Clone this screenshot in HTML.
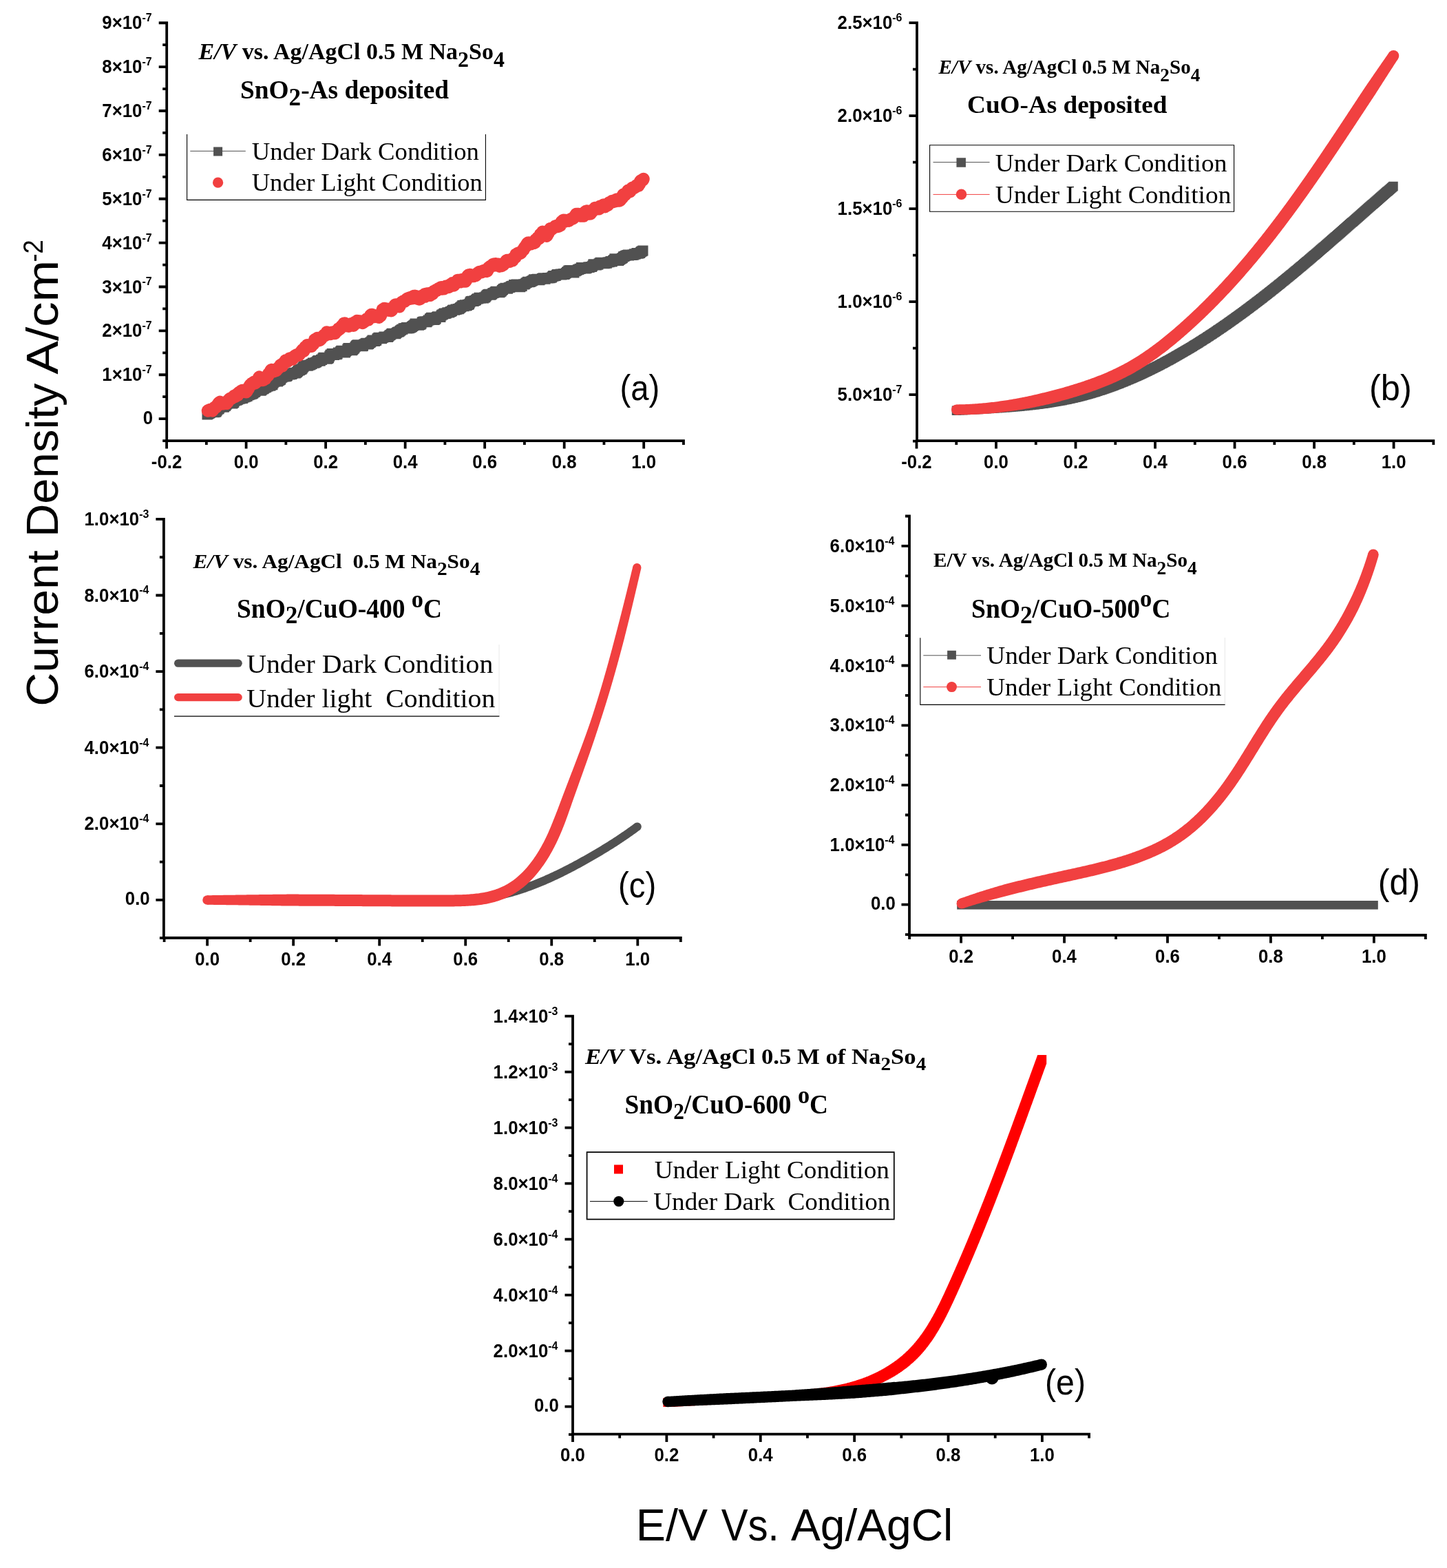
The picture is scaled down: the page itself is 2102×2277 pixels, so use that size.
<!DOCTYPE html>
<html lang="en"><head><meta charset="utf-8"><title>Photocurrent density curves</title>
<style>html,body{margin:0;padding:0;background:#fff}body{width:2102px;height:2277px;overflow:hidden}svg{display:block}text{white-space:pre}</style></head>
<body>
<svg width="2102" height="2277" viewBox="0 0 2102 2277" role="img" aria-label="Photocurrent density versus potential curves, panels a to e">
<rect width="2102" height="2277" fill="#fff"/>
<g id="curves">
<path d="M293.5 594.5h15v15h-15zM294.57 593.9h15v15h-15zM295.64 593.32h15v15h-15zM296.71 592.76h15v15h-15zM297.77 591.91h15v15h-15zM298.85 591.29h15v15h-15zM299.92 591.1h15v15h-15zM300.99 590.55h15v15h-15zM302.06 590.27h15v15h-15zM303.13 591.01h15v15h-15zM304.21 591.16h15v15h-15zM305.28 590.06h15v15h-15zM306.35 590.74h15v15h-15zM307.43 589.15h15v15h-15zM308.51 587.59h15v15h-15zM309.58 586.46h15v15h-15zM310.66 586.14h15v15h-15zM311.74 584.2h15v15h-15zM312.81 583.64h15v15h-15zM313.89 583.53h15v15h-15zM314.97 583.83h15v15h-15zM316.05 583.65h15v15h-15zM317.13 583.68h15v15h-15zM318.21 583.48h15v15h-15zM319.29 581.95h15v15h-15zM320.37 581.68h15v15h-15zM321.45 579.93h15v15h-15zM322.53 578.67h15v15h-15zM323.61 577.17h15v15h-15zM324.69 577.69h15v15h-15zM325.78 576.31h15v15h-15zM326.86 576.74h15v15h-15zM327.94 578.24h15v15h-15zM329.02 578.55h15v15h-15zM330.11 578.52h15v15h-15zM331.19 577.69h15v15h-15zM332.27 576.88h15v15h-15zM333.36 574.83h15v15h-15zM334.44 574.29h15v15h-15zM335.52 573.5h15v15h-15zM336.61 573.82h15v15h-15zM337.69 572.88h15v15h-15zM338.78 572.31h15v15h-15zM339.86 571.38h15v15h-15zM340.95 571.74h15v15h-15zM342.03 570.87h15v15h-15zM343.11 571.34h15v15h-15zM344.2 570.5h15v15h-15zM345.28 571.01h15v15h-15zM346.37 569.05h15v15h-15zM347.45 569.41h15v15h-15zM348.53 568.43h15v15h-15zM349.62 568.64h15v15h-15zM350.7 567.94h15v15h-15zM351.79 567.86h15v15h-15zM352.87 566.31h15v15h-15zM353.95 566.31h15v15h-15zM355.04 565.33h15v15h-15zM356.12 565.4h15v15h-15zM357.2 564.58h15v15h-15zM358.29 564.84h15v15h-15zM359.37 564.17h15v15h-15zM360.45 563.55h15v15h-15zM361.53 562.19h15v15h-15zM362.61 562h15v15h-15zM363.7 560.81h15v15h-15zM364.78 559.4h15v15h-15zM365.86 558.49h15v15h-15zM366.94 558.19h15v15h-15zM368.02 558.44h15v15h-15zM369.1 558.83h15v15h-15zM370.18 559.51h15v15h-15zM371.26 559.66h15v15h-15zM372.34 559.2h15v15h-15zM373.41 557.9h15v15h-15zM374.49 557.25h15v15h-15zM375.57 557.14h15v15h-15zM376.65 555.97h15v15h-15zM377.72 554.63h15v15h-15zM378.8 555.13h15v15h-15zM379.87 554.29h15v15h-15zM380.95 553.29h15v15h-15zM382.02 553.45h15v15h-15zM383.1 552.66h15v15h-15zM384.17 552.4h15v15h-15zM385.24 552.75h15v15h-15zM386.32 551.75h15v15h-15zM387.39 551.14h15v15h-15zM388.46 551.34h15v15h-15zM389.53 548.87h15v15h-15zM390.61 547.23h15v15h-15zM391.68 546.81h15v15h-15zM392.75 546.48h15v15h-15zM393.82 546.28h15v15h-15zM394.89 546.28h15v15h-15zM395.96 546.6h15v15h-15zM397.03 545.4h15v15h-15zM398.11 544.67h15v15h-15zM399.18 544.36h15v15h-15zM400.25 543.62h15v15h-15zM401.32 541.25h15v15h-15zM402.39 540.62h15v15h-15zM403.46 539.76h15v15h-15zM404.53 538.88h15v15h-15zM405.61 539.41h15v15h-15zM406.68 539.33h15v15h-15zM407.75 539.31h15v15h-15zM408.82 539.02h15v15h-15zM409.9 538.08h15v15h-15zM410.97 535.27h15v15h-15zM412.04 535.78h15v15h-15zM413.12 536.59h15v15h-15zM414.19 536.26h15v15h-15zM415.27 535.29h15v15h-15zM416.34 535.89h15v15h-15zM417.42 535.02h15v15h-15zM418.5 534.59h15v15h-15zM419.57 533.84h15v15h-15zM420.65 533.91h15v15h-15zM421.73 534.53h15v15h-15zM422.81 533.82h15v15h-15zM423.89 532.93h15v15h-15zM424.97 531.65h15v15h-15zM426.05 530.79h15v15h-15zM427.13 529.79h15v15h-15zM428.21 530.14h15v15h-15zM429.3 528.93h15v15h-15zM430.38 528.99h15v15h-15zM431.47 527.69h15v15h-15zM432.55 526.35h15v15h-15zM433.64 524.66h15v15h-15zM434.73 523.46h15v15h-15zM435.82 523.12h15v15h-15zM436.91 523.49h15v15h-15zM438 523.86h15v15h-15zM439.1 523.77h15v15h-15zM440.19 523.39h15v15h-15zM441.29 522.63h15v15h-15zM442.38 522.59h15v15h-15zM443.48 522.15h15v15h-15zM444.58 521.34h15v15h-15zM445.68 520.92h15v15h-15zM446.78 519.58h15v15h-15zM447.89 519.79h15v15h-15zM448.99 519.66h15v15h-15zM450.09 519.37h15v15h-15zM451.2 518.76h15v15h-15zM452.31 518.37h15v15h-15zM453.42 517.08h15v15h-15zM454.53 515.9h15v15h-15zM455.64 516.82h15v15h-15zM456.75 516.79h15v15h-15zM457.86 516.61h15v15h-15zM458.98 514.64h15v15h-15zM460.09 514.9h15v15h-15zM461.21 513.3h15v15h-15zM462.33 511.78h15v15h-15zM463.45 511.9h15v15h-15zM464.56 511.96h15v15h-15zM465.69 512.73h15v15h-15zM466.81 512.84h15v15h-15zM467.93 513.68h15v15h-15zM469.05 513.05h15v15h-15zM470.17 512.32h15v15h-15zM471.3 509.8h15v15h-15zM472.42 507.83h15v15h-15zM473.55 507.43h15v15h-15zM474.68 505.88h15v15h-15zM475.8 506.18h15v15h-15zM476.93 506.55h15v15h-15zM478.06 508h15v15h-15zM479.19 506.56h15v15h-15zM480.32 506.51h15v15h-15zM481.45 507.14h15v15h-15zM482.58 506.53h15v15h-15zM483.71 504.6h15v15h-15zM484.84 504.48h15v15h-15zM485.97 504.57h15v15h-15zM487.11 502.97h15v15h-15zM488.24 501.68h15v15h-15zM489.37 502.59h15v15h-15zM490.51 503h15v15h-15zM491.64 504.2h15v15h-15zM492.78 504.45h15v15h-15zM493.91 504.38h15v15h-15zM495.04 502.69h15v15h-15zM496.18 501.83h15v15h-15zM497.31 499.48h15v15h-15zM498.45 498.11h15v15h-15zM499.59 498.2h15v15h-15zM500.72 499.22h15v15h-15zM501.86 499.39h15v15h-15zM502.99 500.54h15v15h-15zM504.13 501.34h15v15h-15zM505.27 500.13h15v15h-15zM506.4 498.95h15v15h-15zM507.54 497.86h15v15h-15zM508.67 496.05h15v15h-15zM509.81 494.54h15v15h-15zM510.95 493.7h15v15h-15zM512.08 493.26h15v15h-15zM513.22 493.18h15v15h-15zM514.35 493.16h15v15h-15zM515.49 494.59h15v15h-15zM516.62 495.17h15v15h-15zM517.76 495.12h15v15h-15zM518.89 495.35h15v15h-15zM520.03 494.76h15v15h-15zM521.16 492.39h15v15h-15zM522.3 492.33h15v15h-15zM523.43 491.2h15v15h-15zM524.56 490.86h15v15h-15zM525.7 491.13h15v15h-15zM526.83 492.47h15v15h-15zM527.96 492.08h15v15h-15zM529.09 490.87h15v15h-15zM530.23 490.12h15v15h-15zM531.36 489.14h15v15h-15zM532.49 487.71h15v15h-15zM533.62 486.61h15v15h-15zM534.75 487.86h15v15h-15zM535.88 487.55h15v15h-15zM537.01 488.12h15v15h-15zM538.13 487.18h15v15h-15zM539.26 486.68h15v15h-15zM540.39 484.44h15v15h-15zM541.52 483.46h15v15h-15zM542.64 482.8h15v15h-15zM543.77 482.91h15v15h-15zM544.9 482.98h15v15h-15zM546.02 484.08h15v15h-15zM547.15 484.31h15v15h-15zM548.27 483.07h15v15h-15zM549.4 482.61h15v15h-15zM550.52 481.61h15v15h-15zM551.65 482.07h15v15h-15zM552.77 481.7h15v15h-15zM553.9 481.69h15v15h-15zM555.02 481.88h15v15h-15zM556.14 481.97h15v15h-15zM557.27 480.65h15v15h-15zM558.39 479.47h15v15h-15zM559.52 478.93h15v15h-15zM560.64 477.64h15v15h-15zM561.76 476.78h15v15h-15zM562.89 477.2h15v15h-15zM564.01 477.21h15v15h-15zM565.13 477.03h15v15h-15zM566.26 477.21h15v15h-15zM567.38 477.2h15v15h-15zM568.51 476.03h15v15h-15zM569.63 474.92h15v15h-15zM570.76 474.57h15v15h-15zM571.88 474.42h15v15h-15zM573.01 473.53h15v15h-15zM574.13 472.45h15v15h-15zM575.26 471.82h15v15h-15zM576.38 470.68h15v15h-15zM577.51 470.64h15v15h-15zM578.63 469.28h15v15h-15zM579.76 469.17h15v15h-15zM580.88 468.98h15v15h-15zM582.01 468.82h15v15h-15zM583.14 467.95h15v15h-15zM584.26 469.56h15v15h-15zM585.39 469.35h15v15h-15zM586.51 469.2h15v15h-15zM587.64 468.79h15v15h-15zM588.77 468.25h15v15h-15zM589.89 467.71h15v15h-15zM591.02 467.02h15v15h-15zM592.14 466.02h15v15h-15zM593.27 465.22h15v15h-15zM594.4 464.23h15v15h-15zM595.52 462.48h15v15h-15zM596.65 462.93h15v15h-15zM597.77 463.38h15v15h-15zM598.9 463.56h15v15h-15zM600.02 464.63h15v15h-15zM601.14 464.64h15v15h-15zM602.27 464.02h15v15h-15zM603.39 463.85h15v15h-15zM604.51 462.67h15v15h-15zM605.64 460.49h15v15h-15zM606.76 459.91h15v15h-15zM607.88 459.57h15v15h-15zM609 459.43h15v15h-15zM610.12 459.19h15v15h-15zM611.24 460.27h15v15h-15zM612.36 460.16h15v15h-15zM613.48 458.97h15v15h-15zM614.6 457.46h15v15h-15zM615.72 457.55h15v15h-15zM616.84 455.44h15v15h-15zM617.95 454.65h15v15h-15zM619.07 453.72h15v15h-15zM620.19 453.88h15v15h-15zM621.3 454.84h15v15h-15zM622.42 457.04h15v15h-15zM623.53 456.98h15v15h-15zM624.65 456.26h15v15h-15zM625.76 455.29h15v15h-15zM626.87 453.08h15v15h-15zM627.99 452.19h15v15h-15zM629.1 452.27h15v15h-15zM630.21 452.39h15v15h-15zM631.32 452.72h15v15h-15zM632.43 453.12h15v15h-15zM633.54 450.56h15v15h-15zM634.65 449.46h15v15h-15zM635.76 449.29h15v15h-15zM636.86 448.29h15v15h-15zM637.97 447.59h15v15h-15zM639.08 447.88h15v15h-15zM640.18 447.83h15v15h-15zM641.29 447.16h15v15h-15zM642.39 446.16h15v15h-15zM643.5 446.49h15v15h-15zM644.6 446.43h15v15h-15zM645.7 446.1h15v15h-15zM646.81 445.04h15v15h-15zM647.91 444.98h15v15h-15zM649.01 444.1h15v15h-15zM650.11 442.66h15v15h-15zM651.21 442.56h15v15h-15zM652.31 442.78h15v15h-15zM653.41 442.63h15v15h-15zM654.5 441.59h15v15h-15zM655.6 441.98h15v15h-15zM656.7 441.56h15v15h-15zM657.79 441.06h15v15h-15zM658.89 441.24h15v15h-15zM659.98 440.37h15v15h-15zM661.08 439.21h15v15h-15zM662.17 438.43h15v15h-15zM663.26 437.55h15v15h-15zM664.36 435.93h15v15h-15zM665.45 436.41h15v15h-15zM666.54 437.16h15v15h-15zM667.63 435.21h15v15h-15zM668.72 435.63h15v15h-15zM669.81 436.44h15v15h-15zM670.91 436.11h15v15h-15zM672 434.77h15v15h-15zM673.09 434.95h15v15h-15zM674.18 433.98h15v15h-15zM675.27 431.72h15v15h-15zM676.36 430.37h15v15h-15zM677.46 429.91h15v15h-15zM678.55 429.67h15v15h-15zM679.64 430.04h15v15h-15zM680.73 430.08h15v15h-15zM681.83 428.89h15v15h-15zM682.92 429.12h15v15h-15zM684.02 428.09h15v15h-15zM685.11 426.65h15v15h-15zM686.21 426.22h15v15h-15zM687.31 426.38h15v15h-15zM688.4 424.7h15v15h-15zM689.5 424.69h15v15h-15zM690.6 425.74h15v15h-15zM691.7 424.99h15v15h-15zM692.8 424.63h15v15h-15zM693.91 425.4h15v15h-15zM695.01 425.5h15v15h-15zM696.12 424.21h15v15h-15zM697.22 424.6h15v15h-15zM698.33 423.07h15v15h-15zM699.44 421.45h15v15h-15zM700.55 420.64h15v15h-15zM701.66 420.03h15v15h-15zM702.77 419.83h15v15h-15zM703.88 420.8h15v15h-15zM705 420.72h15v15h-15zM706.12 420.23h15v15h-15zM707.23 419.38h15v15h-15zM708.35 418.33h15v15h-15zM709.47 418.02h15v15h-15zM710.59 417.54h15v15h-15zM711.72 416.62h15v15h-15zM712.84 415.82h15v15h-15zM713.97 415.9h15v15h-15zM715.09 415.84h15v15h-15zM716.22 416.21h15v15h-15zM717.35 416.77h15v15h-15zM718.48 417.35h15v15h-15zM719.62 416.32h15v15h-15zM720.75 415.56h15v15h-15zM721.89 413.99h15v15h-15zM723.02 412.99h15v15h-15zM724.16 411.69h15v15h-15zM725.3 411.74h15v15h-15zM726.44 410.64h15v15h-15zM727.58 410.83h15v15h-15zM728.73 410.81h15v15h-15zM729.87 411.67h15v15h-15zM731.02 410.43h15v15h-15zM732.17 409.87h15v15h-15zM733.31 410.06h15v15h-15zM734.47 408.84h15v15h-15zM735.62 407.98h15v15h-15zM736.77 407.78h15v15h-15zM737.92 407.93h15v15h-15zM739.08 406.08h15v15h-15zM740.24 406.81h15v15h-15zM741.39 405.94h15v15h-15zM742.55 405.44h15v15h-15zM743.71 406.4h15v15h-15zM744.87 407.56h15v15h-15zM746.03 408.89h15v15h-15zM747.2 409.11h15v15h-15zM748.36 409.14h15v15h-15zM749.52 407.7h15v15h-15zM750.69 407.93h15v15h-15zM751.85 405.58h15v15h-15zM753.02 405.32h15v15h-15zM754.18 405.53h15v15h-15zM755.35 404.66h15v15h-15zM756.52 403.52h15v15h-15zM757.68 402.96h15v15h-15zM758.85 401.7h15v15h-15zM760.02 401.63h15v15h-15zM761.19 402.27h15v15h-15zM762.35 401.96h15v15h-15zM763.52 401.45h15v15h-15zM764.69 400.73h15v15h-15zM765.86 400.23h15v15h-15zM767.03 399.52h15v15h-15zM768.2 398.22h15v15h-15zM769.36 398.44h15v15h-15zM770.53 398.45h15v15h-15zM771.7 397.88h15v15h-15zM772.87 397.74h15v15h-15zM774.04 398.65h15v15h-15zM775.21 398.54h15v15h-15zM776.37 399.24h15v15h-15zM777.54 398.32h15v15h-15zM778.71 397.74h15v15h-15zM779.88 396.96h15v15h-15zM781.05 396.42h15v15h-15zM782.21 396.2h15v15h-15zM783.38 396.94h15v15h-15zM784.55 397.83h15v15h-15zM785.71 396.36h15v15h-15zM786.88 396.45h15v15h-15zM788.05 395.89h15v15h-15zM789.22 396.58h15v15h-15zM790.38 395.89h15v15h-15zM791.55 396.14h15v15h-15zM792.71 395.85h15v15h-15zM793.88 395.38h15v15h-15zM795.05 394.35h15v15h-15zM796.21 392.91h15v15h-15zM797.38 393.53h15v15h-15zM798.54 392.93h15v15h-15zM799.71 392.89h15v15h-15zM800.87 391.69h15v15h-15zM802.04 390.94h15v15h-15zM803.2 390.98h15v15h-15zM804.37 391.35h15v15h-15zM805.53 391.08h15v15h-15zM806.7 390.54h15v15h-15zM807.86 391.43h15v15h-15zM809.03 391.2h15v15h-15zM810.19 390.23h15v15h-15zM811.36 389.97h15v15h-15zM812.52 391.08h15v15h-15zM813.68 390.02h15v15h-15zM814.85 389.07h15v15h-15zM816.01 387.77h15v15h-15zM817.17 387.08h15v15h-15zM818.34 385.53h15v15h-15zM819.5 385.32h15v15h-15zM820.66 384.95h15v15h-15zM821.82 386.8h15v15h-15zM822.99 386.79h15v15h-15zM824.15 386.86h15v15h-15zM825.31 388.39h15v15h-15zM826.47 388.46h15v15h-15zM827.63 386.1h15v15h-15zM828.79 386.15h15v15h-15zM829.95 385.36h15v15h-15zM831.12 384.73h15v15h-15zM832.28 383.74h15v15h-15zM833.44 384.1h15v15h-15zM834.6 382.63h15v15h-15zM835.76 382.92h15v15h-15zM836.92 381.07h15v15h-15zM838.08 381.45h15v15h-15zM839.23 381.25h15v15h-15zM840.39 381.52h15v15h-15zM841.55 381.7h15v15h-15zM842.71 382.52h15v15h-15zM843.87 382.28h15v15h-15zM845.03 381.66h15v15h-15zM846.19 381.08h15v15h-15zM847.34 380.37h15v15h-15zM848.5 380.9h15v15h-15zM849.66 380.28h15v15h-15zM850.82 380.03h15v15h-15zM851.97 379.93h15v15h-15zM853.13 378.81h15v15h-15zM854.29 376.54h15v15h-15zM855.44 376.36h15v15h-15zM856.6 377.33h15v15h-15zM857.75 377.41h15v15h-15zM858.91 377.42h15v15h-15zM860.06 376.72h15v15h-15zM861.22 376.64h15v15h-15zM862.37 375.46h15v15h-15zM863.53 374.42h15v15h-15zM864.68 373.76h15v15h-15zM865.83 374.34h15v15h-15zM866.99 374.47h15v15h-15zM868.14 374.52h15v15h-15zM869.29 375.02h15v15h-15zM870.45 375.13h15v15h-15zM871.6 375h15v15h-15zM872.75 374.07h15v15h-15zM873.9 374.63h15v15h-15zM875.05 373.52h15v15h-15zM876.2 373.15h15v15h-15zM877.36 373.36h15v15h-15zM878.51 372.87h15v15h-15zM879.66 372.09h15v15h-15zM880.81 372.38h15v15h-15zM881.96 372.34h15v15h-15zM883.1 371.04h15v15h-15zM884.25 370.04h15v15h-15zM885.4 368.3h15v15h-15zM886.55 369.26h15v15h-15zM887.7 369.2h15v15h-15zM888.85 369.42h15v15h-15zM889.99 370.42h15v15h-15zM891.14 370.97h15v15h-15zM892.29 369.92h15v15h-15zM893.43 369.03h15v15h-15zM894.58 368.19h15v15h-15zM895.72 367.85h15v15h-15zM896.87 366.96h15v15h-15zM898.01 365.23h15v15h-15zM899.16 364.89h15v15h-15zM900.3 364.34h15v15h-15zM901.45 363.76h15v15h-15zM902.59 363.18h15v15h-15zM903.73 362.97h15v15h-15zM904.87 362.54h15v15h-15zM906.02 363.39h15v15h-15zM907.16 362.64h15v15h-15zM908.3 362.78h15v15h-15zM909.44 363.03h15v15h-15zM910.58 363.02h15v15h-15zM911.72 362.28h15v15h-15zM912.86 362.74h15v15h-15zM914 361.31h15v15h-15zM915.14 361.72h15v15h-15zM916.28 361.17h15v15h-15zM917.41 360.06h15v15h-15zM918.55 360.26h15v15h-15zM919.69 360.73h15v15h-15zM920.82 360.31h15v15h-15zM921.96 359.93h15v15h-15zM923.1 358.87h15v15h-15zM924.23 357.71h15v15h-15zM925.37 357.19h15v15h-15zM926.5 356.5h15v15h-15z" fill="#515151"/>
<path d="M302 596.5L303.09 595.83L304.18 595.33L305.27 595.03L306.36 595.33L307.45 595.91L308.53 596.33L309.61 594.98L310.69 592.58L311.77 591.89L312.85 591.59L313.92 591.15L315 588.93L316.07 588.32L317.14 586.21L318.21 584.79L319.27 584.07L320.34 584.98L321.4 586.45L322.46 586.11L323.52 586.23L324.58 585.74L325.63 584.62L326.69 585.12L327.74 585.61L328.79 585.82L329.84 584.33L330.89 583.67L331.93 581.24L332.98 580.05L334.02 578.95L335.06 579.13L336.1 578.79L337.14 577.63L338.17 576.65L339.21 576.57L340.24 575.01L341.27 575.02L342.3 575.63L343.33 574.15L344.36 572.48L345.38 573.74L346.41 571.09L347.43 569.79L348.45 570.4L349.47 568.99L350.49 567.63L351.51 568.73L352.52 567.07L353.53 567.26L354.55 567.94L355.56 567.7L356.57 568.39L357.58 569.37L358.59 568.09L359.59 565.67L360.6 564.72L361.6 562.22L362.6 560.83L363.61 558.93L364.61 558.56L365.61 556.87L366.6 557.9L367.6 555.82L368.6 554.98L369.59 555.38L370.59 556.48L371.58 555.17L372.57 554.61L373.56 552.98L374.56 552.41L375.54 549.78L376.53 547.58L377.52 549.47L378.51 552.02L379.5 551.16L380.48 551.35L381.47 552.05L382.45 551.92L383.44 550.8L384.42 550.43L385.4 550.01L386.38 547.53L387.37 546.55L388.35 546.16L389.33 545.48L390.31 542.53L391.29 542.67L392.27 541.58L393.25 538.41L394.23 537.08L395.2 539.06L396.18 537.75L397.16 537.74L398.14 539.16L399.11 538.49L400.09 537.17L401.07 538.23L402.05 536.19L403.02 536.03L404 534.87L404.97 533.51L405.95 533.16L406.93 532.38L407.9 529.87L408.88 530.6L409.86 531.59L410.84 529.56L411.81 527.6L412.79 527.57L413.77 525.89L414.74 523.62L415.72 524.57L416.7 524.19L417.68 524.74L418.66 523.05L419.64 521.91L420.62 520.53L421.6 521.76L422.58 520.71L423.56 521.46L424.54 521.59L425.52 520.47L426.5 519.29L427.49 517.67L428.47 516.92L429.45 516.62L430.44 515.79L431.42 515.27L432.41 515.25L433.4 516.12L434.38 515.21L435.37 514.15L436.36 512.45L437.35 511.25L438.34 509.6L439.33 508.33L440.32 508.38L441.32 509.68L442.31 506.72L443.31 504.22L444.3 504.07L445.3 503.41L446.3 501.31L447.3 502.55L448.3 503.48L449.3 502.85L450.3 501.36L451.3 502.66L452.31 502.7L453.31 500.97L454.32 499.97L455.33 499.58L456.33 496.7L457.34 493.29L458.36 492.7L459.37 493.05L460.38 491.56L461.4 490.91L462.41 493.57L463.43 494.13L464.45 493.93L465.47 492.82L466.5 491.93L467.52 490.15L468.55 489.32L469.58 488.34L470.61 486.85L471.64 487.53L472.68 485.93L473.72 485.38L474.76 482.47L475.8 484.43L476.85 483.93L477.89 484.51L478.95 483.49L480 484.96L481.06 484.36L482.12 482.65L483.18 483.59L484.25 483.81L485.32 482.29L486.39 484.08L487.47 482.6L488.55 481.52L489.63 479.82L490.72 479.7L491.81 477.37L492.91 478.1L494.01 477.37L495.11 475.76L496.21 473.83L497.32 473.29L498.44 471.78L499.56 469.85L500.68 469.47L501.8 471.54L502.93 471.24L504.06 473.02L505.2 472.7L506.33 473.63L507.47 471.09L508.61 470.73L509.76 470.47L510.9 470.14L512.04 471.17L513.19 472.72L514.34 471.52L515.49 467.98L516.63 469.68L517.78 467.85L518.93 466.07L520.08 466.24L521.23 468.02L522.38 467.75L523.53 466.57L524.67 467.77L525.82 468.38L526.96 468.95L528.11 467.08L529.25 466.96L530.39 466.47L531.53 464.86L532.67 463.29L533.8 464.33L534.93 464.35L536.06 460.98L537.19 460.11L538.31 457.92L539.43 456.95L540.55 457.03L541.67 458.1L542.78 457.99L543.9 459.94L545.01 458.82L546.12 459.26L547.22 459.29L548.33 459.76L549.43 459.87L550.54 460.77L551.64 458.5L552.74 458.86L553.84 455.77L554.93 452.98L556.03 449.29L557.13 450.36L558.22 447.97L559.32 449.15L560.41 449.45L561.5 450.68L562.6 448.7L563.69 449.51L564.79 450.63L565.88 450.34L566.97 450.35L568.07 451.28L569.16 450.39L570.25 447.17L571.35 446.14L572.45 446.13L573.54 443.28L574.64 442.43L575.74 443.97L576.84 444.7L577.94 443.26L579.04 444.98L580.14 445.18L581.25 442.75L582.35 440.18L583.46 439.13L584.57 438.77L585.67 437.65L586.78 437.43L587.89 437.68L589 436.42L590.11 435.04L591.22 434.03L592.34 434.71L593.45 432.84L594.56 434.05L595.68 433.13L596.79 432L597.9 431.88L599.02 433.29L600.14 430.56L601.25 429.91L602.37 431.46L603.48 429.96L604.6 430.46L605.72 432.69L606.84 433.62L607.95 433.21L609.07 434.38L610.19 433.83L611.31 433.12L612.42 430.22L613.54 430.29L614.66 429.83L615.78 428.53L616.89 427.27L618.01 430.43L619.13 427.62L620.25 426.42L621.36 428.42L622.48 427.57L623.6 426.01L624.72 428.82L625.83 427.86L626.95 425.75L628.07 426.95L629.18 425.08L630.3 422.87L631.42 422.8L632.54 422.59L633.65 421.32L634.77 421.51L635.89 420.24L637.01 419.21L638.12 418.83L639.24 418.51L640.36 417.48L641.47 417.2L642.59 419.46L643.71 419.24L644.83 419.28L645.94 417.28L647.06 418.15L648.18 415.75L649.29 415.8L650.41 415.17L651.53 416.99L652.64 416.45L653.76 413.84L654.88 412.82L655.99 412.29L657.11 411.28L658.23 411.55L659.35 414.47L660.46 411.85L661.58 410.52L662.7 410.96L663.81 409.5L664.93 407.08L666.05 407.02L667.16 409.07L668.28 409.3L669.4 407.62L670.51 406.33L671.63 408.29L672.75 406.83L673.86 407.09L674.98 408.44L676.1 408.42L677.21 406.69L678.33 403.43L679.45 400.69L680.56 399.47L681.68 400.27L682.79 398.95L683.91 400.32L685.03 400.96L686.14 400.91L687.26 400.57L688.38 400.96L689.49 400.34L690.61 400.19L691.73 399.45L692.84 397.7L693.96 396.51L695.08 396.36L696.19 395.11L697.31 394.76L698.42 395.06L699.54 395.33L700.66 394.77L701.77 393.29L702.89 393.08L704 393.57L705.11 393.35L706.22 392.85L707.34 393.92L708.45 392.22L709.55 389.12L710.66 388.32L711.77 387.19L712.87 386.98L713.98 386.4L715.08 385.26L716.18 383.8L717.27 385.55L718.37 384.05L719.46 383.3L720.55 384.46L721.64 385.34L722.72 383.86L723.8 383.84L724.88 385.86L725.96 386.64L727.03 385.61L728.1 385.15L729.16 385.92L730.22 384.9L731.28 384.61L732.33 383.08L733.38 381.83L734.42 380.4L735.46 378.67L736.5 378.1L737.52 378.98L738.55 379.3L739.57 377.82L740.59 379.72L741.6 379.23L742.6 377.85L743.61 376.46L744.61 378.3L745.61 375.05L746.6 374.05L747.59 374.44L748.58 373.68L749.57 369.63L750.55 369.42L751.54 368.27L752.52 367.71L753.5 367.71L754.48 368.08L755.45 367.98L756.43 367.44L757.41 365.92L758.39 364.57L759.36 363.63L760.34 362.78L761.32 360.66L762.3 359.22L763.28 358.48L764.26 356.69L765.24 355L766.22 353.46L767.21 352.72L768.19 352.54L769.18 353.67L770.17 353.32L771.16 354.23L772.15 352.89L773.14 353.34L774.13 352.62L775.12 352.97L776.12 351.72L777.11 352.14L778.11 348.21L779.11 347.78L780.11 346.97L781.11 345.4L782.11 344.85L783.11 346.38L784.12 343.45L785.12 340.32L786.13 340.41L787.13 339.24L788.14 336.77L789.15 337.73L790.16 338.93L791.18 339.81L792.19 340.36L793.21 342.31L794.22 342.69L795.24 340.65L796.26 339L797.28 336.79L798.3 333.85L799.33 332.11L800.35 332.66L801.38 332.92L802.41 331.83L803.43 331.07L804.46 330.5L805.5 329.7L806.53 328.37L807.56 329.13L808.6 328.95L809.64 328.99L810.68 328.88L811.72 328.48L812.76 327.34L813.8 327.27L814.85 323.61L815.89 321.83L816.94 321.35L817.99 320.02L819.04 319.77L820.09 321.76L821.15 320.83L822.2 320L823.26 320.49L824.32 320.16L825.38 320.01L826.44 320.64L827.5 319.55L828.56 319.14L829.63 318.12L830.7 317.67L831.77 317.42L832.84 316.99L833.91 315.37L834.98 314.55L836.06 312.7L837.13 310.91L838.21 310.92L839.29 311.17L840.37 311.07L841.45 311.68L842.54 311.79L843.62 313.46L844.71 313.1L845.8 313.48L846.89 312.62L847.98 313.48L849.07 308.78L850.17 307.9L851.27 306.65L852.36 306.59L853.46 307.2L854.56 309.13L855.67 310.47L856.77 310.46L857.87 310.3L858.98 308.2L860.09 307.31L861.2 306.16L862.31 304.05L863.42 303.8L864.53 301.98L865.64 301.89L866.76 302.88L867.87 303.19L868.98 301.71L870.1 303.21L871.21 302.56L872.33 299.49L873.44 299.47L874.55 299.52L875.67 298.66L876.78 297.5L877.89 299.33L879 300.14L880.11 299.17L881.22 298.32L882.33 298.16L883.43 297.39L884.54 294.8L885.64 294.91L886.75 293.76L887.85 293.04L888.94 291.94L890.04 293.27L891.13 292.16L892.23 291.48L893.31 292.32L894.4 291.12L895.48 289.69L896.56 290.53L897.64 291.62L898.71 289.89L899.78 291.43L900.85 290.6L901.91 289.38L902.97 287.22L904.02 287.06L905.07 282.87L906.11 283.87L907.15 283.78L908.18 282.66L909.21 280.73L910.23 280.21L911.24 279.02L912.25 276.73L913.25 277.1L914.24 277.49L915.23 278.15L916.21 275.43L917.18 275.15L918.14 273.2L919.09 272.69L920.04 272.33L920.98 272.97L921.9 271.98L922.82 271.68L923.73 271.1L924.62 269.59L925.51 269.76L926.39 269.83L927.25 269.7L928.1 268.29L928.95 267.24L929.78 264.14L930.59 262.64L931.4 262.38L932.19 262.24L932.98 261.88L933.74 261.4L934.5 260" fill="none" stroke="#f14040" stroke-width="18.5" stroke-linecap="round" stroke-linejoin="round"/>
<path d="M1382.74 589.45h13.5v13.5h-13.5zM1384.24 589.36h13.5v13.5h-13.5zM1385.74 589.27h13.5v13.5h-13.5zM1387.24 589.19h13.5v13.5h-13.5zM1388.74 589.1h13.5v13.5h-13.5zM1390.24 589.01h13.5v13.5h-13.5zM1391.73 588.93h13.5v13.5h-13.5zM1393.23 588.84h13.5v13.5h-13.5zM1394.73 588.76h13.5v13.5h-13.5zM1396.23 588.67h13.5v13.5h-13.5zM1397.73 588.59h13.5v13.5h-13.5zM1399.23 588.5h13.5v13.5h-13.5zM1400.72 588.42h13.5v13.5h-13.5zM1402.22 588.33h13.5v13.5h-13.5zM1403.72 588.25h13.5v13.5h-13.5zM1405.22 588.17h13.5v13.5h-13.5zM1406.72 588.08h13.5v13.5h-13.5zM1408.22 588h13.5v13.5h-13.5zM1409.71 587.91h13.5v13.5h-13.5zM1411.21 587.83h13.5v13.5h-13.5zM1412.71 587.74h13.5v13.5h-13.5zM1414.21 587.66h13.5v13.5h-13.5zM1415.71 587.57h13.5v13.5h-13.5zM1417.21 587.48h13.5v13.5h-13.5zM1418.7 587.4h13.5v13.5h-13.5zM1420.2 587.31h13.5v13.5h-13.5zM1421.7 587.22h13.5v13.5h-13.5zM1423.2 587.13h13.5v13.5h-13.5zM1424.7 587.04h13.5v13.5h-13.5zM1426.19 586.95h13.5v13.5h-13.5zM1427.69 586.86h13.5v13.5h-13.5zM1429.19 586.77h13.5v13.5h-13.5zM1430.69 586.68h13.5v13.5h-13.5zM1432.19 586.58h13.5v13.5h-13.5zM1433.68 586.49h13.5v13.5h-13.5zM1435.18 586.39h13.5v13.5h-13.5zM1436.68 586.3h13.5v13.5h-13.5zM1438.18 586.2h13.5v13.5h-13.5zM1439.67 586.1h13.5v13.5h-13.5zM1441.17 586h13.5v13.5h-13.5zM1442.67 585.9h13.5v13.5h-13.5zM1444.17 585.8h13.5v13.5h-13.5zM1445.66 585.69h13.5v13.5h-13.5zM1447.16 585.59h13.5v13.5h-13.5zM1448.66 585.48h13.5v13.5h-13.5zM1450.15 585.37h13.5v13.5h-13.5zM1451.65 585.26h13.5v13.5h-13.5zM1453.15 585.15h13.5v13.5h-13.5zM1454.64 585.04h13.5v13.5h-13.5zM1456.14 584.92h13.5v13.5h-13.5zM1457.64 584.8h13.5v13.5h-13.5zM1459.13 584.68h13.5v13.5h-13.5zM1460.63 584.56h13.5v13.5h-13.5zM1462.12 584.44h13.5v13.5h-13.5zM1463.62 584.32h13.5v13.5h-13.5zM1465.12 584.19h13.5v13.5h-13.5zM1466.61 584.06h13.5v13.5h-13.5zM1468.11 583.93h13.5v13.5h-13.5zM1469.6 583.8h13.5v13.5h-13.5zM1471.1 583.66h13.5v13.5h-13.5zM1472.59 583.52h13.5v13.5h-13.5zM1474.08 583.38h13.5v13.5h-13.5zM1475.58 583.24h13.5v13.5h-13.5zM1477.07 583.1h13.5v13.5h-13.5zM1478.57 582.95h13.5v13.5h-13.5zM1480.06 582.8h13.5v13.5h-13.5zM1481.55 582.65h13.5v13.5h-13.5zM1483.04 582.49h13.5v13.5h-13.5zM1484.54 582.33h13.5v13.5h-13.5zM1486.03 582.17h13.5v13.5h-13.5zM1487.52 582.01h13.5v13.5h-13.5zM1489.01 581.84h13.5v13.5h-13.5zM1490.5 581.67h13.5v13.5h-13.5zM1491.99 581.5h13.5v13.5h-13.5zM1493.48 581.32h13.5v13.5h-13.5zM1494.97 581.15h13.5v13.5h-13.5zM1496.46 580.96h13.5v13.5h-13.5zM1497.95 580.78h13.5v13.5h-13.5zM1499.44 580.59h13.5v13.5h-13.5zM1500.93 580.4h13.5v13.5h-13.5zM1502.42 580.2h13.5v13.5h-13.5zM1503.91 580.01h13.5v13.5h-13.5zM1505.39 579.8h13.5v13.5h-13.5zM1506.88 579.6h13.5v13.5h-13.5zM1508.37 579.39h13.5v13.5h-13.5zM1509.85 579.18h13.5v13.5h-13.5zM1511.34 578.96h13.5v13.5h-13.5zM1512.82 578.74h13.5v13.5h-13.5zM1514.3 578.51h13.5v13.5h-13.5zM1515.79 578.29h13.5v13.5h-13.5zM1517.27 578.05h13.5v13.5h-13.5zM1518.75 577.82h13.5v13.5h-13.5zM1520.23 577.58h13.5v13.5h-13.5zM1521.72 577.34h13.5v13.5h-13.5zM1523.2 577.09h13.5v13.5h-13.5zM1524.67 576.83h13.5v13.5h-13.5zM1526.15 576.58h13.5v13.5h-13.5zM1527.63 576.32h13.5v13.5h-13.5zM1529.11 576.05h13.5v13.5h-13.5zM1530.58 575.78h13.5v13.5h-13.5zM1532.06 575.51h13.5v13.5h-13.5zM1533.54 575.23h13.5v13.5h-13.5zM1535.01 574.95h13.5v13.5h-13.5zM1536.48 574.66h13.5v13.5h-13.5zM1537.95 574.37h13.5v13.5h-13.5zM1539.43 574.07h13.5v13.5h-13.5zM1540.9 573.77h13.5v13.5h-13.5zM1542.36 573.46h13.5v13.5h-13.5zM1543.83 573.15h13.5v13.5h-13.5zM1545.3 572.84h13.5v13.5h-13.5zM1546.77 572.51h13.5v13.5h-13.5zM1548.23 572.19h13.5v13.5h-13.5zM1549.69 571.86h13.5v13.5h-13.5zM1551.16 571.52h13.5v13.5h-13.5zM1552.62 571.18h13.5v13.5h-13.5zM1554.08 570.83h13.5v13.5h-13.5zM1555.54 570.48h13.5v13.5h-13.5zM1557 570.13h13.5v13.5h-13.5zM1558.45 569.77h13.5v13.5h-13.5zM1559.91 569.4h13.5v13.5h-13.5zM1561.36 569.03h13.5v13.5h-13.5zM1562.81 568.65h13.5v13.5h-13.5zM1564.27 568.27h13.5v13.5h-13.5zM1565.72 567.89h13.5v13.5h-13.5zM1567.17 567.49h13.5v13.5h-13.5zM1568.61 567.1h13.5v13.5h-13.5zM1570.06 566.7h13.5v13.5h-13.5zM1571.5 566.29h13.5v13.5h-13.5zM1572.95 565.88h13.5v13.5h-13.5zM1574.39 565.47h13.5v13.5h-13.5zM1575.83 565.05h13.5v13.5h-13.5zM1577.27 564.63h13.5v13.5h-13.5zM1578.71 564.2h13.5v13.5h-13.5zM1580.15 563.77h13.5v13.5h-13.5zM1581.58 563.33h13.5v13.5h-13.5zM1583.02 562.89h13.5v13.5h-13.5zM1584.45 562.44h13.5v13.5h-13.5zM1585.88 561.99h13.5v13.5h-13.5zM1587.31 561.53h13.5v13.5h-13.5zM1588.74 561.08h13.5v13.5h-13.5zM1590.17 560.61h13.5v13.5h-13.5zM1591.59 560.14h13.5v13.5h-13.5zM1593.02 559.67h13.5v13.5h-13.5zM1594.44 559.19h13.5v13.5h-13.5zM1595.86 558.71h13.5v13.5h-13.5zM1597.28 558.23h13.5v13.5h-13.5zM1598.7 557.74h13.5v13.5h-13.5zM1600.12 557.24h13.5v13.5h-13.5zM1601.53 556.74h13.5v13.5h-13.5zM1602.95 556.24h13.5v13.5h-13.5zM1604.36 555.74h13.5v13.5h-13.5zM1605.77 555.23h13.5v13.5h-13.5zM1607.18 554.71h13.5v13.5h-13.5zM1608.59 554.19h13.5v13.5h-13.5zM1610 553.67h13.5v13.5h-13.5zM1611.4 553.14h13.5v13.5h-13.5zM1612.81 552.61h13.5v13.5h-13.5zM1614.21 552.08h13.5v13.5h-13.5zM1615.61 551.54h13.5v13.5h-13.5zM1617.01 551h13.5v13.5h-13.5zM1618.41 550.45h13.5v13.5h-13.5zM1619.8 549.9h13.5v13.5h-13.5zM1621.2 549.35h13.5v13.5h-13.5zM1622.59 548.79h13.5v13.5h-13.5zM1623.98 548.23h13.5v13.5h-13.5zM1625.37 547.67h13.5v13.5h-13.5zM1626.76 547.1h13.5v13.5h-13.5zM1628.15 546.53h13.5v13.5h-13.5zM1629.54 545.95h13.5v13.5h-13.5zM1630.92 545.37h13.5v13.5h-13.5zM1632.3 544.79h13.5v13.5h-13.5zM1633.68 544.2h13.5v13.5h-13.5zM1635.06 543.61h13.5v13.5h-13.5zM1636.44 543.02h13.5v13.5h-13.5zM1637.82 542.42h13.5v13.5h-13.5zM1639.19 541.82h13.5v13.5h-13.5zM1640.57 541.22h13.5v13.5h-13.5zM1641.94 540.61h13.5v13.5h-13.5zM1643.31 540h13.5v13.5h-13.5zM1644.68 539.38h13.5v13.5h-13.5zM1646.05 538.77h13.5v13.5h-13.5zM1647.42 538.14h13.5v13.5h-13.5zM1648.78 537.52h13.5v13.5h-13.5zM1650.14 536.89h13.5v13.5h-13.5zM1651.5 536.26h13.5v13.5h-13.5zM1652.87 535.63h13.5v13.5h-13.5zM1654.22 534.99h13.5v13.5h-13.5zM1655.58 534.35h13.5v13.5h-13.5zM1656.94 533.71h13.5v13.5h-13.5zM1658.29 533.06h13.5v13.5h-13.5zM1659.64 532.41h13.5v13.5h-13.5zM1661 531.76h13.5v13.5h-13.5zM1662.35 531.1h13.5v13.5h-13.5zM1663.69 530.44h13.5v13.5h-13.5zM1665.04 529.78h13.5v13.5h-13.5zM1666.39 529.12h13.5v13.5h-13.5zM1667.73 528.45h13.5v13.5h-13.5zM1669.07 527.78h13.5v13.5h-13.5zM1670.41 527.1h13.5v13.5h-13.5zM1671.75 526.43h13.5v13.5h-13.5zM1673.09 525.75h13.5v13.5h-13.5zM1674.43 525.06h13.5v13.5h-13.5zM1675.76 524.38h13.5v13.5h-13.5zM1677.1 523.69h13.5v13.5h-13.5zM1678.43 523h13.5v13.5h-13.5zM1679.76 522.3h13.5v13.5h-13.5zM1681.09 521.61h13.5v13.5h-13.5zM1682.41 520.91h13.5v13.5h-13.5zM1683.74 520.2h13.5v13.5h-13.5zM1685.07 519.5h13.5v13.5h-13.5zM1686.39 518.79h13.5v13.5h-13.5zM1687.71 518.08h13.5v13.5h-13.5zM1689.03 517.37h13.5v13.5h-13.5zM1690.35 516.65h13.5v13.5h-13.5zM1691.67 515.93h13.5v13.5h-13.5zM1692.98 515.21h13.5v13.5h-13.5zM1694.3 514.49h13.5v13.5h-13.5zM1695.61 513.76h13.5v13.5h-13.5zM1696.93 513.04h13.5v13.5h-13.5zM1698.24 512.3h13.5v13.5h-13.5zM1699.55 511.57h13.5v13.5h-13.5zM1700.85 510.84h13.5v13.5h-13.5zM1702.16 510.1h13.5v13.5h-13.5zM1703.46 509.36h13.5v13.5h-13.5zM1704.77 508.61h13.5v13.5h-13.5zM1706.07 507.87h13.5v13.5h-13.5zM1707.37 507.12h13.5v13.5h-13.5zM1708.67 506.37h13.5v13.5h-13.5zM1709.97 505.61h13.5v13.5h-13.5zM1711.27 504.86h13.5v13.5h-13.5zM1712.56 504.1h13.5v13.5h-13.5zM1713.86 503.34h13.5v13.5h-13.5zM1715.15 502.58h13.5v13.5h-13.5zM1716.44 501.82h13.5v13.5h-13.5zM1717.73 501.05h13.5v13.5h-13.5zM1719.02 500.28h13.5v13.5h-13.5zM1720.31 499.51h13.5v13.5h-13.5zM1721.59 498.73h13.5v13.5h-13.5zM1722.88 497.96h13.5v13.5h-13.5zM1724.16 497.18h13.5v13.5h-13.5zM1725.44 496.4h13.5v13.5h-13.5zM1726.72 495.62h13.5v13.5h-13.5zM1728 494.83h13.5v13.5h-13.5zM1729.28 494.05h13.5v13.5h-13.5zM1730.56 493.26h13.5v13.5h-13.5zM1731.83 492.47h13.5v13.5h-13.5zM1733.11 491.67h13.5v13.5h-13.5zM1734.38 490.88h13.5v13.5h-13.5zM1735.65 490.08h13.5v13.5h-13.5zM1736.92 489.28h13.5v13.5h-13.5zM1738.19 488.48h13.5v13.5h-13.5zM1739.46 487.68h13.5v13.5h-13.5zM1740.72 486.87h13.5v13.5h-13.5zM1741.99 486.06h13.5v13.5h-13.5zM1743.25 485.25h13.5v13.5h-13.5zM1744.51 484.44h13.5v13.5h-13.5zM1745.77 483.63h13.5v13.5h-13.5zM1747.03 482.81h13.5v13.5h-13.5zM1748.29 481.99h13.5v13.5h-13.5zM1749.55 481.17h13.5v13.5h-13.5zM1750.8 480.35h13.5v13.5h-13.5zM1752.06 479.53h13.5v13.5h-13.5zM1753.31 478.7h13.5v13.5h-13.5zM1754.56 477.88h13.5v13.5h-13.5zM1755.82 477.05h13.5v13.5h-13.5zM1757.07 476.21h13.5v13.5h-13.5zM1758.31 475.38h13.5v13.5h-13.5zM1759.56 474.55h13.5v13.5h-13.5zM1760.81 473.71h13.5v13.5h-13.5zM1762.05 472.87h13.5v13.5h-13.5zM1763.29 472.03h13.5v13.5h-13.5zM1764.54 471.19h13.5v13.5h-13.5zM1765.78 470.35h13.5v13.5h-13.5zM1767.02 469.5h13.5v13.5h-13.5zM1768.26 468.65h13.5v13.5h-13.5zM1769.49 467.8h13.5v13.5h-13.5zM1770.73 466.95h13.5v13.5h-13.5zM1771.96 466.1h13.5v13.5h-13.5zM1773.2 465.24h13.5v13.5h-13.5zM1774.43 464.39h13.5v13.5h-13.5zM1775.66 463.53h13.5v13.5h-13.5zM1776.89 462.67h13.5v13.5h-13.5zM1778.12 461.81h13.5v13.5h-13.5zM1779.35 460.95h13.5v13.5h-13.5zM1780.58 460.08h13.5v13.5h-13.5zM1781.8 459.22h13.5v13.5h-13.5zM1783.03 458.35h13.5v13.5h-13.5zM1784.25 457.48h13.5v13.5h-13.5zM1785.47 456.61h13.5v13.5h-13.5zM1786.69 455.74h13.5v13.5h-13.5zM1787.91 454.86h13.5v13.5h-13.5zM1789.13 453.99h13.5v13.5h-13.5zM1790.35 453.11h13.5v13.5h-13.5zM1791.57 452.23h13.5v13.5h-13.5zM1792.78 451.35h13.5v13.5h-13.5zM1794 450.47h13.5v13.5h-13.5zM1795.21 449.58h13.5v13.5h-13.5zM1796.42 448.7h13.5v13.5h-13.5zM1797.63 447.81h13.5v13.5h-13.5zM1798.84 446.93h13.5v13.5h-13.5zM1800.05 446.04h13.5v13.5h-13.5zM1801.26 445.15h13.5v13.5h-13.5zM1802.47 444.25h13.5v13.5h-13.5zM1803.67 443.36h13.5v13.5h-13.5zM1804.88 442.47h13.5v13.5h-13.5zM1806.08 441.57h13.5v13.5h-13.5zM1807.28 440.67h13.5v13.5h-13.5zM1808.48 439.77h13.5v13.5h-13.5zM1809.69 438.87h13.5v13.5h-13.5zM1810.89 437.97h13.5v13.5h-13.5zM1812.08 437.07h13.5v13.5h-13.5zM1813.28 436.16h13.5v13.5h-13.5zM1814.48 435.26h13.5v13.5h-13.5zM1815.67 434.35h13.5v13.5h-13.5zM1816.87 433.44h13.5v13.5h-13.5zM1818.06 432.53h13.5v13.5h-13.5zM1819.25 431.62h13.5v13.5h-13.5zM1820.45 430.71h13.5v13.5h-13.5zM1821.64 429.8h13.5v13.5h-13.5zM1822.83 428.88h13.5v13.5h-13.5zM1824.02 427.97h13.5v13.5h-13.5zM1825.2 427.05h13.5v13.5h-13.5zM1826.39 426.13h13.5v13.5h-13.5zM1827.58 425.21h13.5v13.5h-13.5zM1828.76 424.29h13.5v13.5h-13.5zM1829.95 423.37h13.5v13.5h-13.5zM1831.13 422.45h13.5v13.5h-13.5zM1832.31 421.52h13.5v13.5h-13.5zM1833.49 420.6h13.5v13.5h-13.5zM1834.67 419.67h13.5v13.5h-13.5zM1835.85 418.74h13.5v13.5h-13.5zM1837.03 417.81h13.5v13.5h-13.5zM1838.21 416.88h13.5v13.5h-13.5zM1839.39 415.95h13.5v13.5h-13.5zM1840.56 415.02h13.5v13.5h-13.5zM1841.74 414.09h13.5v13.5h-13.5zM1842.91 413.15h13.5v13.5h-13.5zM1844.09 412.22h13.5v13.5h-13.5zM1845.26 411.28h13.5v13.5h-13.5zM1846.43 410.35h13.5v13.5h-13.5zM1847.6 409.41h13.5v13.5h-13.5zM1848.78 408.47h13.5v13.5h-13.5zM1849.95 407.53h13.5v13.5h-13.5zM1851.11 406.59h13.5v13.5h-13.5zM1852.28 405.64h13.5v13.5h-13.5zM1853.45 404.7h13.5v13.5h-13.5zM1854.62 403.76h13.5v13.5h-13.5zM1855.78 402.81h13.5v13.5h-13.5zM1856.95 401.87h13.5v13.5h-13.5zM1858.11 400.92h13.5v13.5h-13.5zM1859.28 399.97h13.5v13.5h-13.5zM1860.44 399.02h13.5v13.5h-13.5zM1861.6 398.07h13.5v13.5h-13.5zM1862.76 397.12h13.5v13.5h-13.5zM1863.92 396.17h13.5v13.5h-13.5zM1865.08 395.22h13.5v13.5h-13.5zM1866.24 394.27h13.5v13.5h-13.5zM1867.4 393.31h13.5v13.5h-13.5zM1868.56 392.36h13.5v13.5h-13.5zM1869.72 391.4h13.5v13.5h-13.5zM1870.87 390.45h13.5v13.5h-13.5zM1872.03 389.49h13.5v13.5h-13.5zM1873.18 388.53h13.5v13.5h-13.5zM1874.34 387.57h13.5v13.5h-13.5zM1875.49 386.61h13.5v13.5h-13.5zM1876.65 385.65h13.5v13.5h-13.5zM1877.8 384.69h13.5v13.5h-13.5zM1878.95 383.73h13.5v13.5h-13.5zM1880.1 382.77h13.5v13.5h-13.5zM1881.25 381.8h13.5v13.5h-13.5zM1882.4 380.84h13.5v13.5h-13.5zM1883.55 379.88h13.5v13.5h-13.5zM1884.7 378.91h13.5v13.5h-13.5zM1885.85 377.94h13.5v13.5h-13.5zM1887 376.98h13.5v13.5h-13.5zM1888.15 376.01h13.5v13.5h-13.5zM1889.29 375.04h13.5v13.5h-13.5zM1890.44 374.07h13.5v13.5h-13.5zM1891.58 373.1h13.5v13.5h-13.5zM1892.73 372.13h13.5v13.5h-13.5zM1893.87 371.16h13.5v13.5h-13.5zM1895.02 370.19h13.5v13.5h-13.5zM1896.16 369.22h13.5v13.5h-13.5zM1897.31 368.25h13.5v13.5h-13.5zM1898.45 367.28h13.5v13.5h-13.5zM1899.59 366.3h13.5v13.5h-13.5zM1900.73 365.33h13.5v13.5h-13.5zM1901.87 364.35h13.5v13.5h-13.5zM1903.01 363.38h13.5v13.5h-13.5zM1904.15 362.4h13.5v13.5h-13.5zM1905.29 361.43h13.5v13.5h-13.5zM1906.43 360.45h13.5v13.5h-13.5zM1907.57 359.47h13.5v13.5h-13.5zM1908.71 358.5h13.5v13.5h-13.5zM1909.85 357.52h13.5v13.5h-13.5zM1910.99 356.54h13.5v13.5h-13.5zM1912.12 355.56h13.5v13.5h-13.5zM1913.26 354.58h13.5v13.5h-13.5zM1914.4 353.6h13.5v13.5h-13.5zM1915.53 352.62h13.5v13.5h-13.5zM1916.67 351.64h13.5v13.5h-13.5zM1917.81 350.66h13.5v13.5h-13.5zM1918.94 349.68h13.5v13.5h-13.5zM1920.08 348.69h13.5v13.5h-13.5zM1921.21 347.71h13.5v13.5h-13.5zM1922.34 346.73h13.5v13.5h-13.5zM1923.48 345.74h13.5v13.5h-13.5zM1924.61 344.76h13.5v13.5h-13.5zM1925.74 343.78h13.5v13.5h-13.5zM1926.88 342.79h13.5v13.5h-13.5zM1928.01 341.81h13.5v13.5h-13.5zM1929.14 340.82h13.5v13.5h-13.5zM1930.27 339.84h13.5v13.5h-13.5zM1931.41 338.85h13.5v13.5h-13.5zM1932.54 337.87h13.5v13.5h-13.5zM1933.67 336.88h13.5v13.5h-13.5zM1934.8 335.89h13.5v13.5h-13.5zM1935.93 334.91h13.5v13.5h-13.5zM1937.06 333.92h13.5v13.5h-13.5zM1938.19 332.93h13.5v13.5h-13.5zM1939.32 331.95h13.5v13.5h-13.5zM1940.45 330.96h13.5v13.5h-13.5zM1941.58 329.97h13.5v13.5h-13.5zM1942.71 328.98h13.5v13.5h-13.5zM1943.84 327.99h13.5v13.5h-13.5zM1944.97 327h13.5v13.5h-13.5zM1946.1 326.02h13.5v13.5h-13.5zM1947.23 325.03h13.5v13.5h-13.5zM1948.36 324.04h13.5v13.5h-13.5zM1949.48 323.05h13.5v13.5h-13.5zM1950.61 322.06h13.5v13.5h-13.5zM1951.74 321.07h13.5v13.5h-13.5zM1952.87 320.08h13.5v13.5h-13.5zM1954 319.09h13.5v13.5h-13.5zM1955.12 318.1h13.5v13.5h-13.5zM1956.25 317.11h13.5v13.5h-13.5zM1957.38 316.12h13.5v13.5h-13.5zM1958.51 315.13h13.5v13.5h-13.5zM1959.64 314.14h13.5v13.5h-13.5zM1960.76 313.15h13.5v13.5h-13.5zM1961.89 312.16h13.5v13.5h-13.5zM1963.02 311.17h13.5v13.5h-13.5zM1964.15 310.18h13.5v13.5h-13.5zM1965.27 309.19h13.5v13.5h-13.5zM1966.4 308.2h13.5v13.5h-13.5zM1967.53 307.21h13.5v13.5h-13.5zM1968.66 306.21h13.5v13.5h-13.5zM1969.78 305.22h13.5v13.5h-13.5zM1970.91 304.23h13.5v13.5h-13.5zM1972.04 303.24h13.5v13.5h-13.5zM1973.16 302.25h13.5v13.5h-13.5zM1974.29 301.26h13.5v13.5h-13.5zM1975.42 300.27h13.5v13.5h-13.5zM1976.55 299.28h13.5v13.5h-13.5zM1977.67 298.29h13.5v13.5h-13.5zM1978.8 297.3h13.5v13.5h-13.5zM1979.93 296.31h13.5v13.5h-13.5zM1981.06 295.32h13.5v13.5h-13.5zM1982.19 294.33h13.5v13.5h-13.5zM1983.31 293.34h13.5v13.5h-13.5zM1984.44 292.35h13.5v13.5h-13.5zM1985.57 291.36h13.5v13.5h-13.5zM1986.7 290.37h13.5v13.5h-13.5zM1987.83 289.38h13.5v13.5h-13.5zM1988.96 288.39h13.5v13.5h-13.5zM1990.09 287.41h13.5v13.5h-13.5zM1991.21 286.42h13.5v13.5h-13.5zM1992.34 285.43h13.5v13.5h-13.5zM1993.47 284.44h13.5v13.5h-13.5zM1994.6 283.45h13.5v13.5h-13.5zM1995.73 282.46h13.5v13.5h-13.5zM1996.86 281.48h13.5v13.5h-13.5zM1997.99 280.49h13.5v13.5h-13.5zM1999.12 279.5h13.5v13.5h-13.5zM2000.25 278.52h13.5v13.5h-13.5zM2001.39 277.53h13.5v13.5h-13.5zM2002.52 276.54h13.5v13.5h-13.5zM2003.65 275.56h13.5v13.5h-13.5zM2004.78 274.57h13.5v13.5h-13.5zM2005.91 273.59h13.5v13.5h-13.5zM2007.04 272.6h13.5v13.5h-13.5zM2008.18 271.62h13.5v13.5h-13.5zM2009.31 270.63h13.5v13.5h-13.5zM2010.44 269.65h13.5v13.5h-13.5zM2011.58 268.66h13.5v13.5h-13.5zM2012.71 267.68h13.5v13.5h-13.5zM2013.84 266.7h13.5v13.5h-13.5zM2014.98 265.72h13.5v13.5h-13.5zM2016.11 264.73h13.5v13.5h-13.5zM2017.25 263.75h13.5v13.5h-13.5z" fill="#515151"/>
<path d="M1389.54 602.4L1391.56 602.39L1393.59 602.37L1395.62 602.34L1397.66 602.31L1399.69 602.27L1401.73 602.24L1403.76 602.2L1405.79 602.16L1407.83 602.11L1409.86 602.05L1411.89 601.99L1413.93 601.91L1415.96 601.83L1417.99 601.74L1420.02 601.64L1422.05 601.54L1424.08 601.43L1426.11 601.31L1428.14 601.18L1430.17 601.04L1432.2 600.9L1434.23 600.75L1436.25 600.59L1438.28 600.42L1440.31 600.25L1442.33 600.07L1444.36 599.88L1446.38 599.69L1448.4 599.48L1450.43 599.27L1452.45 599.06L1454.47 598.83L1456.49 598.6L1458.51 598.36L1460.53 598.12L1462.54 597.86L1464.56 597.6L1466.58 597.34L1468.59 597.06L1470.6 596.78L1472.62 596.5L1474.63 596.2L1476.64 595.9L1478.65 595.59L1480.65 595.28L1482.66 594.96L1484.67 594.63L1486.67 594.29L1488.67 593.95L1490.68 593.6L1492.68 593.25L1494.68 592.89L1496.68 592.52L1498.67 592.15L1500.67 591.77L1502.67 591.38L1504.66 590.99L1506.65 590.59L1508.64 590.18L1510.63 589.77L1512.62 589.35L1514.61 588.93L1516.59 588.5L1518.58 588.06L1520.56 587.62L1522.54 587.17L1524.52 586.69L1526.49 586.2L1528.46 585.71L1530.43 585.22L1532.4 584.72L1534.36 584.21L1536.33 583.7L1538.29 583.18L1540.25 582.65L1542.21 582.12L1544.17 581.58L1546.13 581.04L1548.08 580.5L1550.03 579.94L1551.99 579.38L1553.93 578.82L1555.88 578.25L1557.83 577.67L1559.77 577.09L1561.72 576.51L1563.66 575.92L1565.6 575.32L1567.54 574.71L1569.48 574.1L1571.42 573.49L1573.35 572.86L1575.29 572.23L1577.22 571.6L1579.15 570.95L1581.08 570.3L1583.01 569.64L1584.94 568.97L1586.86 568.3L1588.79 567.62L1590.71 566.93L1592.62 566.23L1594.54 565.52L1596.46 564.81L1598.37 564.08L1600.28 563.35L1602.18 562.61L1604.09 561.86L1605.99 561.09L1607.89 560.32L1609.78 559.54L1611.67 558.75L1613.56 557.95L1615.44 557.14L1617.33 556.32L1619.2 555.49L1621.08 554.65L1622.95 553.8L1624.81 552.93L1626.67 552.06L1628.53 551.17L1630.38 550.27L1632.23 549.36L1634.07 548.44L1635.91 547.51L1637.74 546.57L1639.57 545.61L1641.39 544.64L1643.2 543.66L1645.01 542.67L1646.82 541.66L1648.61 540.64L1650.4 539.62L1652.18 538.58L1653.95 537.53L1655.72 536.47L1657.48 535.4L1659.23 534.32L1660.97 533.23L1662.71 532.13L1664.44 531.02L1666.16 529.9L1667.88 528.77L1669.59 527.64L1671.29 526.49L1672.98 525.34L1674.67 524.17L1676.36 523L1678.03 521.83L1679.7 520.64L1681.37 519.45L1683.02 518.24L1684.67 517.04L1686.32 515.82L1687.96 514.6L1689.59 513.37L1691.21 512.13L1692.83 510.89L1694.45 509.64L1696.06 508.39L1697.66 507.13L1699.26 505.86L1700.85 504.59L1702.44 503.31L1704.02 502.03L1705.6 500.74L1707.17 499.45L1708.74 498.15L1710.3 496.85L1711.86 495.54L1713.41 494.23L1714.96 492.92L1716.5 491.6L1718.04 490.27L1719.57 488.94L1721.1 487.61L1722.63 486.28L1724.15 484.94L1725.67 483.6L1727.18 482.25L1728.7 480.9L1730.2 479.55L1731.71 478.19L1733.21 476.83L1734.71 475.47L1736.2 474.1L1737.69 472.73L1739.18 471.35L1740.67 469.97L1742.15 468.59L1743.62 467.2L1745.1 465.82L1746.57 464.42L1748.04 463.03L1749.5 461.63L1750.96 460.23L1752.42 458.82L1753.87 457.41L1755.32 456L1756.77 454.58L1758.21 453.16L1759.66 451.74L1761.09 450.32L1762.53 448.89L1763.96 447.46L1765.39 446.02L1766.81 444.59L1768.23 443.14L1769.65 441.7L1771.07 440.25L1772.48 438.8L1773.89 437.35L1775.29 435.9L1776.69 434.44L1778.09 432.98L1779.49 431.51L1780.88 430.04L1782.27 428.57L1783.66 427.1L1785.04 425.63L1786.42 424.15L1787.8 422.67L1789.17 421.18L1790.54 419.7L1791.91 418.21L1793.27 416.72L1794.64 415.22L1795.99 413.72L1797.35 412.23L1798.7 410.72L1800.05 409.22L1801.4 407.71L1802.74 406.2L1804.09 404.69L1805.42 403.18L1806.76 401.66L1808.09 400.14L1809.42 398.62L1810.75 397.09L1812.07 395.57L1813.39 394.04L1814.71 392.51L1816.03 390.98L1817.34 389.44L1818.65 387.9L1819.95 386.36L1821.26 384.82L1822.56 383.28L1823.86 381.73L1825.16 380.18L1826.45 378.63L1827.74 377.08L1829.03 375.53L1830.31 373.97L1831.6 372.41L1832.88 370.85L1834.16 369.29L1835.43 367.72L1836.7 366.16L1837.97 364.59L1839.24 363.02L1840.51 361.45L1841.77 359.87L1843.03 358.3L1844.29 356.72L1845.54 355.14L1846.8 353.56L1848.05 351.98L1849.29 350.39L1850.54 348.81L1851.78 347.22L1853.03 345.63L1854.26 344.04L1855.5 342.44L1856.73 340.85L1857.97 339.25L1859.2 337.66L1860.42 336.06L1861.65 334.46L1862.87 332.85L1864.09 331.25L1865.31 329.64L1866.53 328.04L1867.74 326.43L1868.96 324.82L1870.17 323.21L1871.38 321.6L1872.58 319.98L1873.79 318.37L1874.99 316.75L1876.19 315.13L1877.39 313.51L1878.58 311.89L1879.78 310.27L1880.97 308.65L1882.16 307.02L1883.35 305.4L1884.54 303.77L1885.72 302.14L1886.91 300.51L1888.09 298.88L1889.27 297.25L1890.45 295.62L1891.62 293.98L1892.8 292.35L1893.97 290.71L1895.14 289.08L1896.31 287.44L1897.48 285.8L1898.65 284.16L1899.81 282.52L1900.97 280.88L1902.14 279.23L1903.3 277.59L1904.45 275.94L1905.61 274.3L1906.77 272.65L1907.92 271L1909.07 269.36L1910.23 267.71L1911.38 266.06L1912.52 264.41L1913.67 262.75L1914.82 261.1L1915.96 259.45L1917.1 257.79L1918.25 256.14L1919.39 254.48L1920.53 252.83L1921.66 251.17L1922.8 249.51L1923.94 247.85L1925.07 246.2L1926.21 244.54L1927.34 242.88L1928.47 241.22L1929.6 239.55L1930.73 237.89L1931.86 236.23L1932.99 234.57L1934.11 232.9L1935.24 231.24L1936.36 229.57L1937.48 227.91L1938.61 226.24L1939.73 224.58L1940.85 222.91L1941.97 221.24L1943.09 219.58L1944.21 217.91L1945.32 216.24L1946.44 214.57L1947.56 212.9L1948.67 211.23L1949.79 209.56L1950.9 207.89L1952.01 206.22L1953.13 204.55L1954.24 202.88L1955.35 201.21L1956.46 199.54L1957.57 197.87L1958.68 196.2L1959.79 194.52L1960.9 192.85L1962.01 191.18L1963.11 189.51L1964.22 187.83L1965.33 186.16L1966.43 184.49L1967.54 182.81L1968.65 181.14L1969.75 179.47L1970.86 177.79L1971.96 176.12L1973.07 174.45L1974.17 172.77L1975.27 171.1L1976.38 169.43L1977.48 167.75L1978.58 166.08L1979.69 164.41L1980.79 162.73L1981.89 161.06L1983 159.38L1984.1 157.71L1985.2 156.04L1986.3 154.37L1987.41 152.69L1988.51 151.02L1989.61 149.35L1990.72 147.67L1991.82 146L1992.92 144.33L1994.03 142.66L1995.13 140.99L1996.23 139.32L1997.34 137.64L1998.42 135.96L1999.49 134.27L2000.57 132.58L2001.65 130.89L2002.73 129.21L2003.8 127.52L2004.88 125.83L2005.96 124.14L2007.04 122.46L2008.12 120.77L2009.2 119.09L2010.28 117.4L2011.36 115.72L2012.44 114.03L2013.52 112.35L2014.61 110.67L2015.69 108.98L2016.77 107.3L2017.86 105.62L2018.94 103.94L2020.03 102.26L2021.11 100.58L2022.2 98.9L2023.29 97.22L2024.37 95.54L2025.46 93.86L2026.55 92.18L2027.64 90.5L2028.73 88.83L2029.82 87.15L2030.93 85.48L2017.67 76.52L2016.53 78.17L2015.38 79.81L2014.23 81.46L2013.08 83.11L2011.93 84.75L2010.78 86.4L2009.63 88.05L2008.49 89.7L2007.34 91.35L2006.2 93L2005.05 94.65L2003.91 96.3L2002.77 97.95L2001.63 99.6L2000.49 101.26L1999.35 102.91L1998.21 104.56L1997.07 106.21L1995.93 107.87L1994.79 109.52L1993.66 111.17L1992.52 112.83L1991.38 114.48L1990.25 116.14L1989.11 117.79L1987.98 119.44L1986.84 121.1L1985.71 122.75L1984.58 124.41L1983.44 126.07L1982.32 127.72L1981.21 129.4L1980.11 131.07L1979 132.74L1977.9 134.42L1976.79 136.09L1975.69 137.76L1974.59 139.44L1973.48 141.11L1972.38 142.79L1971.28 144.46L1970.17 146.13L1969.07 147.81L1967.97 149.48L1966.86 151.15L1965.76 152.83L1964.66 154.5L1963.56 156.17L1962.45 157.84L1961.35 159.52L1960.25 161.19L1959.14 162.86L1958.04 164.53L1956.94 166.2L1955.83 167.88L1954.73 169.55L1953.63 171.22L1952.52 172.89L1951.42 174.56L1950.31 176.23L1949.21 177.9L1948.1 179.57L1947 181.24L1945.89 182.91L1944.79 184.58L1943.68 186.24L1942.57 187.91L1941.47 189.58L1940.36 191.25L1939.25 192.91L1938.14 194.58L1937.03 196.24L1935.92 197.91L1934.81 199.57L1933.7 201.24L1932.59 202.9L1931.48 204.56L1930.37 206.23L1929.25 207.89L1928.14 209.55L1927.03 211.21L1925.91 212.87L1924.79 214.53L1923.68 216.19L1922.56 217.85L1921.44 219.5L1920.32 221.16L1919.2 222.82L1918.08 224.47L1916.96 226.13L1915.84 227.78L1914.72 229.43L1913.59 231.09L1912.47 232.74L1911.34 234.39L1910.21 236.04L1909.08 237.69L1907.96 239.34L1906.83 240.98L1905.69 242.63L1904.56 244.28L1903.43 245.92L1902.29 247.57L1901.16 249.21L1900.02 250.85L1898.88 252.49L1897.74 254.13L1896.6 255.77L1895.46 257.41L1894.32 259.05L1893.17 260.68L1892.03 262.32L1890.88 263.95L1889.73 265.59L1888.58 267.22L1887.43 268.85L1886.28 270.48L1885.13 272.11L1883.97 273.73L1882.82 275.36L1881.66 276.99L1880.5 278.61L1879.34 280.23L1878.17 281.85L1877.01 283.47L1875.84 285.09L1874.68 286.71L1873.51 288.33L1872.34 289.94L1871.17 291.56L1869.99 293.17L1868.82 294.78L1867.64 296.39L1866.46 298L1865.28 299.6L1864.1 301.21L1862.91 302.81L1861.73 304.41L1860.54 306.02L1859.35 307.62L1858.16 309.21L1856.97 310.81L1855.77 312.4L1854.57 314L1853.37 315.59L1852.17 317.18L1850.97 318.77L1849.77 320.36L1848.56 321.94L1847.35 323.52L1846.14 325.11L1844.93 326.69L1843.71 328.26L1842.49 329.84L1841.27 331.42L1840.05 332.99L1838.83 334.56L1837.6 336.13L1836.38 337.7L1835.15 339.26L1833.91 340.83L1832.68 342.39L1831.44 343.95L1830.21 345.51L1828.96 347.06L1827.72 348.62L1826.48 350.17L1825.23 351.72L1823.98 353.27L1822.72 354.82L1821.47 356.36L1820.21 357.9L1818.95 359.44L1817.69 360.98L1816.43 362.52L1815.16 364.05L1813.89 365.58L1812.62 367.11L1811.34 368.64L1810.07 370.16L1808.79 371.69L1807.51 373.21L1806.22 374.73L1804.94 376.24L1803.65 377.76L1802.35 379.27L1801.06 380.78L1799.76 382.28L1798.46 383.79L1797.16 385.29L1795.86 386.79L1794.55 388.28L1793.24 389.78L1791.92 391.27L1790.61 392.76L1789.29 394.25L1787.97 395.73L1786.64 397.21L1785.32 398.69L1783.99 400.17L1782.66 401.64L1781.32 403.11L1779.98 404.58L1778.64 406.04L1777.3 407.51L1775.95 408.97L1774.6 410.42L1773.25 411.88L1771.89 413.33L1770.54 414.78L1769.18 416.22L1767.81 417.67L1766.44 419.11L1765.08 420.54L1763.7 421.98L1762.33 423.41L1760.95 424.84L1759.57 426.26L1758.18 427.68L1756.79 429.1L1755.4 430.52L1754.01 431.93L1752.61 433.34L1751.21 434.75L1749.81 436.15L1748.41 437.55L1747 438.95L1745.59 440.34L1744.17 441.73L1742.75 443.12L1741.33 444.5L1739.91 445.88L1738.48 447.26L1737.05 448.63L1735.62 450L1734.18 451.37L1732.74 452.73L1731.3 454.09L1729.85 455.45L1728.4 456.8L1726.95 458.15L1725.49 459.49L1724.03 460.83L1722.57 462.17L1721.11 463.51L1719.64 464.84L1718.17 466.17L1716.69 467.49L1715.21 468.81L1713.73 470.13L1712.25 471.44L1710.76 472.75L1709.27 474.05L1707.78 475.35L1706.28 476.64L1704.78 477.93L1703.28 479.22L1701.77 480.5L1700.26 481.77L1698.75 483.04L1697.23 484.31L1695.71 485.57L1694.19 486.82L1692.66 488.07L1691.13 489.31L1689.59 490.55L1688.05 491.78L1686.51 493L1684.96 494.22L1683.41 495.43L1681.85 496.63L1680.29 497.82L1678.73 499.01L1677.16 500.2L1675.58 501.37L1674.01 502.54L1672.42 503.7L1670.83 504.85L1669.24 505.99L1667.64 507.13L1666.04 508.25L1664.43 509.37L1662.82 510.48L1661.2 511.58L1659.58 512.67L1657.95 513.76L1656.32 514.83L1654.68 515.89L1653.03 516.95L1651.39 517.99L1649.73 519.03L1648.07 520.05L1646.41 521.06L1644.73 522.07L1643.06 523.06L1641.38 524.04L1639.69 525.01L1638 525.97L1636.3 526.92L1634.59 527.85L1632.88 528.78L1631.17 529.69L1629.44 530.59L1627.71 531.49L1625.97 532.37L1624.23 533.24L1622.48 534.1L1620.73 534.95L1618.97 535.79L1617.2 536.62L1615.43 537.44L1613.65 538.25L1611.87 539.05L1610.08 539.84L1608.29 540.63L1606.49 541.4L1604.69 542.16L1602.88 542.92L1601.07 543.66L1599.26 544.4L1597.44 545.13L1595.61 545.85L1593.78 546.56L1591.95 547.26L1590.12 547.96L1588.27 548.65L1586.43 549.33L1584.58 550L1582.73 550.67L1580.88 551.32L1579.02 551.98L1577.16 552.62L1575.29 553.26L1573.43 553.89L1571.56 554.51L1569.68 555.13L1567.81 555.74L1565.93 556.34L1564.05 556.94L1562.16 557.54L1560.27 558.12L1558.39 558.71L1556.49 559.28L1554.6 559.85L1552.7 560.42L1550.81 560.98L1548.91 561.54L1547.01 562.09L1545.1 562.63L1543.2 563.17L1541.3 563.7L1539.39 564.23L1537.48 564.75L1535.57 565.27L1533.66 565.78L1531.75 566.29L1529.84 566.79L1527.92 567.28L1526.01 567.77L1524.09 568.25L1522.17 568.73L1520.25 569.2L1518.33 569.67L1516.41 570.14L1514.49 570.62L1512.57 571.09L1510.65 571.56L1508.73 572.02L1506.81 572.47L1504.88 572.92L1502.95 573.36L1501.03 573.8L1499.1 574.23L1497.17 574.65L1495.24 575.07L1493.3 575.48L1491.37 575.88L1489.43 576.28L1487.5 576.67L1485.56 577.06L1483.62 577.44L1481.68 577.81L1479.74 578.18L1477.79 578.54L1475.85 578.89L1473.9 579.24L1471.96 579.58L1470.01 579.92L1468.06 580.24L1466.11 580.56L1464.16 580.88L1462.21 581.19L1460.26 581.49L1458.31 581.78L1456.35 582.07L1454.4 582.35L1452.44 582.62L1450.48 582.89L1448.52 583.15L1446.57 583.4L1444.61 583.65L1442.65 583.89L1440.68 584.12L1438.72 584.34L1436.76 584.56L1434.79 584.77L1432.83 584.97L1430.86 585.17L1428.9 585.35L1426.93 585.54L1424.97 585.71L1423 585.87L1421.03 586.03L1419.06 586.18L1417.09 586.33L1415.12 586.46L1413.15 586.59L1411.18 586.71L1409.21 586.83L1407.24 586.93L1405.26 587.03L1403.29 587.12L1401.32 587.2L1399.35 587.27L1397.37 587.31L1395.4 587.35L1393.43 587.37L1391.45 587.39L1389.46 587.4Z" fill="#f14040"/>
<circle cx="1389.5" cy="594.9" r="7.5" fill="#f14040"/>
<circle cx="2024.3" cy="81" r="8" fill="#f14040"/>
<path d="M301 1307L303 1307.03L305 1307.06L307 1307.09L309 1307.11L311 1307.13L313 1307.16L315 1307.18L317 1307.2L319 1307.21L321 1307.23L323 1307.24L325 1307.25L327 1307.27L329 1307.28L331 1307.28L333 1307.29L335 1307.3L337 1307.3L339 1307.3L341 1307.31L343 1307.31L345 1307.31L347 1307.31L349 1307.31L351 1307.3L353 1307.3L355 1307.29L357 1307.29L359 1307.28L361 1307.27L363 1307.27L365 1307.26L367 1307.25L369 1307.24L371 1307.23L373 1307.22L375 1307.2L377 1307.19L379 1307.18L381 1307.17L383 1307.15L385 1307.14L387 1307.12L389 1307.11L391 1307.09L393 1307.08L395 1307.06L397 1307.05L399 1307.03L401 1307.01L403 1307L405 1306.98L407 1306.97L409 1306.95L411 1306.93L413 1306.92L415 1306.9L417 1306.89L419 1306.87L421 1306.85L423 1306.84L425 1306.82L427 1306.81L429 1306.79L431 1306.78L433 1306.77L435 1306.75L437 1306.74L439 1306.73L441 1306.72L443 1306.71L445 1306.69L447 1306.68L449 1306.67L451 1306.67L453 1306.66L455 1306.65L457 1306.64L459 1306.64L461 1306.63L463 1306.63L465 1306.63L467 1306.62L469 1306.62L471 1306.62L473 1306.62L475 1306.62L477 1306.63L479 1306.63L481 1306.64L483 1306.64L485 1306.65L487 1306.65L489 1306.66L491 1306.67L493 1306.68L495 1306.69L497 1306.7L499 1306.72L501 1306.73L503 1306.74L505 1306.75L507 1306.77L509 1306.78L511 1306.8L513 1306.81L515 1306.83L517 1306.85L519 1306.86L521 1306.88L523 1306.9L525 1306.92L527 1306.93L529 1306.95L531 1306.97L533 1306.99L535 1307.01L537 1307.03L539 1307.05L541 1307.06L543 1307.08L545 1307.1L547 1307.12L549 1307.14L551 1307.16L553 1307.18L555 1307.19L557 1307.21L559 1307.23L561 1307.25L563 1307.26L565 1307.28L567 1307.3L569 1307.31L571 1307.33L573 1307.34L575 1307.35L577 1307.37L579 1307.38L581 1307.39L583 1307.41L585 1307.42L587 1307.43L589 1307.44L591 1307.44L593 1307.45L595 1307.46L597 1307.47L599 1307.47L601 1307.48L603 1307.48L605 1307.48L607 1307.48L609 1307.48L611 1307.48L613 1307.48L615 1307.48L617 1307.47L619 1307.46L621 1307.46L623 1307.45L625 1307.44L627 1307.43L629 1307.41L631 1307.4L633 1307.38L635 1307.37L637 1307.35L639 1307.33L641 1307.31L643 1307.28L645 1307.26L647 1307.23L649 1307.2L651 1307.16L653 1307.12L655 1307.08L657 1307.04L659 1306.99L661 1306.93L663 1306.87L665 1306.8L666.99 1306.73L668.99 1306.65L670.99 1306.57L672.99 1306.48L674.99 1306.37L676.98 1306.27L678.98 1306.15L680.98 1306.02L682.97 1305.89L684.97 1305.75L686.96 1305.59L688.95 1305.43L690.95 1305.26L692.94 1305.07L694.93 1304.87L696.92 1304.67L698.91 1304.45L700.89 1304.21L702.88 1303.97L704.86 1303.71L706.84 1303.44L708.82 1303.15L710.8 1302.85L712.77 1302.54L714.75 1302.21L716.72 1301.87L718.68 1301.51L720.65 1301.13L722.61 1300.74L724.57 1300.34L726.53 1299.92L728.48 1299.49L730.43 1299.04L732.37 1298.58L734.32 1298.1L736.25 1297.61L738.19 1297.11L740.12 1296.59L742.05 1296.07L743.98 1295.52L745.9 1294.97L747.82 1294.41L749.73 1293.83L751.64 1293.24L753.55 1292.64L755.46 1292.03L757.36 1291.41L759.25 1290.77L761.15 1290.13L763.04 1289.47L764.92 1288.81L766.81 1288.13L768.69 1287.45L770.56 1286.76L772.43 1286.05L774.3 1285.34L776.17 1284.62L778.03 1283.89L779.89 1283.15L781.74 1282.4L783.59 1281.64L785.44 1280.88L787.29 1280.1L789.13 1279.32L790.97 1278.53L792.8 1277.74L794.63 1276.93L796.46 1276.12L798.29 1275.31L800.11 1274.48L801.93 1273.65L803.74 1272.81L805.55 1271.96L807.36 1271.11L809.17 1270.25L810.97 1269.39L812.77 1268.51L814.57 1267.64L816.36 1266.75L818.15 1265.86L819.94 1264.97L821.73 1264.07L823.51 1263.16L825.29 1262.25L827.07 1261.33L828.84 1260.41L830.61 1259.48L832.38 1258.55L834.15 1257.61L835.91 1256.67L837.67 1255.72L839.43 1254.77L841.19 1253.81L842.94 1252.85L844.7 1251.88L846.45 1250.91L848.19 1249.94L849.94 1248.96L851.68 1247.98L853.42 1247L855.16 1246.01L856.9 1245.01L858.63 1244.02L860.36 1243.02L862.09 1242.02L863.82 1241.01L865.55 1240L867.27 1238.98L868.99 1237.97L870.71 1236.94L872.43 1235.92L874.14 1234.89L875.85 1233.85L877.56 1232.82L879.27 1231.77L880.97 1230.73L882.67 1229.67L884.37 1228.62L886.07 1227.56L887.76 1226.49L889.45 1225.42L891.14 1224.34L892.82 1223.26L894.5 1222.18L896.17 1221.09L897.85 1219.99L899.52 1218.89L901.18 1217.78L902.85 1216.67L904.5 1215.55L906.16 1214.43L907.81 1213.3L909.46 1212.17L911.1 1211.03L912.74 1209.88L914.38 1208.73L916.01 1207.57L917.63 1206.41L919.26 1205.24L920.88 1204.06L922.49 1202.88L924.1 1201.7L925.7 1200.5" fill="none" stroke="#515151" stroke-width="12.2" stroke-linecap="round" stroke-linejoin="round"/>
<path d="M301.01 1313.75L303.01 1313.78L305.01 1313.8L307.01 1313.83L309.01 1313.86L311.01 1313.88L313.01 1313.91L315.01 1313.94L317.02 1313.97L319.02 1313.99L321.02 1314.02L323.02 1314.05L325.02 1314.08L327.02 1314.1L329.02 1314.13L331.02 1314.16L333.02 1314.19L335.02 1314.22L337.02 1314.25L339.02 1314.28L341.02 1314.31L343.03 1314.34L345.03 1314.36L347.03 1314.39L349.03 1314.42L351.03 1314.45L353.03 1314.48L355.03 1314.51L357.03 1314.54L359.03 1314.57L361.03 1314.61L363.03 1314.64L365.03 1314.67L367.03 1314.7L369.03 1314.73L371.03 1314.76L373.04 1314.79L375.04 1314.82L377.04 1314.86L379.04 1314.89L381.04 1314.92L383.04 1314.95L385.04 1314.99L387.04 1315.02L389.04 1315.05L391.04 1315.08L393.04 1315.12L395.04 1315.15L397.04 1315.18L399.04 1315.22L401.04 1315.25L403.04 1315.29L405.04 1315.32L407.04 1315.35L409.04 1315.39L411.05 1315.42L413.05 1315.46L415.05 1315.49L417.05 1315.53L419.05 1315.56L421.05 1315.58L423.05 1315.59L425.05 1315.6L427.05 1315.6L429.05 1315.61L431.05 1315.62L433.05 1315.62L435.05 1315.63L437.05 1315.64L439.05 1315.65L441.05 1315.65L443.05 1315.66L445.05 1315.67L447.05 1315.68L449.05 1315.69L451.06 1315.7L453.06 1315.7L455.06 1315.71L457.06 1315.72L459.06 1315.73L461.06 1315.74L463.06 1315.75L465.06 1315.76L467.06 1315.77L469.06 1315.78L471.06 1315.79L473.06 1315.8L475.06 1315.81L477.06 1315.82L479.06 1315.84L481.06 1315.85L483.06 1315.86L485.06 1315.87L487.06 1315.88L489.06 1315.89L491.07 1315.91L493.07 1315.92L495.07 1315.93L497.07 1315.94L499.07 1315.95L501.07 1315.97L503.07 1315.98L505.07 1315.99L507.07 1316.01L509.07 1316.02L511.07 1316.03L513.08 1316.04L515.08 1316.06L517.08 1316.07L519.08 1316.08L521.08 1316.1L523.08 1316.11L525.08 1316.12L527.08 1316.13L529.09 1316.15L531.09 1316.16L533.09 1316.17L535.09 1316.18L537.09 1316.2L539.09 1316.21L541.1 1316.22L543.1 1316.23L545.1 1316.25L547.1 1316.26L549.1 1316.27L551.1 1316.28L553.11 1316.29L555.11 1316.3L557.11 1316.31L559.11 1316.33L561.11 1316.34L563.12 1316.35L565.12 1316.36L567.12 1316.37L569.12 1316.38L571.13 1316.39L573.13 1316.4L575.13 1316.4L577.13 1316.41L579.14 1316.42L581.14 1316.43L583.14 1316.44L585.14 1316.44L587.15 1316.45L589.15 1316.46L591.15 1316.47L593.15 1316.47L595.16 1316.48L597.16 1316.48L599.16 1316.49L601.16 1316.49L603.17 1316.5L605.17 1316.5L607.17 1316.51L609.18 1316.51L611.18 1316.51L613.18 1316.51L615.19 1316.52L617.19 1316.52L619.19 1316.52L621.2 1316.52L623.2 1316.52L625.2 1316.52L627.21 1316.52L629.21 1316.52L631.21 1316.51L633.22 1316.51L635.22 1316.51L637.22 1316.51L639.23 1316.5L641.23 1316.5L643.23 1316.49L645.24 1316.49L647.24 1316.48L649.25 1316.47L651.26 1316.47L653.27 1316.45L655.29 1316.44L657.3 1316.42L659.33 1316.4L661.35 1316.37L663.38 1316.34L665.41 1316.3L667.45 1316.25L669.48 1316.19L671.52 1316.12L673.57 1316.05L675.62 1315.96L677.67 1315.86L679.72 1315.74L681.77 1315.61L683.83 1315.47L685.89 1315.31L687.96 1315.14L690.02 1314.95L692.09 1314.73L694.16 1314.5L696.24 1314.25L698.31 1313.97L700.39 1313.67L702.46 1313.35L704.54 1313L706.62 1312.63L708.7 1312.22L710.77 1311.79L712.85 1311.32L714.92 1310.82L716.99 1310.29L719.05 1309.73L721.11 1309.12L723.17 1308.48L725.22 1307.81L727.25 1307.09L729.28 1306.33L731.29 1305.54L733.29 1304.7L735.27 1303.83L737.23 1302.93L739.18 1301.98L741.1 1301L743.01 1299.98L744.9 1298.92L746.77 1297.83L748.61 1296.71L750.43 1295.55L752.24 1294.36L754.01 1293.13L755.77 1291.87L757.5 1290.59L759.2 1289.27L760.88 1287.92L762.53 1286.54L764.16 1285.14L765.76 1283.71L767.33 1282.26L768.88 1280.79L770.4 1279.3L771.89 1277.78L773.36 1276.25L774.81 1274.7L776.23 1273.13L777.63 1271.55L779 1269.95L780.36 1268.33L781.69 1266.7L783 1265.06L784.29 1263.4L785.56 1261.73L786.81 1260.05L788.04 1258.36L789.25 1256.65L790.44 1254.94L791.61 1253.21L792.77 1251.47L793.9 1249.72L795.02 1247.96L796.12 1246.2L797.21 1244.42L798.27 1242.64L799.32 1240.84L800.35 1239.04L801.37 1237.23L802.37 1235.41L803.35 1233.59L804.32 1231.76L805.27 1229.92L806.21 1228.08L807.13 1226.23L808.04 1224.38L808.93 1222.52L809.81 1220.66L810.68 1218.79L811.53 1216.93L812.37 1215.05L813.2 1213.18L814.02 1211.3L814.82 1209.42L815.62 1207.53L816.4 1205.65L817.18 1203.76L817.95 1201.87L818.7 1199.98L819.45 1198.09L820.18 1196.19L820.9 1194.29L821.6 1192.39L822.3 1190.49L822.99 1188.59L823.68 1186.69L824.36 1184.79L825.04 1182.89L825.71 1180.99L826.38 1179.1L827.05 1177.2L827.71 1175.31L828.38 1173.41L829.04 1171.52L829.7 1169.63L830.36 1167.74L831.02 1165.86L831.68 1163.97L832.34 1162.09L833.01 1160.21L833.67 1158.32L834.34 1156.44L835 1154.56L835.67 1152.68L836.34 1150.79L837.01 1148.91L837.68 1147.03L838.35 1145.14L839.02 1143.26L839.69 1141.38L840.37 1139.49L841.04 1137.61L841.71 1135.73L842.39 1133.84L843.06 1131.96L843.73 1130.07L844.41 1128.19L845.08 1126.3L845.75 1124.42L846.43 1122.53L847.1 1120.64L847.77 1118.76L848.45 1116.87L849.12 1114.98L849.79 1113.09L850.46 1111.2L851.13 1109.31L851.8 1107.42L852.46 1105.53L853.13 1103.64L853.8 1101.74L854.46 1099.85L855.12 1097.96L855.79 1096.06L856.45 1094.17L857.11 1092.27L857.76 1090.37L858.42 1088.48L859.07 1086.58L859.73 1084.68L860.38 1082.78L861.03 1080.87L861.67 1078.97L862.32 1077.07L862.96 1075.16L863.6 1073.26L864.24 1071.35L864.87 1069.44L865.5 1067.53L866.13 1065.62L866.76 1063.71L867.39 1061.8L868.01 1059.89L868.63 1057.98L869.25 1056.07L869.86 1054.15L870.48 1052.24L871.09 1050.32L871.71 1048.41L872.33 1046.5L872.96 1044.59L873.58 1042.68L874.19 1040.77L874.81 1038.85L875.43 1036.94L876.04 1035.03L876.65 1033.11L877.25 1031.2L877.86 1029.28L878.46 1027.36L879.06 1025.45L879.66 1023.53L880.25 1021.61L880.84 1019.69L881.43 1017.77L882.02 1015.85L882.61 1013.93L883.19 1012L883.78 1010.08L884.35 1008.16L884.93 1006.23L885.51 1004.31L886.08 1002.38L886.65 1000.46L887.22 998.53L887.79 996.61L888.35 994.68L888.91 992.75L889.48 990.82L890.03 988.89L890.59 986.96L891.15 985.03L891.7 983.1L892.25 981.17L892.8 979.24L893.34 977.31L893.89 975.38L894.43 973.44L894.97 971.51L895.51 969.58L896.05 967.64L896.59 965.71L897.12 963.77L897.65 961.84L898.18 959.9L898.71 957.97L899.24 956.03L899.76 954.09L900.29 952.15L900.81 950.22L901.33 948.28L901.85 946.34L902.37 944.4L902.88 942.46L903.4 940.52L903.91 938.58L904.42 936.64L904.93 934.7L905.44 932.76L905.95 930.82L906.45 928.88L906.95 926.94L907.44 924.99L907.93 923.05L908.42 921.1L908.91 919.16L909.39 917.21L909.88 915.27L910.36 913.32L910.85 911.37L911.33 909.43L911.81 907.48L912.29 905.53L912.77 903.59L913.25 901.64L913.72 899.69L914.2 897.74L914.67 895.8L915.15 893.85L915.62 891.9L916.09 889.95L916.56 888.01L917.03 886.06L917.5 884.11L917.97 882.16L918.44 880.21L918.9 878.26L919.37 876.31L919.84 874.36L920.3 872.42L920.76 870.47L921.23 868.52L921.69 866.57L922.15 864.62L922.61 862.67L923.07 860.72L923.53 858.77L923.99 856.82L924.45 854.87L924.91 852.92L925.37 850.97L925.82 849.02L926.28 847.07L926.73 845.12L927.19 843.17L927.65 841.22L928.1 839.27L928.56 837.32L929.01 835.37L929.46 833.42L929.92 831.47L930.37 829.52L930.82 827.57L931.28 825.62L919.32 822.78L918.85 824.72L918.38 826.67L917.9 828.61L917.43 830.55L916.96 832.5L916.48 834.44L916.01 836.39L915.54 838.33L915.06 840.27L914.59 842.21L914.11 844.16L913.64 846.1L913.16 848.04L912.68 849.98L912.2 851.92L911.73 853.87L911.25 855.81L910.77 857.75L910.29 859.69L909.81 861.63L909.33 863.57L908.85 865.51L908.37 867.45L907.88 869.39L907.4 871.33L906.92 873.27L906.43 875.21L905.94 877.15L905.46 879.09L904.97 881.02L904.48 882.96L903.99 884.9L903.5 886.84L903.01 888.77L902.52 890.71L902.03 892.65L901.53 894.58L901.04 896.52L900.54 898.45L900.05 900.39L899.55 902.32L899.05 904.26L898.55 906.19L898.05 908.12L897.55 910.06L897.04 911.99L896.54 913.92L896.03 915.85L895.52 917.79L895.02 919.72L894.51 921.65L893.99 923.58L893.48 925.51L892.98 927.44L892.48 929.37L891.97 931.3L891.46 933.23L890.95 935.16L890.44 937.09L889.93 939.02L889.42 940.95L888.9 942.88L888.39 944.81L887.87 946.74L887.35 948.66L886.83 950.59L886.31 952.52L885.78 954.44L885.26 956.37L884.73 958.29L884.2 960.21L883.67 962.14L883.14 964.06L882.6 965.98L882.07 967.9L881.53 969.82L880.99 971.75L880.45 973.67L879.91 975.58L879.36 977.5L878.81 979.42L878.26 981.34L877.71 983.26L877.16 985.17L876.61 987.09L876.05 989L875.49 990.92L874.93 992.83L874.37 994.74L873.8 996.66L873.24 998.57L872.67 1000.48L872.1 1002.39L871.52 1004.3L870.95 1006.21L870.37 1008.12L869.79 1010.02L869.21 1011.93L868.62 1013.84L868.04 1015.74L867.45 1017.65L866.86 1019.55L866.27 1021.45L865.67 1023.36L865.07 1025.26L864.48 1027.16L863.87 1029.06L863.27 1030.96L862.66 1032.86L862.05 1034.75L861.44 1036.65L860.83 1038.55L860.21 1040.44L859.6 1042.34L858.97 1044.23L858.34 1046.12L857.7 1048L857.05 1049.89L856.4 1051.77L855.75 1053.65L855.09 1055.54L854.43 1057.42L853.77 1059.3L853.11 1061.18L852.44 1063.05L851.77 1064.93L851.1 1066.81L850.43 1068.68L849.75 1070.55L849.07 1072.43L848.39 1074.3L847.71 1076.17L847.02 1078.04L846.33 1079.91L845.64 1081.79L844.95 1083.66L844.26 1085.53L843.56 1087.39L842.86 1089.26L842.16 1091.13L841.46 1093L840.76 1094.87L840.05 1096.74L839.35 1098.6L838.64 1100.47L837.93 1102.34L837.22 1104.2L836.51 1106.07L835.8 1107.94L835.08 1109.81L834.37 1111.67L833.66 1113.54L832.94 1115.41L832.23 1117.27L831.51 1119.14L830.79 1121.01L830.07 1122.87L829.36 1124.74L828.64 1126.61L827.92 1128.48L827.2 1130.35L826.49 1132.22L825.77 1134.08L825.05 1135.95L824.33 1137.82L823.61 1139.7L822.9 1141.57L822.18 1143.44L821.47 1145.31L820.75 1147.18L820.04 1149.06L819.32 1150.93L818.61 1152.81L817.9 1154.68L817.19 1156.56L816.48 1158.44L815.77 1160.31L815.07 1162.19L814.36 1164.06L813.66 1165.94L812.95 1167.81L812.25 1169.68L811.54 1171.54L810.84 1173.41L810.13 1175.27L809.42 1177.13L808.71 1178.98L808 1180.83L807.28 1182.68L806.56 1184.52L805.83 1186.36L805.1 1188.2L804.36 1190.03L803.63 1191.86L802.91 1193.69L802.18 1195.51L801.44 1197.33L800.69 1199.15L799.94 1200.96L799.18 1202.76L798.41 1204.56L797.63 1206.35L796.84 1208.14L796.04 1209.91L795.23 1211.69L794.42 1213.45L793.59 1215.21L792.74 1216.96L791.89 1218.7L791.03 1220.43L790.15 1222.16L789.26 1223.88L788.36 1225.58L787.44 1227.28L786.51 1228.97L785.57 1230.65L784.61 1232.32L783.64 1233.99L782.65 1235.64L781.65 1237.28L780.64 1238.91L779.61 1240.53L778.56 1242.13L777.5 1243.73L776.42 1245.31L775.33 1246.89L774.23 1248.45L773.11 1249.99L771.97 1251.52L770.82 1253.04L769.65 1254.54L768.46 1256.02L767.26 1257.49L766.04 1258.95L764.81 1260.38L763.56 1261.8L762.29 1263.19L761.01 1264.57L759.71 1265.93L758.39 1267.26L757.06 1268.57L755.7 1269.86L754.33 1271.12L752.95 1272.36L751.54 1273.57L750.12 1274.76L748.68 1275.91L747.22 1277.05L745.74 1278.15L744.24 1279.22L742.72 1280.27L741.18 1281.29L739.63 1282.28L738.05 1283.23L736.47 1284.16L734.86 1285.06L733.24 1285.93L731.6 1286.76L729.94 1287.57L728.28 1288.34L726.59 1289.08L724.89 1289.79L723.18 1290.46L721.46 1291.11L719.72 1291.72L717.97 1292.3L716.2 1292.85L714.42 1293.37L712.63 1293.86L710.82 1294.32L709 1294.76L707.17 1295.17L705.33 1295.56L703.48 1295.92L701.62 1296.26L699.75 1296.57L697.87 1296.86L695.98 1297.13L694.09 1297.39L692.19 1297.62L690.28 1297.83L688.37 1298.03L686.45 1298.21L684.53 1298.37L682.6 1298.52L680.66 1298.65L678.72 1298.77L676.78 1298.88L674.83 1298.97L672.88 1299.06L670.92 1299.13L668.96 1299.2L667 1299.25L665.03 1299.3L663.06 1299.34L661.09 1299.37L659.11 1299.4L657.13 1299.42L655.15 1299.44L653.16 1299.45L651.17 1299.47L649.18 1299.47L647.19 1299.48L645.19 1299.49L643.19 1299.49L641.19 1299.5L639.19 1299.5L637.19 1299.51L635.19 1299.51L633.19 1299.51L631.19 1299.51L629.2 1299.52L627.2 1299.52L625.2 1299.52L623.2 1299.52L621.2 1299.52L619.2 1299.52L617.2 1299.52L615.2 1299.52L613.2 1299.51L611.2 1299.51L609.2 1299.51L607.2 1299.51L605.2 1299.5L603.2 1299.5L601.2 1299.49L599.2 1299.49L597.2 1299.48L595.2 1299.48L593.21 1299.47L591.21 1299.47L589.21 1299.46L587.21 1299.45L585.21 1299.45L583.21 1299.44L581.21 1299.43L579.21 1299.42L577.21 1299.41L575.21 1299.4L573.21 1299.4L571.21 1299.39L569.21 1299.38L567.21 1299.37L565.21 1299.36L563.2 1299.35L561.2 1299.34L559.2 1299.33L557.2 1299.31L555.2 1299.3L553.2 1299.29L551.2 1299.28L549.2 1299.27L547.2 1299.26L545.2 1299.25L543.2 1299.23L541.2 1299.22L539.2 1299.21L537.2 1299.2L535.2 1299.18L533.2 1299.17L531.19 1299.16L529.19 1299.15L527.19 1299.13L525.19 1299.12L523.19 1299.11L521.19 1299.1L519.19 1299.08L517.19 1299.07L515.19 1299.06L513.19 1299.04L511.18 1299.03L509.18 1299.02L507.18 1299.01L505.18 1298.99L503.18 1298.98L501.18 1298.97L499.18 1298.96L497.17 1298.94L495.17 1298.93L493.17 1298.92L491.17 1298.91L489.17 1298.89L487.16 1298.88L485.16 1298.87L483.16 1298.86L481.16 1298.85L479.16 1298.84L477.16 1298.82L475.15 1298.81L473.15 1298.8L471.15 1298.79L469.15 1298.78L467.15 1298.77L465.14 1298.76L463.14 1298.75L461.14 1298.74L459.14 1298.73L457.14 1298.72L455.13 1298.71L453.13 1298.7L451.13 1298.7L449.13 1298.69L447.13 1298.68L445.12 1298.67L443.12 1298.66L441.12 1298.65L439.12 1298.65L437.12 1298.64L435.11 1298.63L433.11 1298.62L431.11 1298.62L429.11 1298.61L427.11 1298.6L425.1 1298.6L423.1 1298.59L421.1 1298.58L419.1 1298.59L417.1 1298.62L415.09 1298.64L413.09 1298.66L411.09 1298.69L409.09 1298.71L407.09 1298.74L405.08 1298.76L403.08 1298.78L401.08 1298.81L399.08 1298.83L397.08 1298.86L395.07 1298.88L393.07 1298.91L391.07 1298.94L389.07 1298.96L387.07 1298.99L385.06 1299.01L383.06 1299.04L381.06 1299.07L379.06 1299.09L377.06 1299.12L375.05 1299.15L373.05 1299.17L371.05 1299.2L369.05 1299.23L367.05 1299.26L365.05 1299.28L363.04 1299.31L361.04 1299.34L359.04 1299.37L357.04 1299.4L355.04 1299.42L353.03 1299.45L351.03 1299.48L349.03 1299.51L347.03 1299.54L345.03 1299.57L343.02 1299.6L341.02 1299.63L339.02 1299.66L337.02 1299.69L335.02 1299.72L333.02 1299.75L331.01 1299.78L329.01 1299.81L327.01 1299.84L325.01 1299.87L323.01 1299.9L321.01 1299.93L319 1299.96L317 1299.99L315 1300.03L313 1300.06L311 1300.09L309 1300.12L306.99 1300.15L304.99 1300.19L302.99 1300.22L300.99 1300.25Z" fill="#f14040"/>
<circle cx="301" cy="1307" r="6.75" fill="#f14040"/>
<circle cx="925.3" cy="824.2" r="6.15" fill="#f14040"/>
<rect x="1390.2" y="1308" width="611.6" height="12.6" fill="#515151"/>
<path d="M1399.44 1319.09L1401.33 1318.44L1403.21 1317.81L1405.1 1317.2L1406.99 1316.6L1408.89 1316L1410.78 1315.41L1412.68 1314.82L1414.58 1314.24L1416.48 1313.66L1418.38 1313.09L1420.28 1312.52L1422.19 1311.95L1424.09 1311.39L1426 1310.84L1427.91 1310.29L1429.82 1309.74L1431.73 1309.2L1433.64 1308.66L1435.56 1308.12L1437.47 1307.59L1439.39 1307.07L1441.31 1306.55L1443.22 1306.03L1445.14 1305.51L1447.07 1305L1448.99 1304.5L1450.91 1304L1452.84 1303.5L1454.76 1303L1456.69 1302.51L1458.62 1302.02L1460.55 1301.54L1462.48 1301.05L1464.4 1300.55L1466.33 1300.04L1468.25 1299.54L1470.18 1299.04L1472.11 1298.54L1474.04 1298.05L1475.97 1297.56L1477.9 1297.07L1479.83 1296.59L1481.76 1296.11L1483.7 1295.63L1485.63 1295.15L1487.57 1294.68L1489.51 1294.21L1491.44 1293.74L1493.38 1293.27L1495.32 1292.81L1497.26 1292.35L1499.21 1291.89L1501.15 1291.43L1503.09 1290.98L1505.03 1290.52L1506.98 1290.07L1508.92 1289.62L1510.87 1289.18L1512.82 1288.73L1514.76 1288.29L1516.71 1287.84L1518.66 1287.4L1520.61 1286.96L1522.56 1286.52L1524.51 1286.09L1526.46 1285.65L1528.41 1285.21L1530.36 1284.78L1532.32 1284.35L1534.27 1283.91L1536.22 1283.48L1538.18 1283.05L1540.13 1282.62L1542.09 1282.19L1544.04 1281.76L1546 1281.34L1547.96 1280.91L1549.91 1280.48L1551.87 1280.05L1553.83 1279.63L1555.79 1279.2L1557.75 1278.77L1559.71 1278.34L1561.67 1277.91L1563.63 1277.48L1565.6 1277.05L1567.56 1276.61L1569.52 1276.18L1571.49 1275.74L1573.45 1275.3L1575.42 1274.86L1577.38 1274.42L1579.35 1273.97L1581.31 1273.52L1583.28 1273.07L1585.25 1272.61L1587.21 1272.16L1589.18 1271.69L1591.14 1271.23L1593.11 1270.76L1595.07 1270.28L1597.04 1269.81L1599 1269.32L1600.97 1268.84L1602.93 1268.34L1604.9 1267.85L1606.86 1267.35L1608.82 1266.84L1610.79 1266.32L1612.75 1265.8L1614.71 1265.28L1616.67 1264.75L1618.63 1264.21L1620.59 1263.67L1622.55 1263.11L1624.5 1262.56L1626.46 1261.99L1628.41 1261.42L1630.36 1260.84L1632.32 1260.25L1634.27 1259.65L1636.21 1259.05L1638.16 1258.43L1640.11 1257.81L1642.05 1257.18L1643.99 1256.54L1645.93 1255.89L1647.86 1255.23L1649.8 1254.56L1651.73 1253.88L1653.66 1253.19L1655.59 1252.49L1657.51 1251.78L1659.43 1251.06L1661.35 1250.32L1663.26 1249.58L1665.17 1248.82L1667.08 1248.05L1668.99 1247.27L1670.89 1246.48L1672.78 1245.68L1674.67 1244.86L1676.56 1244.03L1678.44 1243.18L1680.32 1242.32L1682.19 1241.45L1684.06 1240.57L1685.92 1239.67L1687.78 1238.75L1689.63 1237.82L1691.47 1236.88L1693.31 1235.92L1695.14 1234.95L1696.96 1233.96L1698.78 1232.96L1700.58 1231.94L1702.38 1230.9L1704.18 1229.85L1705.96 1228.78L1707.74 1227.69L1709.5 1226.59L1711.26 1225.47L1713.01 1224.34L1714.75 1223.19L1716.47 1222.02L1718.19 1220.84L1719.89 1219.64L1721.58 1218.43L1723.26 1217.2L1724.93 1215.96L1726.58 1214.71L1728.23 1213.44L1729.86 1212.15L1731.48 1210.86L1733.09 1209.55L1734.69 1208.23L1736.28 1206.9L1737.86 1205.55L1739.42 1204.19L1740.98 1202.83L1742.52 1201.45L1744.05 1200.05L1745.57 1198.65L1747.08 1197.24L1748.58 1195.82L1750.06 1194.38L1751.54 1192.94L1753 1191.49L1754.46 1190.02L1755.9 1188.55L1757.34 1187.07L1758.76 1185.58L1760.17 1184.08L1761.58 1182.57L1762.97 1181.06L1764.35 1179.53L1765.72 1178L1767.09 1176.46L1768.44 1174.92L1769.78 1173.36L1771.12 1171.8L1772.44 1170.23L1773.76 1168.66L1775.06 1167.08L1776.36 1165.49L1777.65 1163.89L1778.93 1162.29L1780.2 1160.68L1781.46 1159.07L1782.71 1157.45L1783.95 1155.82L1785.19 1154.19L1786.42 1152.56L1787.64 1150.92L1788.85 1149.27L1790.05 1147.62L1791.25 1145.96L1792.44 1144.3L1793.62 1142.64L1794.79 1140.97L1795.95 1139.29L1797.11 1137.62L1798.26 1135.94L1799.4 1134.25L1800.54 1132.57L1801.67 1130.88L1802.8 1129.19L1803.92 1127.49L1805.03 1125.8L1806.14 1124.1L1807.24 1122.4L1808.34 1120.69L1809.43 1118.99L1810.52 1117.28L1811.6 1115.58L1812.68 1113.87L1813.76 1112.16L1814.83 1110.45L1815.9 1108.74L1816.96 1107.03L1818.03 1105.32L1819.09 1103.61L1820.15 1101.9L1821.2 1100.18L1822.26 1098.47L1823.31 1096.76L1824.36 1095.05L1825.41 1093.34L1826.46 1091.63L1827.51 1089.93L1828.56 1088.22L1829.61 1086.51L1830.66 1084.81L1831.71 1083.11L1832.76 1081.41L1833.81 1079.71L1834.86 1078.01L1835.91 1076.32L1836.96 1074.62L1838.02 1072.93L1839.08 1071.25L1840.14 1069.56L1841.2 1067.88L1842.26 1066.2L1843.33 1064.53L1844.4 1062.85L1845.47 1061.18L1846.55 1059.52L1847.63 1057.86L1848.72 1056.2L1849.8 1054.55L1850.9 1052.9L1852 1051.26L1853.1 1049.62L1854.2 1047.98L1855.32 1046.35L1856.44 1044.73L1857.56 1043.11L1858.69 1041.49L1859.82 1039.89L1860.97 1038.28L1862.11 1036.69L1863.27 1035.1L1864.43 1033.52L1865.6 1031.94L1866.78 1030.36L1867.96 1028.8L1869.16 1027.23L1870.36 1025.67L1871.57 1024.12L1872.78 1022.56L1874 1021.01L1875.23 1019.47L1876.47 1017.92L1877.71 1016.38L1878.95 1014.85L1880.21 1013.31L1881.46 1011.78L1882.72 1010.25L1883.99 1008.72L1885.26 1007.19L1886.53 1005.67L1887.81 1004.14L1889.09 1002.62L1890.38 1001.1L1891.67 999.57L1892.96 998.05L1894.25 996.53L1895.55 995.01L1896.85 993.49L1898.15 991.97L1899.45 990.45L1900.75 988.92L1902.05 987.4L1903.35 985.87L1904.66 984.34L1905.96 982.81L1907.27 981.28L1908.57 979.75L1909.87 978.21L1911.18 976.68L1912.48 975.13L1913.78 973.59L1915.07 972.04L1916.37 970.49L1917.66 968.93L1918.95 967.37L1920.24 965.81L1921.53 964.24L1922.81 962.67L1924.09 961.09L1925.36 959.51L1926.63 957.92L1927.89 956.32L1929.15 954.72L1930.41 953.12L1931.66 951.51L1932.9 949.89L1934.14 948.26L1935.37 946.63L1936.59 944.99L1937.81 943.34L1939.02 941.69L1940.22 940.02L1941.41 938.35L1942.59 936.68L1943.77 935L1944.93 933.31L1946.09 931.61L1947.23 929.91L1948.37 928.21L1949.49 926.49L1950.61 924.78L1951.72 923.05L1952.82 921.32L1953.91 919.59L1954.99 917.85L1956.06 916.1L1957.13 914.35L1958.18 912.59L1959.22 910.83L1960.26 909.06L1961.28 907.28L1962.3 905.51L1963.31 903.72L1964.3 901.93L1965.29 900.14L1966.27 898.34L1967.24 896.54L1968.2 894.73L1969.15 892.92L1970.1 891.1L1971.03 889.28L1971.96 887.46L1972.87 885.63L1973.76 883.78L1974.63 881.94L1975.5 880.09L1976.37 878.23L1977.22 876.37L1978.06 874.51L1978.9 872.65L1979.73 870.78L1980.54 868.91L1981.35 867.03L1982.15 865.15L1982.95 863.27L1983.73 861.38L1984.51 859.49L1985.27 857.6L1986.03 855.71L1986.78 853.81L1987.52 851.91L1988.26 850L1988.98 848.1L1989.7 846.19L1990.41 844.28L1991.11 842.36L1991.8 840.44L1992.49 838.52L1993.16 836.6L1993.83 834.68L1994.49 832.75L1995.15 830.82L1995.79 828.89L1996.43 826.95L1997.06 825.01L1997.68 823.08L1998.3 821.13L1998.9 819.19L1999.5 817.25L2000.09 815.3L2000.68 813.35L2001.26 811.4L2001.83 809.44L2002.38 807.5L1987.41 803.09L1986.84 805L1986.26 806.89L1985.68 808.77L1985.08 810.66L1984.48 812.54L1983.88 814.41L1983.26 816.29L1982.64 818.16L1982.01 820.03L1981.37 821.9L1980.73 823.76L1980.07 825.62L1979.41 827.48L1978.74 829.34L1978.07 831.19L1977.38 833.04L1976.69 834.88L1975.99 836.72L1975.29 838.56L1974.57 840.4L1973.85 842.23L1973.11 844.06L1972.38 845.88L1971.63 847.71L1970.87 849.52L1970.11 851.34L1969.34 853.15L1968.56 854.95L1967.77 856.76L1966.97 858.55L1966.17 860.35L1965.35 862.14L1964.53 863.93L1963.7 865.71L1962.86 867.49L1962.02 869.26L1961.16 871.03L1960.3 872.79L1959.43 874.55L1958.55 876.31L1957.66 878.06L1956.77 879.81L1955.89 881.56L1954.99 883.31L1954.09 885.05L1953.17 886.79L1952.25 888.52L1951.32 890.25L1950.38 891.97L1949.44 893.69L1948.48 895.4L1947.52 897.11L1946.54 898.81L1945.56 900.51L1944.57 902.2L1943.57 903.89L1942.57 905.57L1941.55 907.25L1940.52 908.92L1939.49 910.58L1938.45 912.24L1937.4 913.9L1936.34 915.54L1935.27 917.19L1934.19 918.82L1933.11 920.45L1932.01 922.08L1930.91 923.7L1929.8 925.31L1928.68 926.91L1927.55 928.51L1926.41 930.11L1925.26 931.69L1924.11 933.28L1922.94 934.86L1921.77 936.43L1920.58 938L1919.39 939.56L1918.2 941.12L1916.99 942.68L1915.78 944.23L1914.56 945.78L1913.33 947.33L1912.1 948.87L1910.86 950.41L1909.61 951.95L1908.36 953.49L1907.11 955.02L1905.84 956.55L1904.58 958.08L1903.31 959.61L1902.04 961.13L1900.76 962.66L1899.48 964.18L1898.19 965.7L1896.9 967.22L1895.61 968.75L1894.32 970.27L1893.02 971.79L1891.73 973.31L1890.43 974.83L1889.13 976.35L1887.82 977.88L1886.52 979.4L1885.22 980.93L1883.91 982.45L1882.61 983.98L1881.31 985.51L1880 987.05L1878.7 988.58L1877.4 990.12L1876.1 991.66L1874.8 993.21L1873.5 994.75L1872.2 996.31L1870.91 997.86L1869.62 999.42L1868.33 1000.98L1867.04 1002.55L1865.76 1004.12L1864.48 1005.7L1863.21 1007.28L1861.94 1008.87L1860.67 1010.46L1859.41 1012.06L1858.16 1013.66L1856.91 1015.27L1855.66 1016.89L1854.43 1018.51L1853.19 1020.14L1851.97 1021.78L1850.75 1023.42L1849.54 1025.07L1848.34 1026.73L1847.14 1028.39L1845.96 1030.05L1844.78 1031.72L1843.61 1033.39L1842.45 1035.06L1841.3 1036.74L1840.15 1038.42L1839.01 1040.11L1837.87 1041.79L1836.74 1043.48L1835.62 1045.18L1834.5 1046.87L1833.39 1048.57L1832.29 1050.27L1831.19 1051.97L1830.09 1053.67L1829 1055.38L1827.91 1057.08L1826.83 1058.79L1825.75 1060.5L1824.68 1062.21L1823.61 1063.92L1822.54 1065.63L1821.47 1067.34L1820.41 1069.05L1819.35 1070.76L1818.29 1072.47L1817.24 1074.19L1816.18 1075.9L1815.13 1077.61L1814.08 1079.32L1813.03 1081.03L1811.98 1082.73L1810.93 1084.44L1809.88 1086.15L1808.83 1087.85L1807.79 1089.56L1806.74 1091.26L1805.69 1092.96L1804.64 1094.66L1803.58 1096.35L1802.53 1098.05L1801.48 1099.74L1800.42 1101.43L1799.36 1103.11L1798.3 1104.8L1797.24 1106.48L1796.18 1108.16L1795.11 1109.83L1794.04 1111.5L1792.96 1113.17L1791.88 1114.83L1790.8 1116.49L1789.71 1118.15L1788.62 1119.8L1787.53 1121.45L1786.43 1123.09L1785.33 1124.73L1784.22 1126.36L1783.1 1127.99L1781.98 1129.61L1780.86 1131.23L1779.72 1132.84L1778.59 1134.44L1777.44 1136.04L1776.29 1137.64L1775.13 1139.23L1773.97 1140.81L1772.8 1142.39L1771.62 1143.96L1770.43 1145.52L1769.24 1147.08L1768.04 1148.63L1766.83 1150.18L1765.61 1151.72L1764.39 1153.25L1763.16 1154.77L1761.92 1156.29L1760.68 1157.8L1759.42 1159.3L1758.16 1160.8L1756.89 1162.28L1755.61 1163.76L1754.33 1165.23L1753.03 1166.7L1751.73 1168.15L1750.42 1169.6L1749.1 1171.03L1747.77 1172.46L1746.43 1173.88L1745.08 1175.29L1743.73 1176.69L1742.37 1178.08L1740.99 1179.46L1739.61 1180.83L1738.22 1182.19L1736.82 1183.53L1735.41 1184.87L1734 1186.2L1732.57 1187.52L1731.13 1188.82L1729.69 1190.11L1728.23 1191.4L1726.77 1192.67L1725.3 1193.92L1723.81 1195.17L1722.32 1196.4L1720.82 1197.62L1719.31 1198.83L1717.79 1200.02L1716.26 1201.2L1714.72 1202.37L1713.17 1203.52L1711.61 1204.66L1710.05 1205.78L1708.47 1206.89L1706.88 1207.98L1705.29 1209.06L1703.68 1210.12L1702.07 1211.17L1700.44 1212.21L1698.81 1213.23L1697.16 1214.23L1695.51 1215.22L1693.84 1216.2L1692.17 1217.16L1690.48 1218.11L1688.79 1219.05L1687.09 1219.97L1685.38 1220.88L1683.66 1221.78L1681.94 1222.66L1680.21 1223.53L1678.47 1224.39L1676.72 1225.23L1674.96 1226.07L1673.2 1226.89L1671.43 1227.7L1669.65 1228.49L1667.87 1229.28L1666.08 1230.05L1664.29 1230.81L1662.49 1231.56L1660.68 1232.3L1658.87 1233.03L1657.05 1233.75L1655.23 1234.46L1653.41 1235.16L1651.57 1235.85L1649.74 1236.53L1647.9 1237.2L1646.05 1237.86L1644.2 1238.51L1642.34 1239.15L1640.49 1239.78L1638.62 1240.41L1636.76 1241.02L1634.89 1241.63L1633.01 1242.23L1631.14 1242.82L1629.26 1243.41L1627.37 1243.98L1625.49 1244.55L1623.6 1245.11L1621.7 1245.67L1619.81 1246.22L1617.91 1246.76L1616.01 1247.29L1614.1 1247.82L1612.2 1248.35L1610.29 1248.87L1608.37 1249.38L1606.46 1249.88L1604.54 1250.38L1602.63 1250.88L1600.71 1251.37L1598.78 1251.86L1596.86 1252.34L1594.93 1252.82L1593 1253.29L1591.07 1253.76L1589.14 1254.23L1587.21 1254.69L1585.27 1255.15L1583.33 1255.6L1581.4 1256.06L1579.46 1256.51L1577.51 1256.95L1575.57 1257.4L1573.63 1257.84L1571.68 1258.28L1569.74 1258.71L1567.79 1259.15L1565.84 1259.58L1563.89 1260.02L1561.94 1260.45L1559.98 1260.88L1558.03 1261.31L1556.07 1261.74L1554.12 1262.16L1552.16 1262.59L1550.2 1263.02L1548.25 1263.45L1546.29 1263.87L1544.33 1264.3L1542.37 1264.73L1540.41 1265.16L1538.45 1265.59L1536.49 1266.02L1534.52 1266.45L1532.56 1266.88L1530.6 1267.31L1528.64 1267.75L1526.68 1268.18L1524.72 1268.62L1522.76 1269.06L1520.8 1269.5L1518.83 1269.94L1516.87 1270.38L1514.91 1270.82L1512.95 1271.26L1510.99 1271.71L1509.03 1272.16L1507.07 1272.61L1505.1 1273.06L1503.14 1273.51L1501.18 1273.97L1499.22 1274.42L1497.26 1274.88L1495.3 1275.34L1493.34 1275.81L1491.38 1276.27L1489.42 1276.74L1487.46 1277.21L1485.5 1277.69L1483.54 1278.16L1481.58 1278.64L1479.63 1279.12L1477.67 1279.61L1475.71 1280.1L1473.76 1280.59L1471.8 1281.08L1469.84 1281.58L1467.89 1282.08L1465.93 1282.58L1463.98 1283.08L1462.02 1283.59L1460.07 1284.11L1458.12 1284.62L1456.17 1285.17L1454.23 1285.72L1452.29 1286.28L1450.35 1286.84L1448.41 1287.41L1446.47 1287.98L1444.53 1288.55L1442.59 1289.13L1440.66 1289.71L1438.72 1290.29L1436.79 1290.88L1434.85 1291.48L1432.92 1292.07L1430.99 1292.68L1429.06 1293.28L1427.13 1293.89L1425.21 1294.51L1423.28 1295.12L1421.36 1295.75L1419.43 1296.37L1417.51 1297.01L1415.59 1297.64L1413.67 1298.29L1411.75 1298.93L1409.84 1299.58L1407.92 1300.24L1406.01 1300.9L1404.1 1301.56L1402.19 1302.23L1400.28 1302.91L1398.37 1303.58L1396.46 1304.25L1394.56 1304.91Z" fill="#f14040"/>
<circle cx="1397" cy="1312" r="7.5" fill="#f14040"/>
<circle cx="1994.9" cy="805.3" r="7.8" fill="#f14040"/>
<path d="M963.4 2029.9h13.2v13.2h-13.2zM964.6 2029.83h13.2v13.2h-13.2zM965.8 2029.76h13.2v13.2h-13.2zM967 2029.69h13.2v13.2h-13.2zM968.2 2029.62h13.2v13.2h-13.2zM969.4 2029.55h13.2v13.2h-13.2zM970.6 2029.48h13.2v13.2h-13.2zM971.8 2029.41h13.2v13.2h-13.2zM973 2029.34h13.2v13.2h-13.2zM974.2 2029.27h13.2v13.2h-13.2zM975.4 2029.2h13.2v13.2h-13.2zM976.6 2029.13h13.2v13.2h-13.2zM977.8 2029.07h13.2v13.2h-13.2zM979 2029h13.2v13.2h-13.2zM980.19 2028.93h13.2v13.2h-13.2zM981.39 2028.86h13.2v13.2h-13.2zM982.59 2028.79h13.2v13.2h-13.2zM983.79 2028.72h13.2v13.2h-13.2zM984.99 2028.65h13.2v13.2h-13.2zM986.19 2028.58h13.2v13.2h-13.2zM987.39 2028.51h13.2v13.2h-13.2zM988.59 2028.45h13.2v13.2h-13.2zM989.79 2028.38h13.2v13.2h-13.2zM990.99 2028.31h13.2v13.2h-13.2zM992.19 2028.24h13.2v13.2h-13.2zM993.39 2028.17h13.2v13.2h-13.2zM994.59 2028.1h13.2v13.2h-13.2zM995.79 2028.04h13.2v13.2h-13.2zM996.99 2027.97h13.2v13.2h-13.2zM998.19 2027.9h13.2v13.2h-13.2zM999.39 2027.83h13.2v13.2h-13.2zM1000.59 2027.76h13.2v13.2h-13.2zM1001.79 2027.7h13.2v13.2h-13.2zM1002.99 2027.63h13.2v13.2h-13.2zM1004.19 2027.56h13.2v13.2h-13.2zM1005.39 2027.49h13.2v13.2h-13.2zM1006.59 2027.43h13.2v13.2h-13.2zM1007.79 2027.36h13.2v13.2h-13.2zM1008.99 2027.29h13.2v13.2h-13.2zM1010.19 2027.22h13.2v13.2h-13.2zM1011.39 2027.16h13.2v13.2h-13.2zM1012.59 2027.09h13.2v13.2h-13.2zM1013.79 2027.02h13.2v13.2h-13.2zM1014.99 2026.96h13.2v13.2h-13.2zM1016.19 2026.89h13.2v13.2h-13.2zM1017.39 2026.82h13.2v13.2h-13.2zM1018.59 2026.76h13.2v13.2h-13.2zM1019.79 2026.69h13.2v13.2h-13.2zM1020.99 2026.62h13.2v13.2h-13.2zM1022.19 2026.56h13.2v13.2h-13.2zM1023.39 2026.49h13.2v13.2h-13.2zM1024.59 2026.42h13.2v13.2h-13.2zM1025.79 2026.36h13.2v13.2h-13.2zM1026.99 2026.29h13.2v13.2h-13.2zM1028.19 2026.23h13.2v13.2h-13.2zM1029.39 2026.16h13.2v13.2h-13.2zM1030.59 2026.09h13.2v13.2h-13.2zM1031.79 2026.03h13.2v13.2h-13.2zM1032.99 2025.96h13.2v13.2h-13.2zM1034.19 2025.9h13.2v13.2h-13.2zM1035.39 2025.83h13.2v13.2h-13.2zM1036.59 2025.76h13.2v13.2h-13.2zM1037.79 2025.7h13.2v13.2h-13.2zM1038.99 2025.63h13.2v13.2h-13.2zM1040.18 2025.57h13.2v13.2h-13.2zM1041.38 2025.5h13.2v13.2h-13.2zM1042.58 2025.44h13.2v13.2h-13.2zM1043.78 2025.37h13.2v13.2h-13.2zM1044.98 2025.31h13.2v13.2h-13.2zM1046.18 2025.24h13.2v13.2h-13.2zM1047.38 2025.18h13.2v13.2h-13.2zM1048.58 2025.11h13.2v13.2h-13.2zM1049.78 2025.05h13.2v13.2h-13.2zM1050.98 2024.98h13.2v13.2h-13.2zM1052.18 2024.92h13.2v13.2h-13.2zM1053.38 2024.85h13.2v13.2h-13.2zM1054.58 2024.79h13.2v13.2h-13.2zM1055.78 2024.72h13.2v13.2h-13.2zM1056.98 2024.66h13.2v13.2h-13.2zM1058.18 2024.59h13.2v13.2h-13.2zM1059.38 2024.53h13.2v13.2h-13.2zM1060.58 2024.46h13.2v13.2h-13.2zM1061.78 2024.4h13.2v13.2h-13.2zM1062.98 2024.34h13.2v13.2h-13.2zM1064.18 2024.27h13.2v13.2h-13.2zM1065.38 2024.21h13.2v13.2h-13.2zM1066.58 2024.14h13.2v13.2h-13.2zM1067.78 2024.08h13.2v13.2h-13.2zM1068.98 2024.02h13.2v13.2h-13.2zM1070.18 2023.95h13.2v13.2h-13.2zM1071.38 2023.89h13.2v13.2h-13.2zM1072.58 2023.82h13.2v13.2h-13.2zM1073.78 2023.76h13.2v13.2h-13.2zM1074.98 2023.7h13.2v13.2h-13.2zM1076.18 2023.63h13.2v13.2h-13.2zM1077.38 2023.57h13.2v13.2h-13.2zM1078.58 2023.5h13.2v13.2h-13.2zM1079.78 2023.44h13.2v13.2h-13.2zM1080.98 2023.38h13.2v13.2h-13.2zM1082.18 2023.31h13.2v13.2h-13.2zM1083.38 2023.25h13.2v13.2h-13.2zM1084.58 2023.19h13.2v13.2h-13.2zM1085.78 2023.12h13.2v13.2h-13.2zM1086.98 2023.06h13.2v13.2h-13.2zM1088.18 2023h13.2v13.2h-13.2zM1089.38 2022.93h13.2v13.2h-13.2zM1090.58 2022.87h13.2v13.2h-13.2zM1091.78 2022.81h13.2v13.2h-13.2zM1092.98 2022.75h13.2v13.2h-13.2zM1094.18 2022.68h13.2v13.2h-13.2zM1095.38 2022.62h13.2v13.2h-13.2zM1096.58 2022.56h13.2v13.2h-13.2zM1097.78 2022.49h13.2v13.2h-13.2zM1098.98 2022.43h13.2v13.2h-13.2zM1100.18 2022.37h13.2v13.2h-13.2zM1101.38 2022.31h13.2v13.2h-13.2zM1102.58 2022.24h13.2v13.2h-13.2zM1103.78 2022.18h13.2v13.2h-13.2zM1104.98 2022.12h13.2v13.2h-13.2zM1106.18 2022.06h13.2v13.2h-13.2zM1107.38 2021.99h13.2v13.2h-13.2zM1108.58 2021.93h13.2v13.2h-13.2zM1109.78 2021.87h13.2v13.2h-13.2zM1110.98 2021.81h13.2v13.2h-13.2zM1112.18 2021.74h13.2v13.2h-13.2zM1113.38 2021.68h13.2v13.2h-13.2zM1114.58 2021.62h13.2v13.2h-13.2zM1115.78 2021.56h13.2v13.2h-13.2zM1116.98 2021.49h13.2v13.2h-13.2zM1118.18 2021.43h13.2v13.2h-13.2zM1119.38 2021.37h13.2v13.2h-13.2zM1120.58 2021.31h13.2v13.2h-13.2zM1121.78 2021.25h13.2v13.2h-13.2zM1122.98 2021.18h13.2v13.2h-13.2zM1124.18 2021.12h13.2v13.2h-13.2zM1125.38 2021.06h13.2v13.2h-13.2zM1126.58 2021h13.2v13.2h-13.2zM1127.78 2020.93h13.2v13.2h-13.2zM1128.98 2020.87h13.2v13.2h-13.2zM1130.18 2020.8h13.2v13.2h-13.2zM1131.38 2020.74h13.2v13.2h-13.2zM1132.58 2020.67h13.2v13.2h-13.2zM1133.78 2020.61h13.2v13.2h-13.2zM1134.98 2020.54h13.2v13.2h-13.2zM1136.18 2020.47h13.2v13.2h-13.2zM1137.38 2020.41h13.2v13.2h-13.2zM1138.58 2020.34h13.2v13.2h-13.2zM1139.78 2020.27h13.2v13.2h-13.2zM1140.98 2020.2h13.2v13.2h-13.2zM1142.18 2020.12h13.2v13.2h-13.2zM1143.38 2020.05h13.2v13.2h-13.2zM1144.58 2019.98h13.2v13.2h-13.2zM1145.78 2019.9h13.2v13.2h-13.2zM1146.98 2019.83h13.2v13.2h-13.2zM1148.18 2019.75h13.2v13.2h-13.2zM1149.38 2019.67h13.2v13.2h-13.2zM1150.58 2019.59h13.2v13.2h-13.2zM1151.78 2019.51h13.2v13.2h-13.2zM1152.97 2019.43h13.2v13.2h-13.2zM1154.17 2019.34h13.2v13.2h-13.2zM1155.37 2019.26h13.2v13.2h-13.2zM1156.57 2019.17h13.2v13.2h-13.2zM1157.77 2019.08h13.2v13.2h-13.2zM1158.97 2018.99h13.2v13.2h-13.2zM1160.17 2018.9h13.2v13.2h-13.2zM1161.36 2018.8h13.2v13.2h-13.2zM1162.56 2018.71h13.2v13.2h-13.2zM1163.76 2018.61h13.2v13.2h-13.2zM1164.96 2018.51h13.2v13.2h-13.2zM1166.15 2018.41h13.2v13.2h-13.2zM1167.35 2018.3h13.2v13.2h-13.2zM1168.55 2018.2h13.2v13.2h-13.2zM1169.74 2018.09h13.2v13.2h-13.2zM1170.94 2017.98h13.2v13.2h-13.2zM1172.14 2017.86h13.2v13.2h-13.2zM1173.33 2017.75h13.2v13.2h-13.2zM1174.53 2017.63h13.2v13.2h-13.2zM1175.73 2017.51h13.2v13.2h-13.2zM1176.92 2017.39h13.2v13.2h-13.2zM1178.12 2017.26h13.2v13.2h-13.2zM1179.31 2017.14h13.2v13.2h-13.2zM1180.51 2017h13.2v13.2h-13.2zM1181.7 2016.87h13.2v13.2h-13.2zM1182.89 2016.74h13.2v13.2h-13.2zM1184.09 2016.6h13.2v13.2h-13.2zM1185.28 2016.45h13.2v13.2h-13.2zM1186.47 2016.31h13.2v13.2h-13.2zM1187.67 2016.16h13.2v13.2h-13.2zM1188.86 2016.01h13.2v13.2h-13.2zM1190.05 2015.86h13.2v13.2h-13.2zM1191.24 2015.7h13.2v13.2h-13.2zM1192.43 2015.54h13.2v13.2h-13.2zM1193.62 2015.38h13.2v13.2h-13.2zM1194.81 2015.21h13.2v13.2h-13.2zM1196 2015.04h13.2v13.2h-13.2zM1197.19 2014.86h13.2v13.2h-13.2zM1198.38 2014.69h13.2v13.2h-13.2zM1199.57 2014.51h13.2v13.2h-13.2zM1200.75 2014.32h13.2v13.2h-13.2zM1201.94 2014.13h13.2v13.2h-13.2zM1203.13 2013.94h13.2v13.2h-13.2zM1204.31 2013.74h13.2v13.2h-13.2zM1205.5 2013.54h13.2v13.2h-13.2zM1206.68 2013.34h13.2v13.2h-13.2zM1207.87 2013.13h13.2v13.2h-13.2zM1209.05 2012.92h13.2v13.2h-13.2zM1210.23 2012.7h13.2v13.2h-13.2zM1211.41 2012.48h13.2v13.2h-13.2zM1212.59 2012.26h13.2v13.2h-13.2zM1213.77 2012.03h13.2v13.2h-13.2zM1214.95 2011.8h13.2v13.2h-13.2zM1216.13 2011.56h13.2v13.2h-13.2zM1217.31 2011.32h13.2v13.2h-13.2zM1218.48 2011.07h13.2v13.2h-13.2zM1219.66 2010.82h13.2v13.2h-13.2zM1220.83 2010.56h13.2v13.2h-13.2zM1222 2010.3h13.2v13.2h-13.2zM1223.18 2010.04h13.2v13.2h-13.2zM1224.35 2009.77h13.2v13.2h-13.2zM1225.52 2009.49h13.2v13.2h-13.2zM1226.69 2009.21h13.2v13.2h-13.2zM1227.85 2008.92h13.2v13.2h-13.2zM1229.02 2008.63h13.2v13.2h-13.2zM1230.18 2008.34h13.2v13.2h-13.2zM1231.35 2008.04h13.2v13.2h-13.2zM1232.51 2007.73h13.2v13.2h-13.2zM1233.67 2007.42h13.2v13.2h-13.2zM1234.83 2007.1h13.2v13.2h-13.2zM1235.99 2006.78h13.2v13.2h-13.2zM1237.14 2006.45h13.2v13.2h-13.2zM1238.3 2006.12h13.2v13.2h-13.2zM1239.45 2005.78h13.2v13.2h-13.2zM1240.6 2005.43h13.2v13.2h-13.2zM1241.75 2005.08h13.2v13.2h-13.2zM1242.9 2004.72h13.2v13.2h-13.2zM1244.04 2004.36h13.2v13.2h-13.2zM1245.19 2003.99h13.2v13.2h-13.2zM1246.33 2003.62h13.2v13.2h-13.2zM1247.47 2003.24h13.2v13.2h-13.2zM1248.61 2002.85h13.2v13.2h-13.2zM1249.74 2002.46h13.2v13.2h-13.2zM1250.87 2002.06h13.2v13.2h-13.2zM1252.01 2001.65h13.2v13.2h-13.2zM1253.13 2001.24h13.2v13.2h-13.2zM1254.26 2000.82h13.2v13.2h-13.2zM1255.38 2000.4h13.2v13.2h-13.2zM1256.51 1999.96h13.2v13.2h-13.2zM1257.63 1999.53h13.2v13.2h-13.2zM1258.74 1999.08h13.2v13.2h-13.2zM1259.86 1998.63h13.2v13.2h-13.2zM1260.97 1998.17h13.2v13.2h-13.2zM1262.07 1997.71h13.2v13.2h-13.2zM1263.18 1997.24h13.2v13.2h-13.2zM1264.28 1996.76h13.2v13.2h-13.2zM1265.38 1996.28h13.2v13.2h-13.2zM1266.48 1995.79h13.2v13.2h-13.2zM1267.57 1995.29h13.2v13.2h-13.2zM1268.67 1994.79h13.2v13.2h-13.2zM1269.75 1994.28h13.2v13.2h-13.2zM1270.84 1993.76h13.2v13.2h-13.2zM1271.92 1993.24h13.2v13.2h-13.2zM1273 1992.71h13.2v13.2h-13.2zM1274.07 1992.17h13.2v13.2h-13.2zM1275.15 1991.63h13.2v13.2h-13.2zM1276.21 1991.08h13.2v13.2h-13.2zM1277.28 1990.52h13.2v13.2h-13.2zM1278.34 1989.96h13.2v13.2h-13.2zM1279.4 1989.39h13.2v13.2h-13.2zM1280.45 1988.81h13.2v13.2h-13.2zM1281.5 1988.23h13.2v13.2h-13.2zM1282.55 1987.64h13.2v13.2h-13.2zM1283.59 1987.04h13.2v13.2h-13.2zM1284.63 1986.44h13.2v13.2h-13.2zM1285.67 1985.83h13.2v13.2h-13.2zM1286.7 1985.21h13.2v13.2h-13.2zM1287.73 1984.59h13.2v13.2h-13.2zM1288.75 1983.96h13.2v13.2h-13.2zM1289.77 1983.32h13.2v13.2h-13.2zM1290.78 1982.68h13.2v13.2h-13.2zM1291.8 1982.03h13.2v13.2h-13.2zM1292.8 1981.37h13.2v13.2h-13.2zM1293.8 1980.71h13.2v13.2h-13.2zM1294.8 1980.04h13.2v13.2h-13.2zM1295.8 1979.36h13.2v13.2h-13.2zM1296.78 1978.68h13.2v13.2h-13.2zM1297.77 1977.99h13.2v13.2h-13.2zM1298.75 1977.29h13.2v13.2h-13.2zM1299.72 1976.59h13.2v13.2h-13.2zM1300.69 1975.88h13.2v13.2h-13.2zM1301.66 1975.16h13.2v13.2h-13.2zM1302.62 1974.44h13.2v13.2h-13.2zM1303.57 1973.71h13.2v13.2h-13.2zM1304.52 1972.97h13.2v13.2h-13.2zM1305.46 1972.23h13.2v13.2h-13.2zM1306.4 1971.48h13.2v13.2h-13.2zM1307.34 1970.72h13.2v13.2h-13.2zM1308.26 1969.96h13.2v13.2h-13.2zM1309.19 1969.19h13.2v13.2h-13.2zM1310.1 1968.41h13.2v13.2h-13.2zM1311.02 1967.63h13.2v13.2h-13.2zM1311.92 1966.84h13.2v13.2h-13.2zM1312.82 1966.05h13.2v13.2h-13.2zM1313.72 1965.24h13.2v13.2h-13.2zM1314.6 1964.43h13.2v13.2h-13.2zM1315.49 1963.62h13.2v13.2h-13.2zM1316.36 1962.8h13.2v13.2h-13.2zM1317.23 1961.97h13.2v13.2h-13.2zM1318.1 1961.13h13.2v13.2h-13.2zM1318.96 1960.29h13.2v13.2h-13.2zM1319.81 1959.44h13.2v13.2h-13.2zM1320.65 1958.59h13.2v13.2h-13.2zM1321.49 1957.73h13.2v13.2h-13.2zM1322.32 1956.86h13.2v13.2h-13.2zM1323.15 1955.98h13.2v13.2h-13.2zM1323.97 1955.11h13.2v13.2h-13.2zM1324.78 1954.22h13.2v13.2h-13.2zM1325.58 1953.33h13.2v13.2h-13.2zM1326.38 1952.43h13.2v13.2h-13.2zM1327.18 1951.53h13.2v13.2h-13.2zM1327.96 1950.62h13.2v13.2h-13.2zM1328.74 1949.71h13.2v13.2h-13.2zM1329.52 1948.79h13.2v13.2h-13.2zM1330.29 1947.86h13.2v13.2h-13.2zM1331.05 1946.93h13.2v13.2h-13.2zM1331.8 1946h13.2v13.2h-13.2zM1332.55 1945.06h13.2v13.2h-13.2zM1333.3 1944.12h13.2v13.2h-13.2zM1334.04 1943.17h13.2v13.2h-13.2zM1334.77 1942.22h13.2v13.2h-13.2zM1335.49 1941.26h13.2v13.2h-13.2zM1336.21 1940.3h13.2v13.2h-13.2zM1336.93 1939.33h13.2v13.2h-13.2zM1337.64 1938.36h13.2v13.2h-13.2zM1338.34 1937.39h13.2v13.2h-13.2zM1339.04 1936.41h13.2v13.2h-13.2zM1339.73 1935.43h13.2v13.2h-13.2zM1340.42 1934.44h13.2v13.2h-13.2zM1341.1 1933.45h13.2v13.2h-13.2zM1341.78 1932.46h13.2v13.2h-13.2zM1342.45 1931.46h13.2v13.2h-13.2zM1343.12 1930.46h13.2v13.2h-13.2zM1343.78 1929.46h13.2v13.2h-13.2zM1344.44 1928.45h13.2v13.2h-13.2zM1345.09 1927.44h13.2v13.2h-13.2zM1345.74 1926.43h13.2v13.2h-13.2zM1346.38 1925.42h13.2v13.2h-13.2zM1347.02 1924.4h13.2v13.2h-13.2zM1347.65 1923.38h13.2v13.2h-13.2zM1348.28 1922.35h13.2v13.2h-13.2zM1348.9 1921.33h13.2v13.2h-13.2zM1349.52 1920.3h13.2v13.2h-13.2zM1350.14 1919.26h13.2v13.2h-13.2zM1350.75 1918.23h13.2v13.2h-13.2zM1351.36 1917.19h13.2v13.2h-13.2zM1351.96 1916.15h13.2v13.2h-13.2zM1352.56 1915.11h13.2v13.2h-13.2zM1353.16 1914.07h13.2v13.2h-13.2zM1353.75 1913.02h13.2v13.2h-13.2zM1354.33 1911.97h13.2v13.2h-13.2zM1354.92 1910.92h13.2v13.2h-13.2zM1355.5 1909.87h13.2v13.2h-13.2zM1356.08 1908.82h13.2v13.2h-13.2zM1356.65 1907.76h13.2v13.2h-13.2zM1357.22 1906.7h13.2v13.2h-13.2zM1357.79 1905.64h13.2v13.2h-13.2zM1358.35 1904.58h13.2v13.2h-13.2zM1358.91 1903.52h13.2v13.2h-13.2zM1359.47 1902.46h13.2v13.2h-13.2zM1360.02 1901.39h13.2v13.2h-13.2zM1360.57 1900.32h13.2v13.2h-13.2zM1361.12 1899.25h13.2v13.2h-13.2zM1361.67 1898.18h13.2v13.2h-13.2zM1362.21 1897.11h13.2v13.2h-13.2zM1362.75 1896.04h13.2v13.2h-13.2zM1363.29 1894.96h13.2v13.2h-13.2zM1363.82 1893.89h13.2v13.2h-13.2zM1364.36 1892.81h13.2v13.2h-13.2zM1364.89 1891.73h13.2v13.2h-13.2zM1365.42 1890.65h13.2v13.2h-13.2zM1365.94 1889.57h13.2v13.2h-13.2zM1366.47 1888.49h13.2v13.2h-13.2zM1366.99 1887.41h13.2v13.2h-13.2zM1367.51 1886.32h13.2v13.2h-13.2zM1368.03 1885.24h13.2v13.2h-13.2zM1368.54 1884.15h13.2v13.2h-13.2zM1369.06 1883.07h13.2v13.2h-13.2zM1369.57 1881.98h13.2v13.2h-13.2zM1370.08 1880.89h13.2v13.2h-13.2zM1370.59 1879.81h13.2v13.2h-13.2zM1371.1 1878.72h13.2v13.2h-13.2zM1371.6 1877.63h13.2v13.2h-13.2zM1372.11 1876.54h13.2v13.2h-13.2zM1372.61 1875.45h13.2v13.2h-13.2zM1373.12 1874.35h13.2v13.2h-13.2zM1373.62 1873.26h13.2v13.2h-13.2zM1374.12 1872.17h13.2v13.2h-13.2zM1374.62 1871.08h13.2v13.2h-13.2zM1375.12 1869.98h13.2v13.2h-13.2zM1375.61 1868.89h13.2v13.2h-13.2zM1376.11 1867.8h13.2v13.2h-13.2zM1376.61 1866.7h13.2v13.2h-13.2zM1377.1 1865.61h13.2v13.2h-13.2zM1377.6 1864.51h13.2v13.2h-13.2zM1378.09 1863.42h13.2v13.2h-13.2zM1378.59 1862.32h13.2v13.2h-13.2zM1379.08 1861.23h13.2v13.2h-13.2zM1379.57 1860.13h13.2v13.2h-13.2zM1380.06 1859.03h13.2v13.2h-13.2zM1380.56 1857.94h13.2v13.2h-13.2zM1381.05 1856.84h13.2v13.2h-13.2zM1381.54 1855.74h13.2v13.2h-13.2zM1382.03 1854.64h13.2v13.2h-13.2zM1382.52 1853.55h13.2v13.2h-13.2zM1383 1852.45h13.2v13.2h-13.2zM1383.49 1851.35h13.2v13.2h-13.2zM1383.98 1850.25h13.2v13.2h-13.2zM1384.47 1849.15h13.2v13.2h-13.2zM1384.95 1848.06h13.2v13.2h-13.2zM1385.44 1846.96h13.2v13.2h-13.2zM1385.92 1845.86h13.2v13.2h-13.2zM1386.41 1844.76h13.2v13.2h-13.2zM1386.89 1843.66h13.2v13.2h-13.2zM1387.38 1842.56h13.2v13.2h-13.2zM1387.86 1841.46h13.2v13.2h-13.2zM1388.34 1840.36h13.2v13.2h-13.2zM1388.82 1839.25h13.2v13.2h-13.2zM1389.3 1838.15h13.2v13.2h-13.2zM1389.78 1837.05h13.2v13.2h-13.2zM1390.26 1835.95h13.2v13.2h-13.2zM1390.74 1834.85h13.2v13.2h-13.2zM1391.22 1833.75h13.2v13.2h-13.2zM1391.7 1832.64h13.2v13.2h-13.2zM1392.18 1831.54h13.2v13.2h-13.2zM1392.65 1830.44h13.2v13.2h-13.2zM1393.13 1829.34h13.2v13.2h-13.2zM1393.61 1828.23h13.2v13.2h-13.2zM1394.08 1827.13h13.2v13.2h-13.2zM1394.56 1826.02h13.2v13.2h-13.2zM1395.03 1824.92h13.2v13.2h-13.2zM1395.51 1823.82h13.2v13.2h-13.2zM1395.98 1822.71h13.2v13.2h-13.2zM1396.45 1821.61h13.2v13.2h-13.2zM1396.93 1820.5h13.2v13.2h-13.2zM1397.4 1819.4h13.2v13.2h-13.2zM1397.87 1818.29h13.2v13.2h-13.2zM1398.34 1817.19h13.2v13.2h-13.2zM1398.81 1816.08h13.2v13.2h-13.2zM1399.28 1814.97h13.2v13.2h-13.2zM1399.75 1813.87h13.2v13.2h-13.2zM1400.22 1812.76h13.2v13.2h-13.2zM1400.69 1811.65h13.2v13.2h-13.2zM1401.15 1810.55h13.2v13.2h-13.2zM1401.62 1809.44h13.2v13.2h-13.2zM1402.09 1808.33h13.2v13.2h-13.2zM1402.55 1807.23h13.2v13.2h-13.2zM1403.02 1806.12h13.2v13.2h-13.2zM1403.48 1805.01h13.2v13.2h-13.2zM1403.95 1803.9h13.2v13.2h-13.2zM1404.41 1802.79h13.2v13.2h-13.2zM1404.88 1801.68h13.2v13.2h-13.2zM1405.34 1800.58h13.2v13.2h-13.2zM1405.8 1799.47h13.2v13.2h-13.2zM1406.26 1798.36h13.2v13.2h-13.2zM1406.73 1797.25h13.2v13.2h-13.2zM1407.19 1796.14h13.2v13.2h-13.2zM1407.65 1795.03h13.2v13.2h-13.2zM1408.11 1793.92h13.2v13.2h-13.2zM1408.57 1792.81h13.2v13.2h-13.2zM1409.03 1791.7h13.2v13.2h-13.2zM1409.48 1790.59h13.2v13.2h-13.2zM1409.94 1789.48h13.2v13.2h-13.2zM1410.4 1788.36h13.2v13.2h-13.2zM1410.86 1787.25h13.2v13.2h-13.2zM1411.31 1786.14h13.2v13.2h-13.2zM1411.77 1785.03h13.2v13.2h-13.2zM1412.23 1783.92h13.2v13.2h-13.2zM1412.68 1782.81h13.2v13.2h-13.2zM1413.14 1781.69h13.2v13.2h-13.2zM1413.59 1780.58h13.2v13.2h-13.2zM1414.05 1779.47h13.2v13.2h-13.2zM1414.5 1778.36h13.2v13.2h-13.2zM1414.95 1777.24h13.2v13.2h-13.2zM1415.41 1776.13h13.2v13.2h-13.2zM1415.86 1775.02h13.2v13.2h-13.2zM1416.31 1773.9h13.2v13.2h-13.2zM1416.76 1772.79h13.2v13.2h-13.2zM1417.21 1771.68h13.2v13.2h-13.2zM1417.66 1770.56h13.2v13.2h-13.2zM1418.11 1769.45h13.2v13.2h-13.2zM1418.56 1768.33h13.2v13.2h-13.2zM1419.01 1767.22h13.2v13.2h-13.2zM1419.46 1766.1h13.2v13.2h-13.2zM1419.91 1764.99h13.2v13.2h-13.2zM1420.36 1763.87h13.2v13.2h-13.2zM1420.8 1762.76h13.2v13.2h-13.2zM1421.25 1761.64h13.2v13.2h-13.2zM1421.7 1760.53h13.2v13.2h-13.2zM1422.14 1759.41h13.2v13.2h-13.2zM1422.59 1758.3h13.2v13.2h-13.2zM1423.04 1757.18h13.2v13.2h-13.2zM1423.48 1756.06h13.2v13.2h-13.2zM1423.92 1754.95h13.2v13.2h-13.2zM1424.37 1753.83h13.2v13.2h-13.2zM1424.81 1752.71h13.2v13.2h-13.2zM1425.26 1751.6h13.2v13.2h-13.2zM1425.7 1750.48h13.2v13.2h-13.2zM1426.14 1749.36h13.2v13.2h-13.2zM1426.58 1748.25h13.2v13.2h-13.2zM1427.03 1747.13h13.2v13.2h-13.2zM1427.47 1746.01h13.2v13.2h-13.2zM1427.91 1744.89h13.2v13.2h-13.2zM1428.35 1743.77h13.2v13.2h-13.2zM1428.79 1742.66h13.2v13.2h-13.2zM1429.23 1741.54h13.2v13.2h-13.2zM1429.67 1740.42h13.2v13.2h-13.2zM1430.11 1739.3h13.2v13.2h-13.2zM1430.55 1738.18h13.2v13.2h-13.2zM1430.98 1737.06h13.2v13.2h-13.2zM1431.42 1735.94h13.2v13.2h-13.2zM1431.86 1734.83h13.2v13.2h-13.2zM1432.3 1733.71h13.2v13.2h-13.2zM1432.73 1732.59h13.2v13.2h-13.2zM1433.17 1731.47h13.2v13.2h-13.2zM1433.61 1730.35h13.2v13.2h-13.2zM1434.04 1729.23h13.2v13.2h-13.2zM1434.48 1728.11h13.2v13.2h-13.2zM1434.91 1726.99h13.2v13.2h-13.2zM1435.35 1725.87h13.2v13.2h-13.2zM1435.78 1724.75h13.2v13.2h-13.2zM1436.22 1723.63h13.2v13.2h-13.2zM1436.65 1722.51h13.2v13.2h-13.2zM1437.08 1721.38h13.2v13.2h-13.2zM1437.52 1720.26h13.2v13.2h-13.2zM1437.95 1719.14h13.2v13.2h-13.2zM1438.38 1718.02h13.2v13.2h-13.2zM1438.81 1716.9h13.2v13.2h-13.2zM1439.25 1715.78h13.2v13.2h-13.2zM1439.68 1714.66h13.2v13.2h-13.2zM1440.11 1713.54h13.2v13.2h-13.2zM1440.54 1712.41h13.2v13.2h-13.2zM1440.97 1711.29h13.2v13.2h-13.2zM1441.4 1710.17h13.2v13.2h-13.2zM1441.83 1709.05h13.2v13.2h-13.2zM1442.26 1707.92h13.2v13.2h-13.2zM1442.69 1706.8h13.2v13.2h-13.2zM1443.12 1705.68h13.2v13.2h-13.2zM1443.54 1704.56h13.2v13.2h-13.2zM1443.97 1703.43h13.2v13.2h-13.2zM1444.4 1702.31h13.2v13.2h-13.2zM1444.83 1701.19h13.2v13.2h-13.2zM1445.26 1700.07h13.2v13.2h-13.2zM1445.68 1698.94h13.2v13.2h-13.2zM1446.11 1697.82h13.2v13.2h-13.2zM1446.54 1696.7h13.2v13.2h-13.2zM1446.96 1695.57h13.2v13.2h-13.2zM1447.39 1694.45h13.2v13.2h-13.2zM1447.81 1693.32h13.2v13.2h-13.2zM1448.24 1692.2h13.2v13.2h-13.2zM1448.66 1691.08h13.2v13.2h-13.2zM1449.09 1689.95h13.2v13.2h-13.2zM1449.51 1688.83h13.2v13.2h-13.2zM1449.94 1687.7h13.2v13.2h-13.2zM1450.36 1686.58h13.2v13.2h-13.2zM1450.79 1685.45h13.2v13.2h-13.2zM1451.21 1684.33h13.2v13.2h-13.2zM1451.63 1683.21h13.2v13.2h-13.2zM1452.06 1682.08h13.2v13.2h-13.2zM1452.48 1680.96h13.2v13.2h-13.2zM1452.9 1679.83h13.2v13.2h-13.2zM1453.32 1678.71h13.2v13.2h-13.2zM1453.74 1677.58h13.2v13.2h-13.2zM1454.17 1676.46h13.2v13.2h-13.2zM1454.59 1675.33h13.2v13.2h-13.2zM1455.01 1674.2h13.2v13.2h-13.2zM1455.43 1673.08h13.2v13.2h-13.2zM1455.85 1671.95h13.2v13.2h-13.2zM1456.27 1670.83h13.2v13.2h-13.2zM1456.69 1669.7h13.2v13.2h-13.2zM1457.11 1668.58h13.2v13.2h-13.2zM1457.53 1667.45h13.2v13.2h-13.2zM1457.95 1666.32h13.2v13.2h-13.2zM1458.37 1665.2h13.2v13.2h-13.2zM1458.79 1664.07h13.2v13.2h-13.2zM1459.21 1662.95h13.2v13.2h-13.2zM1459.63 1661.82h13.2v13.2h-13.2zM1460.05 1660.69h13.2v13.2h-13.2zM1460.46 1659.57h13.2v13.2h-13.2zM1460.88 1658.44h13.2v13.2h-13.2zM1461.3 1657.31h13.2v13.2h-13.2zM1461.72 1656.19h13.2v13.2h-13.2zM1462.14 1655.06h13.2v13.2h-13.2zM1462.55 1653.93h13.2v13.2h-13.2zM1462.97 1652.81h13.2v13.2h-13.2zM1463.39 1651.68h13.2v13.2h-13.2zM1463.8 1650.55h13.2v13.2h-13.2zM1464.22 1649.42h13.2v13.2h-13.2zM1464.64 1648.3h13.2v13.2h-13.2zM1465.05 1647.17h13.2v13.2h-13.2zM1465.47 1646.04h13.2v13.2h-13.2zM1465.88 1644.91h13.2v13.2h-13.2zM1466.3 1643.79h13.2v13.2h-13.2zM1466.72 1642.66h13.2v13.2h-13.2zM1467.13 1641.53h13.2v13.2h-13.2zM1467.55 1640.4h13.2v13.2h-13.2zM1467.96 1639.28h13.2v13.2h-13.2zM1468.38 1638.15h13.2v13.2h-13.2zM1468.79 1637.02h13.2v13.2h-13.2zM1469.2 1635.89h13.2v13.2h-13.2zM1469.62 1634.77h13.2v13.2h-13.2zM1470.03 1633.64h13.2v13.2h-13.2zM1470.45 1632.51h13.2v13.2h-13.2zM1470.86 1631.38h13.2v13.2h-13.2zM1471.28 1630.25h13.2v13.2h-13.2zM1471.69 1629.12h13.2v13.2h-13.2zM1472.1 1628h13.2v13.2h-13.2zM1472.52 1626.87h13.2v13.2h-13.2zM1472.93 1625.74h13.2v13.2h-13.2zM1473.34 1624.61h13.2v13.2h-13.2zM1473.75 1623.48h13.2v13.2h-13.2zM1474.17 1622.35h13.2v13.2h-13.2zM1474.58 1621.23h13.2v13.2h-13.2zM1474.99 1620.1h13.2v13.2h-13.2zM1475.41 1618.97h13.2v13.2h-13.2zM1475.82 1617.84h13.2v13.2h-13.2zM1476.23 1616.71h13.2v13.2h-13.2zM1476.64 1615.58h13.2v13.2h-13.2zM1477.05 1614.45h13.2v13.2h-13.2zM1477.47 1613.32h13.2v13.2h-13.2zM1477.88 1612.2h13.2v13.2h-13.2zM1478.29 1611.07h13.2v13.2h-13.2zM1478.7 1609.94h13.2v13.2h-13.2zM1479.11 1608.81h13.2v13.2h-13.2zM1479.52 1607.68h13.2v13.2h-13.2zM1479.94 1606.55h13.2v13.2h-13.2zM1480.35 1605.42h13.2v13.2h-13.2zM1480.76 1604.29h13.2v13.2h-13.2zM1481.17 1603.16h13.2v13.2h-13.2zM1481.58 1602.03h13.2v13.2h-13.2zM1481.99 1600.9h13.2v13.2h-13.2zM1482.4 1599.77h13.2v13.2h-13.2zM1482.81 1598.65h13.2v13.2h-13.2zM1483.22 1597.52h13.2v13.2h-13.2zM1483.63 1596.39h13.2v13.2h-13.2zM1484.04 1595.26h13.2v13.2h-13.2zM1484.45 1594.13h13.2v13.2h-13.2zM1484.86 1593h13.2v13.2h-13.2zM1485.27 1591.87h13.2v13.2h-13.2zM1485.68 1590.74h13.2v13.2h-13.2zM1486.1 1589.61h13.2v13.2h-13.2zM1486.51 1588.48h13.2v13.2h-13.2zM1486.92 1587.35h13.2v13.2h-13.2zM1487.33 1586.22h13.2v13.2h-13.2zM1487.74 1585.09h13.2v13.2h-13.2zM1488.15 1583.96h13.2v13.2h-13.2zM1488.56 1582.83h13.2v13.2h-13.2zM1488.97 1581.7h13.2v13.2h-13.2zM1489.38 1580.57h13.2v13.2h-13.2zM1489.78 1579.44h13.2v13.2h-13.2zM1490.19 1578.31h13.2v13.2h-13.2zM1490.6 1577.18h13.2v13.2h-13.2zM1491.01 1576.05h13.2v13.2h-13.2zM1491.42 1574.93h13.2v13.2h-13.2zM1491.83 1573.8h13.2v13.2h-13.2zM1492.24 1572.67h13.2v13.2h-13.2zM1492.65 1571.54h13.2v13.2h-13.2zM1493.06 1570.41h13.2v13.2h-13.2zM1493.47 1569.28h13.2v13.2h-13.2zM1493.88 1568.15h13.2v13.2h-13.2zM1494.29 1567.02h13.2v13.2h-13.2zM1494.7 1565.89h13.2v13.2h-13.2zM1495.11 1564.76h13.2v13.2h-13.2zM1495.52 1563.63h13.2v13.2h-13.2zM1495.93 1562.5h13.2v13.2h-13.2zM1496.34 1561.37h13.2v13.2h-13.2zM1496.75 1560.24h13.2v13.2h-13.2zM1497.16 1559.11h13.2v13.2h-13.2zM1497.57 1557.98h13.2v13.2h-13.2zM1497.98 1556.85h13.2v13.2h-13.2zM1498.39 1555.72h13.2v13.2h-13.2zM1498.8 1554.59h13.2v13.2h-13.2zM1499.21 1553.46h13.2v13.2h-13.2zM1499.62 1552.33h13.2v13.2h-13.2zM1500.03 1551.2h13.2v13.2h-13.2zM1500.44 1550.07h13.2v13.2h-13.2zM1500.85 1548.94h13.2v13.2h-13.2zM1501.26 1547.81h13.2v13.2h-13.2zM1501.67 1546.68h13.2v13.2h-13.2zM1502.08 1545.55h13.2v13.2h-13.2zM1502.49 1544.42h13.2v13.2h-13.2zM1502.9 1543.29h13.2v13.2h-13.2zM1503.31 1542.16h13.2v13.2h-13.2zM1503.72 1541.04h13.2v13.2h-13.2zM1504.13 1539.91h13.2v13.2h-13.2zM1504.54 1538.78h13.2v13.2h-13.2zM1504.95 1537.65h13.2v13.2h-13.2zM1505.36 1536.52h13.2v13.2h-13.2zM1505.77 1535.39h13.2v13.2h-13.2zM1506.18 1534.26h13.2v13.2h-13.2zM1506.59 1533.13h13.2v13.2h-13.2zM1507 1532h13.2v13.2h-13.2z" fill="#ff0000"/>
<path d="M970.42 2043.14L972.42 2043.03L974.41 2042.92L976.41 2042.82L978.41 2042.73L980.41 2042.63L982.4 2042.54L984.4 2042.45L986.4 2042.36L988.4 2042.27L990.39 2042.18L992.39 2042.09L994.39 2042L996.39 2041.91L998.39 2041.82L1000.38 2041.73L1002.38 2041.65L1004.38 2041.56L1006.38 2041.48L1008.38 2041.39L1010.38 2041.3L1012.38 2041.22L1014.38 2041.14L1016.37 2041.05L1018.37 2040.97L1020.37 2040.89L1022.37 2040.8L1024.37 2040.72L1026.37 2040.64L1028.37 2040.56L1030.37 2040.48L1032.37 2040.4L1034.37 2040.32L1036.37 2040.23L1038.37 2040.15L1040.37 2040.07L1042.37 2039.99L1044.37 2039.92L1046.37 2039.84L1048.37 2039.76L1050.37 2039.68L1052.37 2039.59L1054.37 2039.49L1056.37 2039.4L1058.37 2039.31L1060.36 2039.22L1062.36 2039.13L1064.36 2039.03L1066.36 2038.94L1068.36 2038.85L1070.36 2038.76L1072.37 2038.67L1074.37 2038.58L1076.37 2038.48L1078.37 2038.39L1080.37 2038.3L1082.37 2038.21L1084.37 2038.12L1086.37 2038.02L1088.37 2037.93L1090.37 2037.84L1092.37 2037.75L1094.37 2037.65L1096.37 2037.56L1098.37 2037.47L1100.37 2037.37L1102.37 2037.28L1104.38 2037.19L1106.38 2037.09L1108.38 2037L1110.38 2036.9L1112.38 2036.81L1114.38 2036.71L1116.38 2036.62L1118.38 2036.52L1120.39 2036.42L1122.39 2036.33L1124.39 2036.23L1126.39 2036.13L1128.39 2036.03L1130.39 2035.93L1132.4 2035.84L1134.4 2035.74L1136.4 2035.64L1138.4 2035.54L1140.4 2035.43L1142.4 2035.33L1144.41 2035.23L1146.41 2035.13L1148.41 2035.02L1150.41 2034.92L1152.41 2034.84L1154.42 2034.77L1156.42 2034.69L1158.43 2034.61L1160.43 2034.53L1162.43 2034.45L1164.44 2034.37L1166.44 2034.29L1168.44 2034.21L1170.45 2034.12L1172.45 2034.04L1174.46 2033.96L1176.46 2033.87L1178.46 2033.78L1180.47 2033.7L1182.47 2033.61L1184.48 2033.52L1186.48 2033.43L1188.48 2033.34L1190.49 2033.25L1192.49 2033.16L1194.5 2033.06L1196.5 2032.97L1198.51 2032.88L1200.51 2032.78L1202.51 2032.68L1204.52 2032.59L1206.52 2032.49L1208.53 2032.39L1210.53 2032.29L1212.54 2032.18L1214.54 2032.08L1216.55 2031.98L1218.55 2031.87L1220.56 2031.76L1222.56 2031.66L1224.57 2031.55L1226.57 2031.44L1228.57 2031.33L1230.58 2031.22L1232.58 2031.1L1234.59 2030.99L1236.59 2030.87L1238.6 2030.75L1240.6 2030.64L1242.61 2030.49L1244.61 2030.34L1246.61 2030.19L1248.61 2030.04L1250.62 2029.89L1252.62 2029.73L1254.62 2029.58L1256.63 2029.42L1258.63 2029.26L1260.63 2029.1L1262.63 2028.94L1264.64 2028.78L1266.64 2028.61L1268.64 2028.45L1270.64 2028.28L1272.65 2028.11L1274.65 2027.94L1276.65 2027.77L1278.65 2027.6L1280.65 2027.42L1282.66 2027.25L1284.66 2027.07L1286.66 2026.89L1288.66 2026.71L1290.66 2026.52L1292.66 2026.34L1294.67 2026.15L1296.67 2025.97L1298.67 2025.78L1300.67 2025.58L1302.65 2025.18L1304.65 2024.97L1306.65 2024.77L1308.65 2024.56L1310.65 2024.34L1312.65 2024.13L1314.65 2023.91L1316.65 2023.7L1318.65 2023.48L1320.65 2023.26L1322.65 2023.03L1324.64 2022.81L1326.64 2022.58L1328.64 2022.35L1330.64 2022.12L1332.64 2021.88L1334.63 2021.65L1336.63 2021.41L1338.63 2021.17L1340.63 2020.93L1342.62 2020.68L1344.62 2020.44L1346.62 2020.19L1348.61 2019.94L1350.61 2019.69L1352.61 2019.43L1354.6 2019.17L1356.6 2018.91L1358.59 2018.65L1360.59 2018.39L1362.58 2018.12L1364.58 2017.85L1366.57 2017.58L1368.56 2017.31L1370.56 2017.03L1372.55 2016.75L1374.55 2016.47L1376.54 2016.19L1378.53 2015.9L1380.52 2015.61L1382.52 2015.32L1384.51 2015.03L1386.5 2014.73L1388.49 2014.44L1390.48 2014.13L1392.47 2013.83L1394.46 2013.52L1396.45 2013.22L1398.44 2012.9L1400.43 2012.59L1402.42 2012.27L1404.41 2011.95L1406.4 2011.63L1408.38 2011.31L1410.37 2010.98L1412.36 2010.65L1414.34 2010.32L1416.33 2009.98L1418.32 2009.64L1420.3 2009.3L1422.29 2008.96L1424.27 2008.61L1426.25 2008.26L1428.24 2007.91L1430.22 2007.55L1432.2 2007.19L1434.18 2006.83L1436.17 2006.47L1438.15 2006.1L1440.13 2005.73L1442.11 2005.35L1444.09 2004.98L1446.07 2004.6L1448.05 2004.21L1450.02 2003.83L1452 2003.44L1453.98 2003.05L1455.95 2002.65L1457.93 2002.25L1459.9 2001.85L1461.88 2001.45L1463.85 2001.04L1465.83 2000.63L1467.8 2000.21L1469.77 1999.8L1471.74 1999.38L1473.71 1998.95L1475.68 1998.53L1477.65 1998.09L1479.62 1997.66L1481.59 1997.22L1483.56 1996.78L1485.52 1996.34L1487.49 1995.89L1489.46 1995.44L1491.42 1994.99L1493.38 1994.53L1495.35 1994.07L1497.31 1993.6L1499.27 1993.14L1501.23 1992.67L1503.19 1992.19L1505.15 1991.71L1507.11 1991.23L1509.07 1990.74L1511.02 1990.26L1512.98 1989.76L1514.93 1989.27L1511.08 1973.74L1509.14 1974.21L1507.2 1974.67L1505.27 1975.13L1503.34 1975.59L1501.4 1976.04L1499.46 1976.5L1497.53 1976.94L1495.59 1977.39L1493.65 1977.83L1491.71 1978.26L1489.77 1978.7L1487.83 1979.12L1485.89 1979.55L1483.95 1979.97L1482 1980.39L1480.06 1980.81L1478.11 1981.22L1476.17 1981.63L1474.22 1982.04L1472.27 1982.44L1470.33 1982.84L1468.38 1983.24L1466.43 1983.63L1464.48 1984.02L1462.53 1984.41L1460.58 1984.8L1458.62 1985.18L1456.67 1985.55L1454.72 1985.93L1452.76 1986.3L1450.81 1986.67L1448.85 1987.03L1446.9 1987.4L1444.94 1987.76L1442.98 1988.11L1441.03 1988.46L1439.07 1988.81L1437.11 1989.16L1435.15 1989.51L1433.19 1989.85L1431.23 1990.19L1429.27 1990.52L1427.31 1990.85L1425.34 1991.18L1423.38 1991.51L1421.42 1991.83L1419.45 1992.16L1417.49 1992.47L1415.52 1992.79L1413.56 1993.1L1411.59 1993.41L1409.63 1993.72L1407.66 1994.02L1405.69 1994.33L1403.72 1994.62L1401.76 1994.92L1399.79 1995.22L1397.82 1995.51L1395.85 1995.79L1393.88 1996.08L1391.91 1996.36L1389.94 1996.64L1387.97 1996.92L1385.99 1997.2L1384.02 1997.47L1382.05 1997.74L1380.08 1998.01L1378.1 1998.28L1376.13 1998.54L1374.15 1998.8L1372.18 1999.06L1370.2 1999.31L1368.23 1999.57L1366.25 1999.82L1364.28 2000.07L1362.3 2000.31L1360.32 2000.56L1358.35 2000.8L1356.37 2001.04L1354.39 2001.28L1352.41 2001.51L1350.43 2001.74L1348.46 2001.97L1346.48 2002.2L1344.5 2002.43L1342.52 2002.65L1340.54 2002.87L1338.56 2003.09L1336.58 2003.31L1334.59 2003.53L1332.61 2003.74L1330.63 2003.95L1328.65 2004.16L1326.67 2004.37L1324.68 2004.57L1322.7 2004.78L1320.72 2004.98L1318.74 2005.18L1316.75 2005.38L1314.77 2005.57L1312.78 2005.76L1310.8 2005.96L1308.82 2006.15L1306.83 2006.33L1304.85 2006.52L1302.86 2006.7L1300.87 2006.89L1298.87 2006.87L1296.88 2007.06L1294.9 2007.25L1292.91 2007.44L1290.93 2007.62L1288.94 2007.8L1286.96 2007.99L1284.97 2008.17L1282.98 2008.34L1281 2008.52L1279.01 2008.7L1277.02 2008.87L1275.04 2009.04L1273.05 2009.21L1271.06 2009.38L1269.07 2009.55L1267.08 2009.71L1265.1 2009.88L1263.11 2010.04L1261.12 2010.2L1259.13 2010.36L1257.14 2010.52L1255.15 2010.68L1253.16 2010.83L1251.17 2010.99L1249.18 2011.14L1247.19 2011.29L1245.2 2011.44L1243.21 2011.59L1241.22 2011.74L1239.23 2011.89L1237.24 2012.06L1235.25 2012.23L1233.26 2012.4L1231.27 2012.57L1229.28 2012.74L1227.29 2012.91L1225.3 2013.07L1223.31 2013.24L1221.32 2013.4L1219.33 2013.56L1217.34 2013.72L1215.35 2013.88L1213.36 2014.04L1211.37 2014.2L1209.38 2014.36L1207.38 2014.51L1205.39 2014.67L1203.4 2014.82L1201.41 2014.97L1199.42 2015.13L1197.42 2015.28L1195.43 2015.43L1193.44 2015.58L1191.45 2015.72L1189.45 2015.87L1187.46 2016.02L1185.47 2016.16L1183.47 2016.31L1181.48 2016.45L1179.49 2016.59L1177.49 2016.73L1175.5 2016.88L1173.5 2017.02L1171.51 2017.16L1169.51 2017.29L1167.52 2017.43L1165.53 2017.57L1163.53 2017.71L1161.54 2017.84L1159.54 2017.98L1157.55 2018.11L1155.55 2018.25L1153.56 2018.38L1151.56 2018.51L1149.56 2018.64L1147.57 2018.75L1145.57 2018.85L1143.57 2018.95L1141.58 2019.05L1139.58 2019.16L1137.58 2019.26L1135.58 2019.36L1133.59 2019.46L1131.59 2019.56L1129.59 2019.65L1127.59 2019.75L1125.59 2019.85L1123.6 2019.95L1121.6 2020.05L1119.6 2020.14L1117.6 2020.24L1115.6 2020.33L1113.6 2020.43L1111.61 2020.53L1109.61 2020.62L1107.61 2020.72L1105.61 2020.81L1103.61 2020.9L1101.61 2021L1099.61 2021.09L1097.61 2021.18L1095.61 2021.28L1093.61 2021.37L1091.62 2021.46L1089.62 2021.56L1087.62 2021.65L1085.62 2021.74L1083.62 2021.83L1081.62 2021.93L1079.62 2022.02L1077.62 2022.11L1075.62 2022.2L1073.62 2022.29L1071.62 2022.38L1069.62 2022.48L1067.62 2022.57L1065.62 2022.66L1063.62 2022.75L1061.62 2022.84L1059.62 2022.93L1057.62 2023.03L1055.62 2023.12L1053.62 2023.21L1051.62 2023.3L1049.61 2023.4L1047.61 2023.5L1045.61 2023.61L1043.61 2023.71L1041.61 2023.82L1039.61 2023.93L1037.61 2024.03L1035.61 2024.14L1033.61 2024.25L1031.61 2024.35L1029.61 2024.46L1027.61 2024.57L1025.61 2024.68L1023.61 2024.79L1021.61 2024.9L1019.61 2025L1017.61 2025.11L1015.61 2025.22L1013.61 2025.34L1011.61 2025.45L1009.6 2025.56L1007.6 2025.67L1005.6 2025.78L1003.6 2025.89L1001.6 2026.01L999.6 2026.12L997.6 2026.23L995.6 2026.35L993.6 2026.46L991.6 2026.58L989.59 2026.7L987.59 2026.81L985.59 2026.93L983.59 2027.05L981.59 2027.17L979.59 2027.29L977.59 2027.41L975.59 2027.53L973.58 2027.64L971.58 2027.75L969.58 2027.86Z" fill="#000"/>
<circle cx="970" cy="2035.5" r="7.65" fill="#000"/>
<circle cx="1513" cy="1981.5" r="8" fill="#000"/>
<circle cx="1441" cy="2001.2" r="9.4" fill="#000"/>
</g>
<g id="axes">
<path d="M240.3 640.1H994.86M242.2 31.37V642M242.08 640.1v11.5M357.6 640.1v11.5M473.12 640.1v11.5M588.64 640.1v11.5M704.16 640.1v11.5M819.68 640.1v11.5M935.2 640.1v11.5M299.84 640.1v6M415.36 640.1v6M530.88 640.1v6M646.4 640.1v6M761.92 640.1v6M877.44 640.1v6M992.96 640.1v6M242.2 608.1h-11.5M242.2 544.23h-11.5M242.2 480.36h-11.5M242.2 416.49h-11.5M242.2 352.62h-11.5M242.2 288.75h-11.5M242.2 224.88h-11.5M242.2 161.01h-11.5M242.2 97.14h-11.5M242.2 33.27h-11.5M242.2 640.03h-6M242.2 576.17h-6M242.2 512.3h-6M242.2 448.43h-6M242.2 384.56h-6M242.2 320.69h-6M242.2 256.82h-6M242.2 192.95h-6M242.2 129.08h-6M242.2 65.21h-6" fill="none" stroke="#000" stroke-width="3.8"/>
<text transform="translate(219.85 679.9) scale(0.9850 1.0600)" font-family='"Liberation Sans", sans-serif' font-size="26.2" font-weight="bold">-0.2</text>
<text transform="translate(339.66 679.9) scale(0.9850 1.0600)" font-family='"Liberation Sans", sans-serif' font-size="26.2" font-weight="bold">0.0</text>
<text transform="translate(455.18 679.9) scale(0.9850 1.0600)" font-family='"Liberation Sans", sans-serif' font-size="26.2" font-weight="bold">0.2</text>
<text transform="translate(570.7 679.9) scale(0.9850 1.0600)" font-family='"Liberation Sans", sans-serif' font-size="26.2" font-weight="bold">0.4</text>
<text transform="translate(686.22 679.9) scale(0.9850 1.0600)" font-family='"Liberation Sans", sans-serif' font-size="26.2" font-weight="bold">0.6</text>
<text transform="translate(801.74 679.9) scale(0.9850 1.0600)" font-family='"Liberation Sans", sans-serif' font-size="26.2" font-weight="bold">0.8</text>
<text transform="translate(917.26 679.9) scale(0.9850 1.0600)" font-family='"Liberation Sans", sans-serif' font-size="26.2" font-weight="bold">1.0</text>
<text transform="translate(207.65 615.5) scale(0.9850 1.0600)" font-family='"Liberation Sans", sans-serif' font-size="26.2" font-weight="bold">0</text>
<text transform="translate(148.34 553.33) scale(0.9850 1.0600)" font-family='"Liberation Sans", sans-serif' font-size="26.2" font-weight="bold"><tspan>1×10</tspan><tspan font-size="16.24" dy="-10.5">-7</tspan></text>
<text transform="translate(148.34 489.46) scale(0.9850 1.0600)" font-family='"Liberation Sans", sans-serif' font-size="26.2" font-weight="bold"><tspan>2×10</tspan><tspan font-size="16.24" dy="-10.5">-7</tspan></text>
<text transform="translate(148.34 425.59) scale(0.9850 1.0600)" font-family='"Liberation Sans", sans-serif' font-size="26.2" font-weight="bold"><tspan>3×10</tspan><tspan font-size="16.24" dy="-10.5">-7</tspan></text>
<text transform="translate(148.34 361.72) scale(0.9850 1.0600)" font-family='"Liberation Sans", sans-serif' font-size="26.2" font-weight="bold"><tspan>4×10</tspan><tspan font-size="16.24" dy="-10.5">-7</tspan></text>
<text transform="translate(148.34 297.85) scale(0.9850 1.0600)" font-family='"Liberation Sans", sans-serif' font-size="26.2" font-weight="bold"><tspan>5×10</tspan><tspan font-size="16.24" dy="-10.5">-7</tspan></text>
<text transform="translate(148.34 233.98) scale(0.9850 1.0600)" font-family='"Liberation Sans", sans-serif' font-size="26.2" font-weight="bold"><tspan>6×10</tspan><tspan font-size="16.24" dy="-10.5">-7</tspan></text>
<text transform="translate(148.34 170.11) scale(0.9850 1.0600)" font-family='"Liberation Sans", sans-serif' font-size="26.2" font-weight="bold"><tspan>7×10</tspan><tspan font-size="16.24" dy="-10.5">-7</tspan></text>
<text transform="translate(148.34 106.24) scale(0.9850 1.0600)" font-family='"Liberation Sans", sans-serif' font-size="26.2" font-weight="bold"><tspan>8×10</tspan><tspan font-size="16.24" dy="-10.5">-7</tspan></text>
<text transform="translate(148.34 42.37) scale(0.9850 1.0600)" font-family='"Liberation Sans", sans-serif' font-size="26.2" font-weight="bold"><tspan>9×10</tspan><tspan font-size="16.24" dy="-10.5">-7</tspan></text>
<path d="M1330.1 640.1H2084.26M1332 31.2V642M1331.48 640.1v11.5M1447 640.1v11.5M1562.52 640.1v11.5M1678.04 640.1v11.5M1793.56 640.1v11.5M1909.08 640.1v11.5M2024.6 640.1v11.5M1389.24 640.1v6M1504.76 640.1v6M1620.28 640.1v6M1735.8 640.1v6M1851.32 640.1v6M1966.84 640.1v6M2082.36 640.1v6M1332 573.1h-11.5M1332 438.1h-11.5M1332 303.1h-11.5M1332 168.1h-11.5M1332 33.1h-11.5M1332 640.6h-6M1332 505.6h-6M1332 370.6h-6M1332 235.6h-6M1332 100.6h-6" fill="none" stroke="#000" stroke-width="3.8"/>
<text transform="translate(1309.25 679.9) scale(0.9850 1.0600)" font-family='"Liberation Sans", sans-serif' font-size="26.2" font-weight="bold">-0.2</text>
<text transform="translate(1429.06 679.9) scale(0.9850 1.0600)" font-family='"Liberation Sans", sans-serif' font-size="26.2" font-weight="bold">0.0</text>
<text transform="translate(1544.58 679.9) scale(0.9850 1.0600)" font-family='"Liberation Sans", sans-serif' font-size="26.2" font-weight="bold">0.2</text>
<text transform="translate(1660.1 679.9) scale(0.9850 1.0600)" font-family='"Liberation Sans", sans-serif' font-size="26.2" font-weight="bold">0.4</text>
<text transform="translate(1775.62 679.9) scale(0.9850 1.0600)" font-family='"Liberation Sans", sans-serif' font-size="26.2" font-weight="bold">0.6</text>
<text transform="translate(1891.14 679.9) scale(0.9850 1.0600)" font-family='"Liberation Sans", sans-serif' font-size="26.2" font-weight="bold">0.8</text>
<text transform="translate(2006.66 679.9) scale(0.9850 1.0600)" font-family='"Liberation Sans", sans-serif' font-size="26.2" font-weight="bold">1.0</text>
<text transform="translate(1216.62 582.2) scale(0.9850 1.0600)" font-family='"Liberation Sans", sans-serif' font-size="26.2" font-weight="bold"><tspan>5.0×10</tspan><tspan font-size="16.24" dy="-10.5">-7</tspan></text>
<text transform="translate(1216.62 447.2) scale(0.9850 1.0600)" font-family='"Liberation Sans", sans-serif' font-size="26.2" font-weight="bold"><tspan>1.0×10</tspan><tspan font-size="16.24" dy="-10.5">-6</tspan></text>
<text transform="translate(1216.62 312.2) scale(0.9850 1.0600)" font-family='"Liberation Sans", sans-serif' font-size="26.2" font-weight="bold"><tspan>1.5×10</tspan><tspan font-size="16.24" dy="-10.5">-6</tspan></text>
<text transform="translate(1216.62 177.2) scale(0.9850 1.0600)" font-family='"Liberation Sans", sans-serif' font-size="26.2" font-weight="bold"><tspan>2.0×10</tspan><tspan font-size="16.24" dy="-10.5">-6</tspan></text>
<text transform="translate(1216.62 42.2) scale(0.9850 1.0600)" font-family='"Liberation Sans", sans-serif' font-size="26.2" font-weight="bold"><tspan>2.5×10</tspan><tspan font-size="16.24" dy="-10.5">-6</tspan></text>
<path d="M236 1362H990.72M237.9 752V1363.9M301.1 1362v11.5M426.14 1362v11.5M551.18 1362v11.5M676.22 1362v11.5M801.26 1362v11.5M926.3 1362v11.5M238.58 1362v6M363.62 1362v6M488.66 1362v6M613.7 1362v6M738.74 1362v6M863.78 1362v6M988.82 1362v6M237.9 1306.9h-11.5M237.9 1196.3h-11.5M237.9 1085.7h-11.5M237.9 975.1h-11.5M237.9 864.5h-11.5M237.9 753.9h-11.5M237.9 1362.2h-6M237.9 1251.6h-6M237.9 1141h-6M237.9 1030.4h-6M237.9 919.8h-6M237.9 809.2h-6" fill="none" stroke="#000" stroke-width="3.8"/>
<text transform="translate(283.16 1401.8) scale(0.9850 1.0600)" font-family='"Liberation Sans", sans-serif' font-size="26.2" font-weight="bold">0.0</text>
<text transform="translate(408.2 1401.8) scale(0.9850 1.0600)" font-family='"Liberation Sans", sans-serif' font-size="26.2" font-weight="bold">0.2</text>
<text transform="translate(533.24 1401.8) scale(0.9850 1.0600)" font-family='"Liberation Sans", sans-serif' font-size="26.2" font-weight="bold">0.4</text>
<text transform="translate(658.28 1401.8) scale(0.9850 1.0600)" font-family='"Liberation Sans", sans-serif' font-size="26.2" font-weight="bold">0.6</text>
<text transform="translate(783.32 1401.8) scale(0.9850 1.0600)" font-family='"Liberation Sans", sans-serif' font-size="26.2" font-weight="bold">0.8</text>
<text transform="translate(908.36 1401.8) scale(0.9850 1.0600)" font-family='"Liberation Sans", sans-serif' font-size="26.2" font-weight="bold">1.0</text>
<text transform="translate(181.82 1314.3) scale(0.9850 1.0600)" font-family='"Liberation Sans", sans-serif' font-size="26.2" font-weight="bold">0.0</text>
<text transform="translate(122.52 1205.4) scale(0.9850 1.0600)" font-family='"Liberation Sans", sans-serif' font-size="26.2" font-weight="bold"><tspan>2.0×10</tspan><tspan font-size="16.24" dy="-10.5">-4</tspan></text>
<text transform="translate(122.52 1094.8) scale(0.9850 1.0600)" font-family='"Liberation Sans", sans-serif' font-size="26.2" font-weight="bold"><tspan>4.0×10</tspan><tspan font-size="16.24" dy="-10.5">-4</tspan></text>
<text transform="translate(122.52 984.2) scale(0.9850 1.0600)" font-family='"Liberation Sans", sans-serif' font-size="26.2" font-weight="bold"><tspan>6.0×10</tspan><tspan font-size="16.24" dy="-10.5">-4</tspan></text>
<text transform="translate(122.52 873.6) scale(0.9850 1.0600)" font-family='"Liberation Sans", sans-serif' font-size="26.2" font-weight="bold"><tspan>8.0×10</tspan><tspan font-size="16.24" dy="-10.5">-4</tspan></text>
<text transform="translate(122.52 763) scale(0.9850 1.0600)" font-family='"Liberation Sans", sans-serif' font-size="26.2" font-weight="bold"><tspan>1.0×10</tspan><tspan font-size="16.24" dy="-10.5">-3</tspan></text>
<path d="M1319.1 1358H2072.78M1321 747.6V1359.9M1396.1 1358v11.5M1546.05 1358v11.5M1696 1358v11.5M1845.95 1358v11.5M1995.9 1358v11.5M1321.12 1358v6M1471.07 1358v6M1621.02 1358v6M1770.97 1358v6M1920.92 1358v6M2070.88 1358v6M1321 1313.7h-11.5M1321 1226.9h-11.5M1321 1140.1h-11.5M1321 1053.3h-11.5M1321 966.5h-11.5M1321 879.7h-11.5M1321 792.9h-11.5M1321 1357.1h-6M1321 1270.3h-6M1321 1183.5h-6M1321 1096.7h-6M1321 1009.9h-6M1321 923.1h-6M1321 836.3h-6M1321 749.5h-6" fill="none" stroke="#000" stroke-width="3.8"/>
<text transform="translate(1378.16 1397.8) scale(0.9850 1.0600)" font-family='"Liberation Sans", sans-serif' font-size="26.2" font-weight="bold">0.2</text>
<text transform="translate(1528.11 1397.8) scale(0.9850 1.0600)" font-family='"Liberation Sans", sans-serif' font-size="26.2" font-weight="bold">0.4</text>
<text transform="translate(1678.06 1397.8) scale(0.9850 1.0600)" font-family='"Liberation Sans", sans-serif' font-size="26.2" font-weight="bold">0.6</text>
<text transform="translate(1828.01 1397.8) scale(0.9850 1.0600)" font-family='"Liberation Sans", sans-serif' font-size="26.2" font-weight="bold">0.8</text>
<text transform="translate(1977.96 1397.8) scale(0.9850 1.0600)" font-family='"Liberation Sans", sans-serif' font-size="26.2" font-weight="bold">1.0</text>
<text transform="translate(1264.92 1321.1) scale(0.9850 1.0600)" font-family='"Liberation Sans", sans-serif' font-size="26.2" font-weight="bold">0.0</text>
<text transform="translate(1205.62 1236) scale(0.9850 1.0600)" font-family='"Liberation Sans", sans-serif' font-size="26.2" font-weight="bold"><tspan>1.0×10</tspan><tspan font-size="16.24" dy="-10.5">-4</tspan></text>
<text transform="translate(1205.62 1149.2) scale(0.9850 1.0600)" font-family='"Liberation Sans", sans-serif' font-size="26.2" font-weight="bold"><tspan>2.0×10</tspan><tspan font-size="16.24" dy="-10.5">-4</tspan></text>
<text transform="translate(1205.62 1062.4) scale(0.9850 1.0600)" font-family='"Liberation Sans", sans-serif' font-size="26.2" font-weight="bold"><tspan>3.0×10</tspan><tspan font-size="16.24" dy="-10.5">-4</tspan></text>
<text transform="translate(1205.62 975.6) scale(0.9850 1.0600)" font-family='"Liberation Sans", sans-serif' font-size="26.2" font-weight="bold"><tspan>4.0×10</tspan><tspan font-size="16.24" dy="-10.5">-4</tspan></text>
<text transform="translate(1205.62 888.8) scale(0.9850 1.0600)" font-family='"Liberation Sans", sans-serif' font-size="26.2" font-weight="bold"><tspan>5.0×10</tspan><tspan font-size="16.24" dy="-10.5">-4</tspan></text>
<text transform="translate(1205.62 802) scale(0.9850 1.0600)" font-family='"Liberation Sans", sans-serif' font-size="26.2" font-weight="bold"><tspan>6.0×10</tspan><tspan font-size="16.24" dy="-10.5">-4</tspan></text>
<path d="M830.1 2082.6H1583.99M832 1473.7V2084.5M832 2082.6v11.5M968.38 2082.6v11.5M1104.76 2082.6v11.5M1241.14 2082.6v11.5M1377.52 2082.6v11.5M1513.9 2082.6v11.5M900.19 2082.6v6M1036.57 2082.6v6M1172.95 2082.6v6M1309.33 2082.6v6M1445.71 2082.6v6M1582.09 2082.6v6M832 2042.6h-11.5M832 1961.6h-11.5M832 1880.6h-11.5M832 1799.6h-11.5M832 1718.6h-11.5M832 1637.6h-11.5M832 1556.6h-11.5M832 1475.6h-11.5M832 2083.1h-6M832 2002.1h-6M832 1921.1h-6M832 1840.1h-6M832 1759.1h-6M832 1678.1h-6M832 1597.1h-6M832 1516.1h-6" fill="none" stroke="#000" stroke-width="3.8"/>
<text transform="translate(814.06 2122.4) scale(0.9850 1.0600)" font-family='"Liberation Sans", sans-serif' font-size="26.2" font-weight="bold">0.0</text>
<text transform="translate(950.44 2122.4) scale(0.9850 1.0600)" font-family='"Liberation Sans", sans-serif' font-size="26.2" font-weight="bold">0.2</text>
<text transform="translate(1086.82 2122.4) scale(0.9850 1.0600)" font-family='"Liberation Sans", sans-serif' font-size="26.2" font-weight="bold">0.4</text>
<text transform="translate(1223.2 2122.4) scale(0.9850 1.0600)" font-family='"Liberation Sans", sans-serif' font-size="26.2" font-weight="bold">0.6</text>
<text transform="translate(1359.58 2122.4) scale(0.9850 1.0600)" font-family='"Liberation Sans", sans-serif' font-size="26.2" font-weight="bold">0.8</text>
<text transform="translate(1495.96 2122.4) scale(0.9850 1.0600)" font-family='"Liberation Sans", sans-serif' font-size="26.2" font-weight="bold">1.0</text>
<text transform="translate(775.92 2050) scale(0.9850 1.0600)" font-family='"Liberation Sans", sans-serif' font-size="26.2" font-weight="bold">0.0</text>
<text transform="translate(716.62 1970.7) scale(0.9850 1.0600)" font-family='"Liberation Sans", sans-serif' font-size="26.2" font-weight="bold"><tspan>2.0×10</tspan><tspan font-size="16.24" dy="-10.5">-4</tspan></text>
<text transform="translate(716.62 1889.7) scale(0.9850 1.0600)" font-family='"Liberation Sans", sans-serif' font-size="26.2" font-weight="bold"><tspan>4.0×10</tspan><tspan font-size="16.24" dy="-10.5">-4</tspan></text>
<text transform="translate(716.62 1808.7) scale(0.9850 1.0600)" font-family='"Liberation Sans", sans-serif' font-size="26.2" font-weight="bold"><tspan>6.0×10</tspan><tspan font-size="16.24" dy="-10.5">-4</tspan></text>
<text transform="translate(716.62 1727.7) scale(0.9850 1.0600)" font-family='"Liberation Sans", sans-serif' font-size="26.2" font-weight="bold"><tspan>8.0×10</tspan><tspan font-size="16.24" dy="-10.5">-4</tspan></text>
<text transform="translate(716.62 1646.7) scale(0.9850 1.0600)" font-family='"Liberation Sans", sans-serif' font-size="26.2" font-weight="bold"><tspan>1.0×10</tspan><tspan font-size="16.24" dy="-10.5">-3</tspan></text>
<text transform="translate(716.62 1565.7) scale(0.9850 1.0600)" font-family='"Liberation Sans", sans-serif' font-size="26.2" font-weight="bold"><tspan>1.2×10</tspan><tspan font-size="16.24" dy="-10.5">-3</tspan></text>
<text transform="translate(716.62 1484.7) scale(0.9850 1.0600)" font-family='"Liberation Sans", sans-serif' font-size="26.2" font-weight="bold"><tspan>1.4×10</tspan><tspan font-size="16.24" dy="-10.5">-3</tspan></text>
</g>
<g id="titles">
<text transform="translate(288.5 86.3) scale(1.0144 1.0000)" font-family='"Liberation Serif", serif' font-size="33.5" font-weight="bold"><tspan font-style="italic">E/V</tspan><tspan> vs. Ag/AgCl 0.5 M Na</tspan><tspan font-size="31.49" dy="10.38">2</tspan><tspan dy="-10.38">So</tspan><tspan font-size="31.49" dy="10.38">4</tspan></text>
<text transform="translate(349 143.2) scale(0.9834 1.0000)" font-family='"Liberation Serif", serif' font-size="38" font-weight="bold"><tspan>SnO</tspan><tspan font-size="35.72" dy="10.26">2</tspan><tspan dy="-10.26">-As deposited</tspan></text>
<text transform="translate(1363.5 106.8) scale(0.9684 1.0000)" font-family='"Liberation Serif", serif' font-size="30" font-weight="bold"><tspan font-style="italic">E/V</tspan><tspan> vs. Ag/AgCl 0.5 M Na</tspan><tspan font-size="28.2" dy="10.8">2</tspan><tspan dy="-10.8">So</tspan><tspan font-size="28.2" dy="10.8">4</tspan></text>
<text transform="translate(1405 163.8) scale(1.0199 1.0000)" font-family='"Liberation Serif", serif' font-size="36.5" font-weight="bold">CuO-As deposited</text>
<text transform="translate(280.5 825) scale(1.0604 1.0000)" font-family='"Liberation Serif", serif' font-size="29.5" font-weight="bold"><tspan font-style="italic">E/V</tspan><tspan> vs. Ag/AgCl  0.5 M Na</tspan><tspan font-size="27.73" dy="10.32">2</tspan><tspan dy="-10.32">So</tspan><tspan font-size="27.73" dy="10.32">4</tspan></text>
<text transform="translate(344 897.3) scale(0.9603 1.0000)" font-family='"Liberation Serif", serif' font-size="39" font-weight="bold"><tspan>SnO</tspan><tspan font-size="36.66" dy="7.8">2</tspan><tspan dy="-7.8">/CuO-400 </tspan><tspan font-size="35.88" dy="-15.6">o</tspan><tspan dy="15.6">C</tspan></text>
<text transform="translate(1356 822.6) scale(1.0054 1.0000)" font-family='"Liberation Serif", serif' font-size="29" font-weight="bold"><tspan>E/V</tspan><tspan> vs. Ag/AgCl 0.5 M Na</tspan><tspan font-size="27.26" dy="11.02">2</tspan><tspan dy="-11.02">So</tspan><tspan font-size="27.26" dy="11.02">4</tspan></text>
<text transform="translate(1411 897.3) scale(0.9632 1.0000)" font-family='"Liberation Serif", serif' font-size="39" font-weight="bold"><tspan>SnO</tspan><tspan font-size="36.66" dy="8.19">2</tspan><tspan dy="-8.19">/CuO-500</tspan><tspan font-size="35.88" dy="-16.38">o</tspan><tspan dy="16.38">C</tspan></text>
<text transform="translate(850 1545) scale(1.0853 1.0000)" font-family='"Liberation Serif", serif' font-size="32" font-weight="bold"><tspan font-style="italic">E/V</tspan><tspan> Vs. Ag/AgCl 0.5 M of Na</tspan><tspan font-size="26.88" dy="9.28">2</tspan><tspan dy="-9.28">So</tspan><tspan font-size="26.88" dy="9.28">4</tspan></text>
<text transform="translate(907.5 1617.2) scale(0.9583 1.0000)" font-family='"Liberation Serif", serif' font-size="39" font-weight="bold"><tspan>SnO</tspan><tspan font-size="32.76" dy="8.19">2</tspan><tspan dy="-8.19">/CuO-600 </tspan><tspan font-size="35.88" dy="-15.6">o</tspan><tspan dy="15.6">C</tspan></text>
</g>
<g id="legends">
<path d="M271.6 195V290.4H705.4V195" fill="none" stroke="#000" stroke-width="1.1"/>
<path d="M276.3 219.4H356.8" fill="none" stroke="#515151" stroke-width="1"/>
<rect x="310.1" y="213.5" width="13" height="13" fill="#515151"/>
<circle cx="316.6" cy="265.2" r="7.6" fill="#f14040"/>
<text transform="translate(365.7 232) scale(1.0340 1.0000)" font-family='"Liberation Serif", serif' font-size="35.5">Under Dark Condition</text>
<text transform="translate(365.7 277) scale(1.0304 1.0000)" font-family='"Liberation Serif", serif' font-size="35.5">Under Light Condition</text>
<path d="M1350.6 210.8H1792.6V307.3H1350.6Z" fill="none" stroke="#000" stroke-width="1.1"/>
<path d="M1355.5 235.6H1437.6" fill="none" stroke="#515151" stroke-width="1"/>
<rect x="1389.45" y="229.25" width="13.5" height="13.5" fill="#515151"/>
<path d="M1355.5 282.4H1437.6" fill="none" stroke="#f14040" stroke-width="1"/>
<circle cx="1396.5" cy="282.2" r="7.8" fill="#f14040"/>
<text transform="translate(1445.7 248.8) scale(1.0254 1.0000)" font-family='"Liberation Serif", serif' font-size="36.5">Under Dark Condition</text>
<text transform="translate(1445.7 295) scale(1.0246 1.0000)" font-family='"Liberation Serif", serif' font-size="36.5">Under Light Condition</text>
<path d="M725 936V1040" fill="none" stroke="#e8e8e8" stroke-width="1"/>
<path d="M253 1040.1H725.4" fill="none" stroke="#000" stroke-width="1.1"/>
<path d="M258.6 963.2H346.2" stroke="#515151" stroke-width="11.2" stroke-linecap="round"/>
<path d="M258.6 1012.6H346.2" stroke="#f14040" stroke-width="11.2" stroke-linecap="round"/>
<text transform="translate(358.2 977) scale(1.0342 1.0000)" font-family='"Liberation Serif", serif' font-size="38.5">Under Dark Condition</text>
<text transform="translate(358.2 1026.8) scale(1.0332 1.0000)" font-family='"Liberation Serif", serif' font-size="38.5">Under light  Condition</text>
<path d="M1779.3 926V1023" fill="none" stroke="#e8e8e8" stroke-width="1"/>
<path d="M1336.8 926.3V1023.4H1779.6" fill="none" stroke="#000" stroke-width="1.1"/>
<path d="M1341.3 951.8H1425" fill="none" stroke="#515151" stroke-width="1"/>
<rect x="1376.1" y="944.8" width="12.8" height="12.8" fill="#515151"/>
<path d="M1341.3 997.6H1425" fill="none" stroke="#f14040" stroke-width="1"/>
<circle cx="1382.5" cy="997.6" r="7.5" fill="#f14040"/>
<text transform="translate(1433.2 964.2) scale(1.0224 1.0000)" font-family='"Liberation Serif", serif' font-size="36.5">Under Dark Condition</text>
<text transform="translate(1433.2 1010.4) scale(1.0201 1.0000)" font-family='"Liberation Serif", serif' font-size="36.5">Under Light Condition</text>
<path d="M852.6 1673.2H1298.8V1770.6H852.6Z" fill="none" stroke="#000" stroke-width="1.7"/>
<rect x="892" y="1691.5" width="13" height="13" fill="#ff0000"/>
<path d="M857 1744.6H940.8" fill="none" stroke="#000" stroke-width="1"/>
<circle cx="898.8" cy="1744.6" r="7.6" fill="#000"/>
<text transform="translate(950.7 1711) scale(1.0201 1.0000)" font-family='"Liberation Serif", serif' font-size="36.5">Under Light Condition</text>
<text transform="translate(949.2 1756.8) scale(1.0199 1.0000)" font-family='"Liberation Serif", serif' font-size="36.5">Under Dark  Condition</text>
</g>
<g id="labels">
<text transform="translate(900.5 581.3) scale(0.9458 1.0400)" font-family='"Liberation Sans", sans-serif' font-size="50">(a)</text>
<text transform="translate(1989 581.3) scale(1.0113 1.0400)" font-family='"Liberation Sans", sans-serif' font-size="50">(b)</text>
<text transform="translate(898 1302.8) scale(0.9468 1.0400)" font-family='"Liberation Sans", sans-serif' font-size="50">(c)</text>
<text transform="translate(2001.8 1298.8) scale(1.0015 1.0400)" font-family='"Liberation Sans", sans-serif' font-size="50">(d)</text>
<text transform="translate(1518 2025.3) scale(0.9655 1.0400)" font-family='"Liberation Sans", sans-serif' font-size="50">(e)</text>
<text transform="translate(0 2237.2)" font-family='"Liberation Sans", sans-serif' font-size="64"><tspan x="923.83" textLength="104.17" lengthAdjust="spacingAndGlyphs" y="0">E/V</tspan> <tspan x="1047.7" textLength="84.03" lengthAdjust="spacingAndGlyphs" y="0">Vs.</tspan> <tspan x="1149" textLength="235.29" lengthAdjust="spacingAndGlyphs" y="0">Ag/AgCl</tspan></text>
<text transform="translate(84.4 0) rotate(-90)" font-family='"Liberation Sans", sans-serif' font-size="64"><tspan x="-1025.8" textLength="226.56" lengthAdjust="spacingAndGlyphs" y="0">Current</tspan> <tspan x="-780.06" textLength="223.46" lengthAdjust="spacingAndGlyphs" y="0">Density</tspan> <tspan x="-543.7" textLength="166" lengthAdjust="spacingAndGlyphs" y="0">A/cm</tspan><tspan x="-380.6" textLength="32.46" lengthAdjust="spacingAndGlyphs" font-size="40" y="-22.9">-2</tspan></text>
</g>
</svg>
</body></html>
